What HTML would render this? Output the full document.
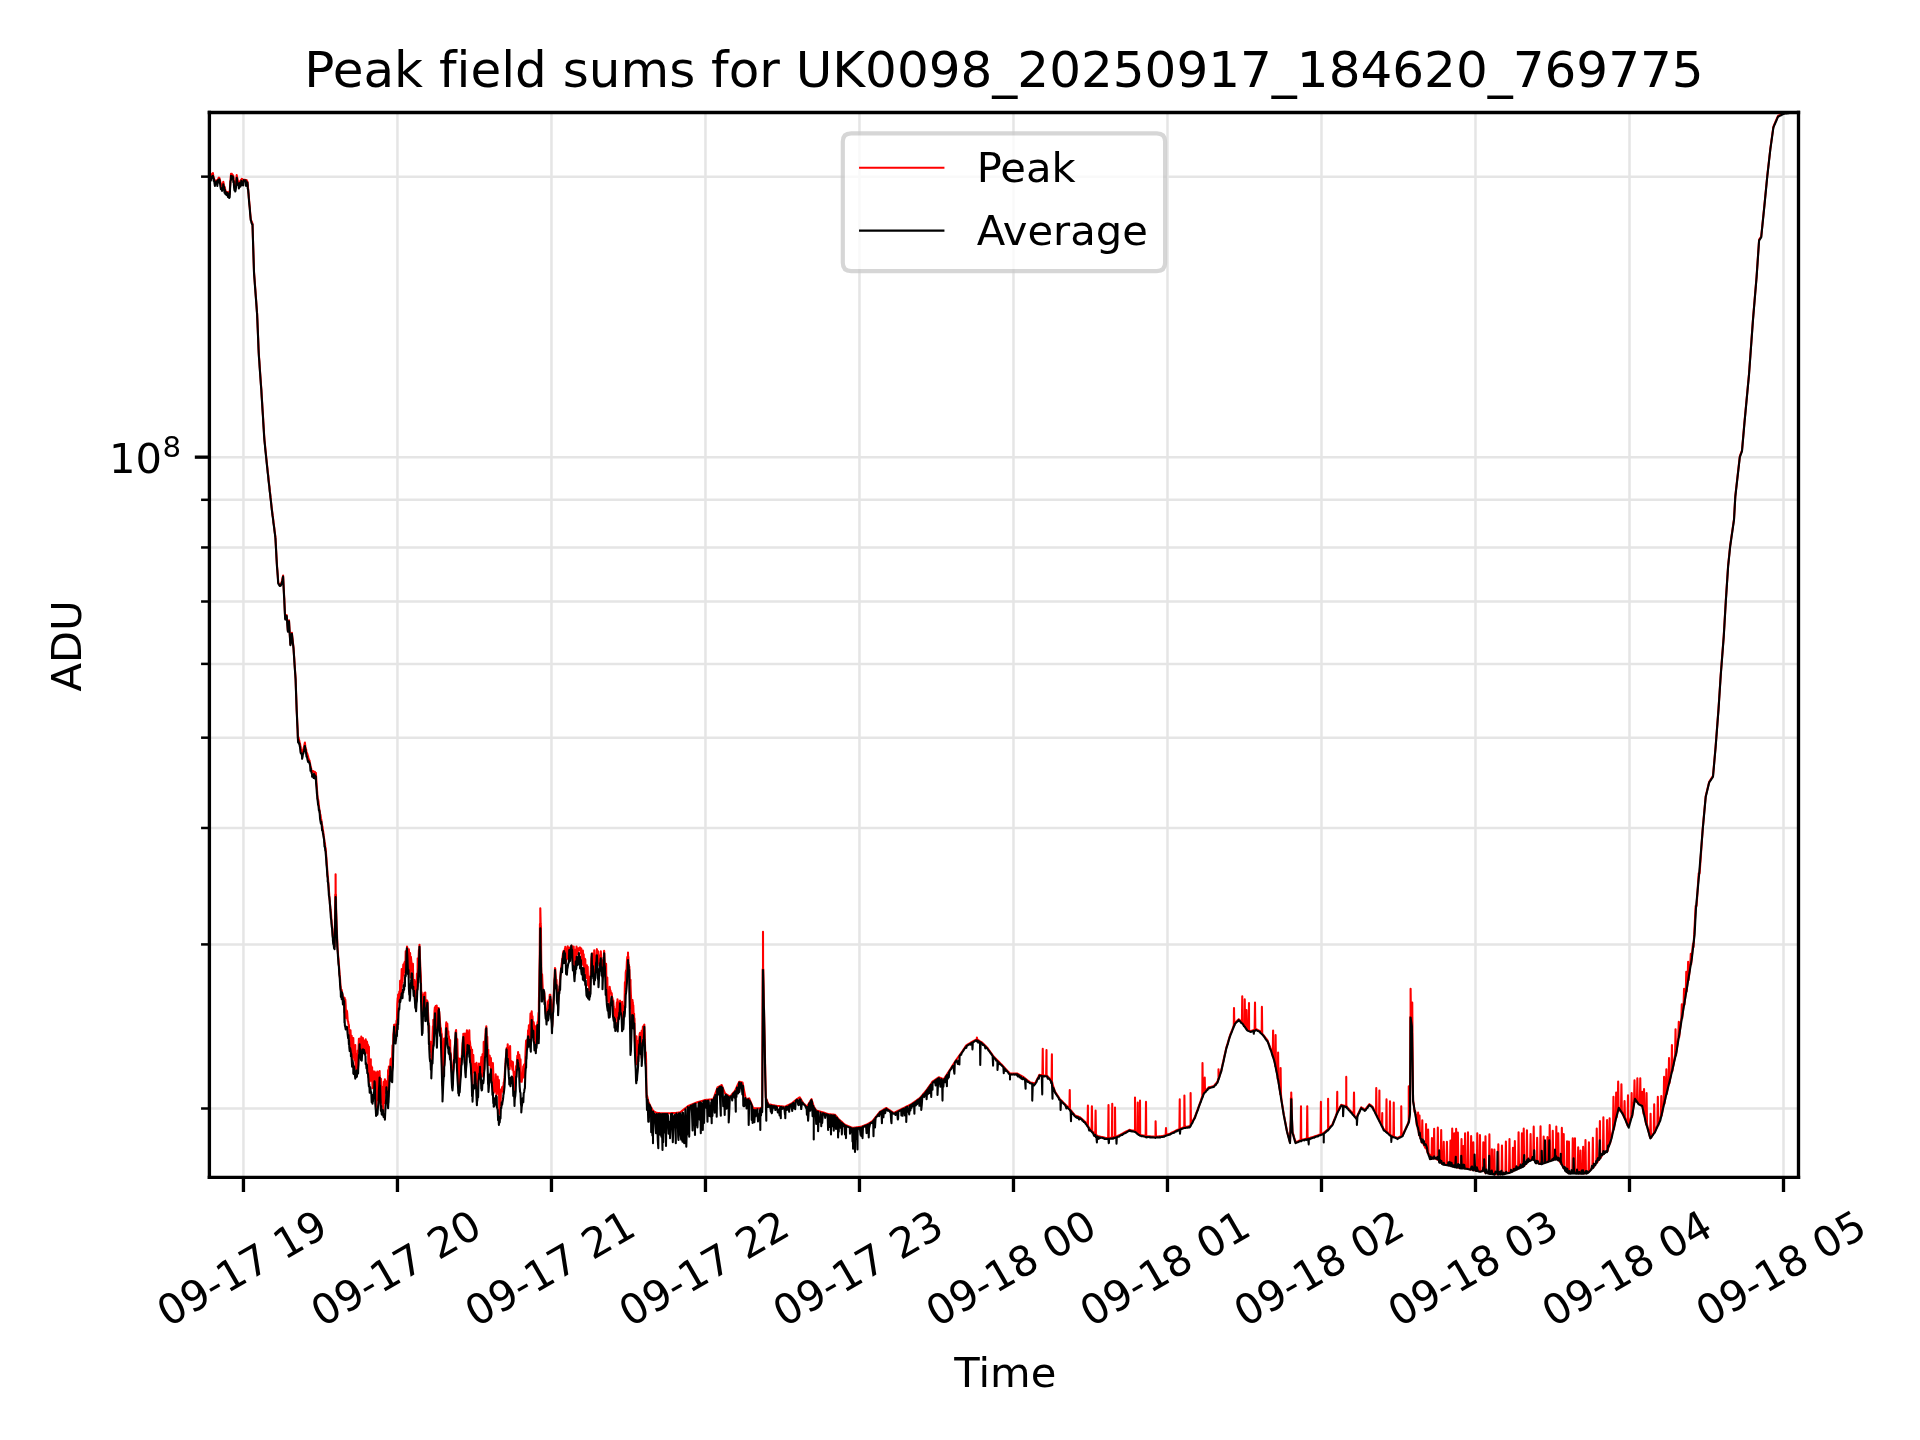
<!DOCTYPE html>
<html><head><meta charset="utf-8"><title>Peak field sums</title><style>html,body{margin:0;padding:0;background:#fff;overflow:hidden;width:1920px;height:1440px;}svg{display:block;will-change:transform;} text{font-variant-ligatures:none;font-feature-settings:"liga" 0;}</style></head><body>
<svg width="1920" height="1440" viewBox="0 0 460.8 345.6" version="1.1">
 <defs>
  <style type="text/css">*{stroke-linejoin: round; stroke-linecap: butt}</style>
 </defs>
 <g id="figure_1">
  <g id="patch_1">
   <path d="M 0 345.6 
L 460.8 345.6 
L 460.8 0 
L 0 0 
z
" style="fill: #ffffff"/>
  </g>
  <g id="axes_1">
   <g id="patch_2">
    <path d="M 50.256 282.576 
L 431.64 282.576 
L 431.64 27 
L 50.256 27 
z
" style="fill: #ffffff"/>
   </g>
   <g id="matplotlib.axis_1">
    <g id="xtick_1">
     <g id="line2d_1">
      <path d="M 58.428 282.576 
L 58.428 27 
" clip-path="url(#p43e6e4fcc2)" style="fill: none; stroke: #e5e5e5; stroke-width: 0.6; stroke-linecap: square"/>
     </g>
     <g id="line2d_2">
      <g>
       <path d="M 0 0 L 0 3.5" transform="translate(58.428 282.576)" style="stroke: #000000; stroke-width: 0.8"/>
      </g>
     </g>
     <g id="text_1">
      <text style="font-size: 10px; font-family: 'DejaVu Sans', sans-serif" transform="translate(40.33903 318.636909) rotate(-30)">09-17 19</text>
     </g>
    </g>
    <g id="xtick_2">
     <g id="line2d_3">
      <path d="M 95.3892 282.576 
L 95.3892 27 
" clip-path="url(#p43e6e4fcc2)" style="fill: none; stroke: #e5e5e5; stroke-width: 0.6; stroke-linecap: square"/>
     </g>
     <g id="line2d_4">
      <g>
       <path d="M 0 0 L 0 3.5" transform="translate(95.3892 282.576)" style="stroke: #000000; stroke-width: 0.8"/>
      </g>
     </g>
     <g id="text_2">
      <text style="font-size: 10px; font-family: 'DejaVu Sans', sans-serif" transform="translate(77.30023 318.636909) rotate(-30)">09-17 20</text>
     </g>
    </g>
    <g id="xtick_3">
     <g id="line2d_5">
      <path d="M 132.3504 282.576 
L 132.3504 27 
" clip-path="url(#p43e6e4fcc2)" style="fill: none; stroke: #e5e5e5; stroke-width: 0.6; stroke-linecap: square"/>
     </g>
     <g id="line2d_6">
      <g>
       <path d="M 0 0 L 0 3.5" transform="translate(132.3504 282.576)" style="stroke: #000000; stroke-width: 0.8"/>
      </g>
     </g>
     <g id="text_3">
      <text style="font-size: 10px; font-family: 'DejaVu Sans', sans-serif" transform="translate(114.26143 318.636909) rotate(-30)">09-17 21</text>
     </g>
    </g>
    <g id="xtick_4">
     <g id="line2d_7">
      <path d="M 169.3116 282.576 
L 169.3116 27 
" clip-path="url(#p43e6e4fcc2)" style="fill: none; stroke: #e5e5e5; stroke-width: 0.6; stroke-linecap: square"/>
     </g>
     <g id="line2d_8">
      <g>
       <path d="M 0 0 L 0 3.5" transform="translate(169.3116 282.576)" style="stroke: #000000; stroke-width: 0.8"/>
      </g>
     </g>
     <g id="text_4">
      <text style="font-size: 10px; font-family: 'DejaVu Sans', sans-serif" transform="translate(151.22263 318.636909) rotate(-30)">09-17 22</text>
     </g>
    </g>
    <g id="xtick_5">
     <g id="line2d_9">
      <path d="M 206.2728 282.576 
L 206.2728 27 
" clip-path="url(#p43e6e4fcc2)" style="fill: none; stroke: #e5e5e5; stroke-width: 0.6; stroke-linecap: square"/>
     </g>
     <g id="line2d_10">
      <g>
       <path d="M 0 0 L 0 3.5" transform="translate(206.2728 282.576)" style="stroke: #000000; stroke-width: 0.8"/>
      </g>
     </g>
     <g id="text_5">
      <text style="font-size: 10px; font-family: 'DejaVu Sans', sans-serif" transform="translate(188.18383 318.636909) rotate(-30)">09-17 23</text>
     </g>
    </g>
    <g id="xtick_6">
     <g id="line2d_11">
      <path d="M 243.234 282.576 
L 243.234 27 
" clip-path="url(#p43e6e4fcc2)" style="fill: none; stroke: #e5e5e5; stroke-width: 0.6; stroke-linecap: square"/>
     </g>
     <g id="line2d_12">
      <g>
       <path d="M 0 0 L 0 3.5" transform="translate(243.234 282.576)" style="stroke: #000000; stroke-width: 0.8"/>
      </g>
     </g>
     <g id="text_6">
      <text style="font-size: 10px; font-family: 'DejaVu Sans', sans-serif" transform="translate(224.8570 318.6369) rotate(-30)">09-18 00</text>
     </g>
    </g>
    <g id="xtick_7">
     <g id="line2d_13">
      <path d="M 280.1952 282.576 
L 280.1952 27 
" clip-path="url(#p43e6e4fcc2)" style="fill: none; stroke: #e5e5e5; stroke-width: 0.6; stroke-linecap: square"/>
     </g>
     <g id="line2d_14">
      <g>
       <path d="M 0 0 L 0 3.5" transform="translate(280.1952 282.576)" style="stroke: #000000; stroke-width: 0.8"/>
      </g>
     </g>
     <g id="text_7">
      <text style="font-size: 10px; font-family: 'DejaVu Sans', sans-serif" transform="translate(261.8182 318.6369) rotate(-30)">09-18 01</text>
     </g>
    </g>
    <g id="xtick_8">
     <g id="line2d_15">
      <path d="M 317.1564 282.576 
L 317.1564 27 
" clip-path="url(#p43e6e4fcc2)" style="fill: none; stroke: #e5e5e5; stroke-width: 0.6; stroke-linecap: square"/>
     </g>
     <g id="line2d_16">
      <g>
       <path d="M 0 0 L 0 3.5" transform="translate(317.1564 282.576)" style="stroke: #000000; stroke-width: 0.8"/>
      </g>
     </g>
     <g id="text_8">
      <text style="font-size: 10px; font-family: 'DejaVu Sans', sans-serif" transform="translate(298.7794 318.6369) rotate(-30)">09-18 02</text>
     </g>
    </g>
    <g id="xtick_9">
     <g id="line2d_17">
      <path d="M 354.1176 282.576 
L 354.1176 27 
" clip-path="url(#p43e6e4fcc2)" style="fill: none; stroke: #e5e5e5; stroke-width: 0.6; stroke-linecap: square"/>
     </g>
     <g id="line2d_18">
      <g>
       <path d="M 0 0 L 0 3.5" transform="translate(354.1176 282.576)" style="stroke: #000000; stroke-width: 0.8"/>
      </g>
     </g>
     <g id="text_9">
      <text style="font-size: 10px; font-family: 'DejaVu Sans', sans-serif" transform="translate(335.7406 318.6369) rotate(-30)">09-18 03</text>
     </g>
    </g>
    <g id="xtick_10">
     <g id="line2d_19">
      <path d="M 391.0788 282.576 
L 391.0788 27 
" clip-path="url(#p43e6e4fcc2)" style="fill: none; stroke: #e5e5e5; stroke-width: 0.6; stroke-linecap: square"/>
     </g>
     <g id="line2d_20">
      <g>
       <path d="M 0 0 L 0 3.5" transform="translate(391.0788 282.576)" style="stroke: #000000; stroke-width: 0.8"/>
      </g>
     </g>
     <g id="text_10">
      <text style="font-size: 10px; font-family: 'DejaVu Sans', sans-serif" transform="translate(372.7018 318.6369) rotate(-30)">09-18 04</text>
     </g>
    </g>
    <g id="xtick_11">
     <g id="line2d_21">
      <path d="M 428.04 282.576 
L 428.04 27 
" clip-path="url(#p43e6e4fcc2)" style="fill: none; stroke: #e5e5e5; stroke-width: 0.6; stroke-linecap: square"/>
     </g>
     <g id="line2d_22">
      <g>
       <path d="M 0 0 L 0 3.5" transform="translate(428.04 282.576)" style="stroke: #000000; stroke-width: 0.8"/>
      </g>
     </g>
     <g id="text_11">
      <text style="font-size: 10px; font-family: 'DejaVu Sans', sans-serif" transform="translate(409.6630 318.6369) rotate(-30)">09-18 05</text>
     </g>
    </g>
    <g id="text_12">
     <text style="font-size: 10px; font-family: 'DejaVu Sans', sans-serif; text-anchor: middle" x="241.2840" y="332.8764" transform="rotate(-0 241.2840 332.8764)">Time</text>
    </g>
   </g>
   <g id="matplotlib.axis_2">
    <g id="ytick_1">
     <g id="line2d_23">
      <path d="M 50.256 109.7184 
L 431.64 109.7184 
" clip-path="url(#p43e6e4fcc2)" style="fill: none; stroke: #e5e5e5; stroke-width: 0.6; stroke-linecap: square"/>
     </g>
     <g id="line2d_24">
      <g>
       <path d="M 0 0 L -3.5 0" transform="translate(50.256 109.7184)" style="stroke: #000000; stroke-width: 0.8"/>
      </g>
     </g>
     <g id="text_13">
      <!-- $\mathdefault{10^{8}}$ -->
      <g transform="translate(26.1600 114.4776)">
       <text>
        <tspan x="0" y="-0.976562" style="font-size: 10px; font-family: 'DejaVu Sans', sans-serif">1</tspan>
        <tspan x="6.362305" y="-0.976562" style="font-size: 10px; font-family: 'DejaVu Sans', sans-serif">0</tspan>
        <tspan x="12.820312" y="-4.804688" style="font-size: 7px; font-family: 'DejaVu Sans', sans-serif">8</tspan>
       </text>
      </g>
     </g>
    </g>
    <g id="ytick_2">
     <g id="line2d_25">
      <path d="M 50.256 266.040525 
L 431.64 266.040525 
" clip-path="url(#p43e6e4fcc2)" style="fill: none; stroke: #e5e5e5; stroke-width: 0.6; stroke-linecap: square"/>
     </g>
     <g id="line2d_26">
      <g>
       <path d="M 0 0 L -2 0" transform="translate(50.256 266.040525)" style="stroke: #000000; stroke-width: 0.6"/>
      </g>
     </g>
    </g>
    <g id="ytick_3">
     <g id="line2d_27">
      <path d="M 50.256 226.658349 
L 431.64 226.658349 
" clip-path="url(#p43e6e4fcc2)" style="fill: none; stroke: #e5e5e5; stroke-width: 0.6; stroke-linecap: square"/>
     </g>
     <g id="line2d_28">
      <g>
       <path d="M 0 0 L -2 0" transform="translate(50.256 226.658349)" style="stroke: #000000; stroke-width: 0.6"/>
      </g>
     </g>
    </g>
    <g id="ytick_4">
     <g id="line2d_29">
      <path d="M 50.256 198.71625 
L 431.64 198.71625 
" clip-path="url(#p43e6e4fcc2)" style="fill: none; stroke: #e5e5e5; stroke-width: 0.6; stroke-linecap: square"/>
     </g>
     <g id="line2d_30">
      <g>
       <path d="M 0 0 L -2 0" transform="translate(50.256 198.71625)" style="stroke: #000000; stroke-width: 0.6"/>
      </g>
     </g>
    </g>
    <g id="ytick_5">
     <g id="line2d_31">
      <path d="M 50.256 177.042675 
L 431.64 177.042675 
" clip-path="url(#p43e6e4fcc2)" style="fill: none; stroke: #e5e5e5; stroke-width: 0.6; stroke-linecap: square"/>
     </g>
     <g id="line2d_32">
      <g>
       <path d="M 0 0 L -2 0" transform="translate(50.256 177.042675)" style="stroke: #000000; stroke-width: 0.6"/>
      </g>
     </g>
    </g>
    <g id="ytick_6">
     <g id="line2d_33">
      <path d="M 50.256 159.334074 
L 431.64 159.334074 
" clip-path="url(#p43e6e4fcc2)" style="fill: none; stroke: #e5e5e5; stroke-width: 0.6; stroke-linecap: square"/>
     </g>
     <g id="line2d_34">
      <g>
       <path d="M 0 0 L -2 0" transform="translate(50.256 159.334074)" style="stroke: #000000; stroke-width: 0.6"/>
      </g>
     </g>
    </g>
    <g id="ytick_7">
     <g id="line2d_35">
      <path d="M 50.256 144.361666 
L 431.64 144.361666 
" clip-path="url(#p43e6e4fcc2)" style="fill: none; stroke: #e5e5e5; stroke-width: 0.6; stroke-linecap: square"/>
     </g>
     <g id="line2d_36">
      <g>
       <path d="M 0 0 L -2 0" transform="translate(50.256 144.361666)" style="stroke: #000000; stroke-width: 0.6"/>
      </g>
     </g>
    </g>
    <g id="ytick_8">
     <g id="line2d_37">
      <path d="M 50.256 131.391976 
L 431.64 131.391976 
" clip-path="url(#p43e6e4fcc2)" style="fill: none; stroke: #e5e5e5; stroke-width: 0.6; stroke-linecap: square"/>
     </g>
     <g id="line2d_38">
      <g>
       <path d="M 0 0 L -2 0" transform="translate(50.256 131.391976)" style="stroke: #000000; stroke-width: 0.6"/>
      </g>
     </g>
    </g>
    <g id="ytick_9">
     <g id="line2d_39">
      <path d="M 50.256 119.951898 
L 431.64 119.951898 
" clip-path="url(#p43e6e4fcc2)" style="fill: none; stroke: #e5e5e5; stroke-width: 0.6; stroke-linecap: square"/>
     </g>
     <g id="line2d_40">
      <g>
       <path d="M 0 0 L -2 0" transform="translate(50.256 119.951898)" style="stroke: #000000; stroke-width: 0.6"/>
      </g>
     </g>
    </g>
    <g id="ytick_10">
     <g id="line2d_41">
      <path d="M 50.256 42.394125 
L 431.64 42.394125 
" clip-path="url(#p43e6e4fcc2)" style="fill: none; stroke: #e5e5e5; stroke-width: 0.6; stroke-linecap: square"/>
     </g>
     <g id="line2d_42">
      <g>
       <path d="M 0 0 L -2 0" transform="translate(50.256 42.394125)" style="stroke: #000000; stroke-width: 0.6"/>
      </g>
     </g>
    </g>
    <g id="text_14">
     <text style="font-size: 10px; font-family: 'DejaVu Sans', sans-serif; text-anchor: middle" x="19.3963" y="155.0040" transform="rotate(-90 19.3963 155.0040)">ADU</text>
    </g>
   </g>
   <g id="line2d_43">
    <path d="M 50.304 42.254966 
L 50.328 42.182571 
L 50.424 42.281031 
L 50.52 42.314468 
L 50.616 41.956691 
L 50.712 42.061817 
L 50.808 42.006429 
L 50.904 41.843817 
L 51 41.594347 
L 51.096 41.594642 
L 51.096 41.523974 
L 51.192 42.220038 
L 51.288 42.659609 
L 51.384 42.887783 
L 51.48 43.140677 
L 51.576 43.683489 
L 51.6 43.789126 
L 51.672 43.903274 
L 51.768 43.577748 
L 51.864 43.613207 
L 51.96 43.366783 
L 52.056 43.488624 
L 52.152 43.320795 
L 52.2 43.159026 
L 52.248 43.109433 
L 52.344 43.0066 
L 52.44 42.712671 
L 52.536 42.635948 
L 52.608 42.698669 
L 52.632 42.713756 
L 52.728 42.976362 
L 52.824 43.35809 
L 52.92 43.932814 
L 53.016 44.347307 
L 53.1 44.921716 
L 53.112 44.865172 
L 53.208 44.719918 
L 53.304 44.480647 
L 53.4 44.253215 
L 53.496 43.926286 
L 53.592 43.920618 
L 53.592 43.627819 
L 53.688 44.123861 
L 53.784 44.620633 
L 53.88 44.852042 
L 53.976 45.09358 
L 54.072 45.56771 
L 54.168 45.985816 
L 54.192 46.137784 
L 54.264 45.942847 
L 54.36 46.106851 
L 54.456 46.079237 
L 54.552 46.261442 
L 54.648 46.396902 
L 54.696 46.115827 
L 54.744 46.3409 
L 54.84 46.242965 
L 54.936 46.406789 
L 55.032 46.553463 
L 55.104 46.541125 
L 55.128 46.05441 
L 55.224 44.66054 
L 55.32 43.340357 
L 55.416 42.177051 
L 55.44 41.729195 
L 55.512 41.922862 
L 55.608 41.706511 
L 55.704 41.794694 
L 55.8 42.048532 
L 55.896 42.119414 
L 55.944 42.091418 
L 55.992 42.320457 
L 56.088 43.050823 
L 56.184 43.610274 
L 56.28 44.206412 
L 56.376 44.69096 
L 56.448 45.212604 
L 56.472 45.119206 
L 56.568 44.295807 
L 56.664 43.590462 
L 56.76 42.599375 
L 56.808 42.029662 
L 56.856 42.314326 
L 56.952 42.811349 
L 57.048 43.184738 
L 57.144 43.856121 
L 57.192 44.158952 
L 57.24 44.092353 
L 57.336 43.740539 
L 57.432 43.69964 
L 57.528 43.576913 
L 57.624 43.554603 
L 57.72 43.371298 
L 57.816 43.184319 
L 57.912 43.264728 
L 57.96 43.075854 
L 58.008 42.939751 
L 58.104 43.210939 
L 58.2 42.981421 
L 58.296 43.100226 
L 58.392 43.290282 
L 58.488 43.318261 
L 58.584 43.254515 
L 58.68 43.158321 
L 58.776 43.168383 
L 58.872 43.15535 
L 58.968 43.306041 
L 59.064 43.242485 
L 59.16 43.21788 
L 59.208 43.24413 
L 59.256 43.386818 
L 59.352 43.564201 
L 59.448 43.766374 
L 59.448 44.093745 
L 59.544 45.280258 
L 59.64 46.376516 
L 59.736 47.472774 
L 59.832 48.569032 
L 59.928 49.66529 
L 60.024 50.761548 
L 60.12 51.857806 
L 60.192 52.68 
L 60.216 52.739294 
L 60.312 52.976471 
L 60.408 53.213647 
L 60.504 53.450824 
L 60.6 53.688 
L 60.6 53.688 
L 60.696 56.7536 
L 60.792 59.8192 
L 60.888 62.8848 
L 60.96 65.184 
L 60.984 65.506839 
L 61.08 66.798194 
L 61.176 68.089548 
L 61.272 69.380903 
L 61.368 70.672258 
L 61.464 71.963613 
L 61.56 73.254968 
L 61.656 74.546323 
L 61.704 75.192 
L 61.752 76.342545 
L 61.848 78.643636 
L 61.944 80.944727 
L 62.04 83.245818 
L 62.1 84.684 
L 62.136 85.19448 
L 62.232 86.55576 
L 62.328 87.91704 
L 62.424 89.27832 
L 62.52 90.6396 
L 62.616 92.00088 
L 62.7 93.192 
L 62.712 93.385524 
L 62.808 94.933714 
L 62.904 96.481905 
L 63 98.030095 
L 63.096 99.578286 
L 63.192 101.126476 
L 63.288 102.674667 
L 63.384 104.222857 
L 63.456 105.384 
L 63.48 105.621714 
L 63.576 106.572571 
L 63.672 107.523429 
L 63.768 108.474286 
L 63.864 109.425143 
L 63.96 110.376 
L 63.96 110.376 
L 64.056 111.264889 
L 64.152 112.153778 
L 64.248 113.042667 
L 64.344 113.931556 
L 64.44 114.820444 
L 64.536 115.709333 
L 64.608 116.376 
L 64.632 116.59632 
L 64.728 117.4776 
L 64.824 118.35888 
L 64.92 119.24016 
L 65.016 120.12144 
L 65.112 121.00272 
L 65.208 121.884 
L 65.208 121.884 
L 65.304 122.634 
L 65.4 123.384 
L 65.496 124.134 
L 65.592 124.884 
L 65.592 124.884 
L 65.688 125.645143 
L 65.784 126.406286 
L 65.88 127.167429 
L 65.976 127.928571 
L 66.072 128.689714 
L 66.096 128.88 
L 66.168 130.1808 
L 66.264 131.9152 
L 66.36 133.6496 
L 66.456 135.384 
L 66.456 135.384 
L 66.552 136.669714 
L 66.648 137.955429 
L 66.744 139.241143 
L 66.792 139.884 
L 66.84 139.941882 
L 66.936 140.057647 
L 67.032 140.173412 
L 67.128 140.289176 
L 67.2 140.376 
L 67.224 140.3432 
L 67.32 140.212 
L 67.416 140.0808 
L 67.512 139.9496 
L 67.56 139.884 
L 67.608 139.6665 
L 67.704 139.2315 
L 67.8 138.7965 
L 67.896 138.3615 
L 67.944 138.144 
L 67.992 139.095273 
L 68.088 140.997818 
L 68.184 142.900364 
L 68.208 143.376 
L 68.28 144.8808 
L 68.376 146.8872 
L 68.448 148.392 
L 68.472 148.3408 
L 68.568 148.136 
L 68.664 147.9312 
L 68.76 147.7264 
L 68.808 147.624 
L 68.856 148.252 
L 68.952 149.508 
L 69.048 150.764 
L 69.096 151.392 
L 69.144 150.936 
L 69.24 150.024 
L 69.336 149.112 
L 69.36 148.884 
L 69.432 150.115714 
L 69.528 151.758 
L 69.624 153.400286 
L 69.696 154.632 
L 69.72 154.4488 
L 69.816 153.716 
L 69.912 152.9832 
L 70.008 152.2504 
L 70.056 151.884 
L 70.104 152.3205 
L 70.2 153.1935 
L 70.296 154.0665 
L 70.392 154.9395 
L 70.44 155.376 
L 70.488 156.091429 
L 70.584 157.522286 
L 70.68 158.953143 
L 70.776 160.384 
L 70.872 161.814857 
L 70.944 162.888 
L 70.968 163.568727 
L 71.064 166.291636 
L 71.16 169.014545 
L 71.208 170.376 
L 71.256 171.4 
L 71.352 173.448 
L 71.424 174.984 
L 71.448 175.684 
L 71.496 177.084 
L 71.544 176.902288 
L 71.64 176.975075 
L 71.736 177.471532 
L 71.832 177.740065 
L 71.928 178.340427 
L 72 178.801187 
L 72.024 178.531742 
L 72.12 179.178654 
L 72.216 179.622303 
L 72.312 180.003895 
L 72.408 180.575777 
L 72.504 180.776083 
L 72.504 181.165975 
L 72.6 180.336209 
L 72.696 180.415861 
L 72.792 179.932302 
L 72.888 179.480693 
L 72.984 179.178452 
L 73.08 178.645195 
L 73.152 178.301392 
L 73.176 178.222769 
L 73.272 179.096388 
L 73.368 179.719514 
L 73.464 179.776898 
L 73.56 180.602657 
L 73.656 181.117841 
L 73.656 180.739047 
L 73.752 180.903867 
L 73.848 181.343011 
L 73.944 181.523178 
L 74.04 182.076906 
L 74.136 182.195341 
L 74.232 182.481867 
L 74.304 182.556106 
L 74.328 182.957497 
L 74.424 183.271601 
L 74.52 183.827405 
L 74.616 184.145131 
L 74.712 184.636396 
L 74.808 184.948967 
L 74.904 185.286216 
L 74.904 185.33756 
L 75 185.257402 
L 75.096 185.064271 
L 75.192 185.053281 
L 75.288 185.259764 
L 75.384 185.315961 
L 75.48 185.303812 
L 75.576 185.248311 
L 75.672 185.804899 
L 75.768 185.907236 
L 75.792 185.441432 
L 75.864 186.342114 
L 75.96 187.864409 
L 76.056 189.249911 
L 76.152 190.348546 
L 76.152 190.718564 
L 76.248 191.580802 
L 76.344 191.847647 
L 76.44 192.425111 
L 76.536 193.405989 
L 76.632 194.200666 
L 76.656 194.337437 
L 76.728 194.613813 
L 76.824 195.294369 
L 76.92 195.632239 
L 77.016 196.377661 
L 77.112 196.726529 
L 77.208 197.692318 
L 77.304 197.945106 
L 77.4 198.808551 
L 77.4 198.372468 
L 77.496 199.160234 
L 77.592 199.738333 
L 77.688 200.563408 
L 77.784 201.188663 
L 77.88 202.113748 
L 77.976 202.351249 
L 78.072 203.268064 
L 78.144 203.562658 
L 78.168 203.731729 
L 78.264 205.031076 
L 78.36 206.278029 
L 78.456 207.523905 
L 78.552 208.962935 
L 78.648 210.416129 
L 78.648 210.00384 
L 78.744 211.136373 
L 78.84 212.436143 
L 78.936 213.591728 
L 79.032 214.820134 
L 79.128 216.014582 
L 79.152 216.269336 
L 79.224 217.217515 
L 79.32 218.224524 
L 79.416 218.897451 
L 79.512 220.205425 
L 79.608 221.601516 
L 79.704 222.213519 
L 79.8 223.359428 
L 79.896 224.900052 
L 79.896 224.420813 
L 79.992 225.526684 
L 80.088 225.898832 
L 80.184 226.666422 
L 80.28 226.812885 
L 80.304 227.166266 
L 80.376 223.108465 
L 80.46 214.684679 
L 80.472 218.653367 
L 80.544 214.684679 
L 80.544 209.808 
L 80.568 215.590865 
L 80.628 214.684679 
L 80.664 217.947855 
L 80.76 221.011731 
L 80.808 222.645823 
L 80.856 223.588653 
L 80.952 225.958333 
L 81 227.309718 
L 81.048 227.890364 
L 81.144 229.340439 
L 81.24 230.149824 
L 81.336 231.513032 
L 81.432 232.798189 
L 81.528 234.016632 
L 81.624 235.028004 
L 81.72 236.575785 
L 81.768 236.749268 
L 81.816 237.357107 
L 81.912 237.669438 
L 82.008 237.583245 
L 82.104 238.285725 
L 82.2 238.559222 
L 82.296 239.154602 
L 82.392 239.260253 
L 82.488 239.460935 
L 82.584 240.001388 
L 82.584 240.051833 
L 82.68 243.000767 
L 82.704 239.45452 
L 82.776 240.994591 
L 82.872 239.9112 
L 82.968 241.298938 
L 83.064 244.37081 
L 83.16 242.460134 
L 83.256 243.576008 
L 83.28 242.666665 
L 83.352 243.468517 
L 83.448 245.015357 
L 83.544 245.147079 
L 83.64 245.856902 
L 83.736 245.969531 
L 83.76 246.812835 
L 83.832 247.214256 
L 83.928 250.362947 
L 84.024 250.048258 
L 84.12 247.270743 
L 84.216 249.482013 
L 84.216 252.288 
L 84.312 251.600311 
L 84.408 248.597632 
L 84.504 252.525589 
L 84.6 254.346549 
L 84.696 249.375389 
L 84.792 251.263074 
L 84.792 249.133291 
L 84.888 253.459473 
L 84.984 253.343622 
L 85.08 253.504294 
L 85.176 254.555315 
L 85.272 250.814428 
L 85.32 255.881622 
L 85.368 255.625575 
L 85.464 256.642667 
L 85.56 253.091409 
L 85.656 256.400889 
L 85.752 256.28 
L 85.848 252.131201 
L 85.944 252.694751 
L 85.968 252.495276 
L 86.04 251.782784 
L 86.136 249.283263 
L 86.232 250.580575 
L 86.304 250.032837 
L 86.328 249.223964 
L 86.424 249.503621 
L 86.52 251.834085 
L 86.616 250.107868 
L 86.664 252.154489 
L 86.712 248.790933 
L 86.808 252.231115 
L 86.904 251.164417 
L 87 249.838073 
L 87.096 249.139736 
L 87.12 249.476775 
L 87.192 250.512988 
L 87.288 251.173689 
L 87.384 252.07008 
L 87.48 249.814047 
L 87.576 252.59232 
L 87.672 251.664047 
L 87.72 252.984 
L 87.768 249.452967 
L 87.864 252.565929 
L 87.96 251.543354 
L 88.056 251.860587 
L 88.056 249.950025 
L 88.152 250.533924 
L 88.248 252.772342 
L 88.344 250.814158 
L 88.416 258.45134 
L 88.44 252.561372 
L 88.536 251.21723 
L 88.632 259.8 
L 88.728 257.781167 
L 88.824 255.751077 
L 88.92 255.489627 
L 88.992 254.231883 
L 89.016 259.36849 
L 89.112 255.847131 
L 89.208 257.717179 
L 89.304 256.153208 
L 89.4 261.185117 
L 89.472 260.463111 
L 89.496 257.034229 
L 89.592 260.180487 
L 89.688 260.981709 
L 89.784 258.998017 
L 89.88 259.714105 
L 89.928 257.173718 
L 89.976 259.832772 
L 90.072 262.283576 
L 90.168 261.285627 
L 90.168 257.48143 
L 90.264 265.997053 
L 90.36 265.394609 
L 90.456 260.142565 
L 90.552 257.162487 
L 90.624 261.559653 
L 90.648 263.989155 
L 90.744 264.01015 
L 90.84 259.022903 
L 90.936 261.1356 
L 91.032 257.263556 
L 91.104 257.042885 
L 91.128 258.23093 
L 91.224 259.244909 
L 91.32 259.981254 
L 91.416 264.605143 
L 91.44 258.883517 
L 91.512 261.268358 
L 91.608 263.239539 
L 91.704 263.174077 
L 91.8 265.376665 
L 91.896 264.750354 
L 91.92 260.83517 
L 91.992 266.883789 
L 92.088 259.60824 
L 92.184 264.793421 
L 92.28 261.214671 
L 92.376 259.010746 
L 92.376 262.392319 
L 92.472 260.957333 
L 92.568 259.626144 
L 92.664 261.8928 
L 92.736 259.487848 
L 92.76 260.656421 
L 92.856 261.104734 
L 92.952 261.22473 
L 93.048 260.90239 
L 93.144 256.786452 
L 93.192 263.201863 
L 93.24 258.99309 
L 93.336 255.990491 
L 93.432 258.445667 
L 93.528 257.371785 
L 93.624 256.4376 
L 93.672 255.552 
L 93.72 254.336749 
L 93.816 254.057486 
L 93.912 257.308465 
L 94.008 255.321954 
L 94.104 255.308734 
L 94.128 253.192685 
L 94.2 250.86814 
L 94.296 254.373474 
L 94.392 248.228866 
L 94.488 247.589603 
L 94.584 245.976 
L 94.584 245.976 
L 94.68 246.02449 
L 94.776 245.88838 
L 94.872 246.605345 
L 94.944 249.767375 
L 94.968 248.231109 
L 95.064 248.508339 
L 95.16 244.992634 
L 95.256 245.190188 
L 95.352 240.96623 
L 95.448 239.521098 
L 95.52 240.524655 
L 95.544 238.661861 
L 95.64 239.004324 
L 95.736 239.612177 
L 95.832 237.946799 
L 95.928 239.657227 
L 96 238.945835 
L 96.024 235.417802 
L 96.12 237.424915 
L 96.216 238.305073 
L 96.312 235.643064 
L 96.408 232.574457 
L 96.408 236.858232 
L 96.504 233.137958 
L 96.6 235.773962 
L 96.696 233.410808 
L 96.792 231.49091 
L 96.888 234.091265 
L 96.888 233.301421 
L 96.984 232.569311 
L 97.08 231.011571 
L 97.176 230.798921 
L 97.2 232.967003 
L 97.272 233.2932 
L 97.368 228.289823 
L 97.464 229.768261 
L 97.56 228.557034 
L 97.656 227.763836 
L 97.68 227.162397 
L 97.752 227.431528 
L 97.848 229.82896 
L 97.944 228.089542 
L 97.992 230.010652 
L 98.04 229.158833 
L 98.136 227.855144 
L 98.232 233.647195 
L 98.328 230.848987 
L 98.328 230.79705 
L 98.424 228.705533 
L 98.52 234.597158 
L 98.616 229.632172 
L 98.712 230.628011 
L 98.808 231.650942 
L 98.808 232.97542 
L 98.904 232.454868 
L 99 232.432673 
L 99.096 231.308137 
L 99.192 236.140017 
L 99.192 236.217937 
L 99.288 236.933257 
L 99.384 236.905171 
L 99.48 235.189079 
L 99.576 237.796774 
L 99.672 240.4752 
L 99.768 235.687914 
L 99.792 236.8894 
L 99.864 237.653352 
L 99.96 238.3105 
L 100.056 233.679736 
L 100.152 234.032357 
L 100.2 236.696157 
L 100.248 229.965612 
L 100.344 230.904355 
L 100.44 230.479118 
L 100.536 228.002288 
L 100.632 227.7672 
L 100.68 226.728 
L 100.728 228.079385 
L 100.824 230.782154 
L 100.92 233.015676 
L 100.992 234.125943 
L 101.016 235.080488 
L 101.112 239.096075 
L 101.208 238.16797 
L 101.28 246.237473 
L 101.304 247.502182 
L 101.4 240.656573 
L 101.496 243.895892 
L 101.592 238.681148 
L 101.688 238.817289 
L 101.784 239.019297 
L 101.808 238.728 
L 101.88 238.258579 
L 101.976 239.70143 
L 102.072 238.206826 
L 102.168 243.870775 
L 102.192 240.510636 
L 102.264 241.2167 
L 102.36 242.669647 
L 102.456 240.096974 
L 102.552 240.783529 
L 102.6 240.312 
L 102.648 241.441412 
L 102.744 243.217085 
L 102.84 244.944279 
L 102.936 247.850431 
L 103.008 246.210735 
L 103.032 250.217143 
L 103.128 250.616559 
L 103.224 252.395996 
L 103.32 250.036935 
L 103.416 250.131491 
L 103.512 251.691089 
L 103.512 253.147821 
L 103.608 255.2016 
L 103.704 254.0832 
L 103.8 248.844508 
L 103.896 246.319506 
L 103.992 250.657759 
L 103.992 244.744018 
L 104.088 247.151678 
L 104.184 246.294254 
L 104.28 242.684357 
L 104.376 241.733071 
L 104.4 242.323571 
L 104.472 243.392133 
L 104.568 241.431927 
L 104.664 247.155343 
L 104.76 245.523691 
L 104.808 241.338961 
L 104.856 242.303553 
L 104.952 244.669405 
L 105.048 245.916 
L 105.144 241.91845 
L 105.24 242.336279 
L 105.288 241.92 
L 105.336 242.523365 
L 105.432 242.86064 
L 105.528 244.328087 
L 105.624 245.643667 
L 105.72 246.847882 
L 105.792 246.702655 
L 105.816 246.738458 
L 105.912 247.885934 
L 106.008 248.163676 
L 106.104 251.095042 
L 106.2 260.459874 
L 106.2 253.383676 
L 106.296 260.038266 
L 106.392 254.935798 
L 106.488 254.719492 
L 106.584 249.250224 
L 106.608 255.528 
L 106.68 253.241255 
L 106.776 252.176072 
L 106.872 249.833037 
L 106.968 247.768677 
L 107.064 245.970496 
L 107.112 245.379172 
L 107.16 246.7536 
L 107.256 245.989109 
L 107.352 245.694388 
L 107.448 248.153669 
L 107.544 248.248127 
L 107.592 247.496455 
L 107.64 248.824648 
L 107.736 248.726927 
L 107.832 249.9155 
L 107.928 251.8368 
L 108.024 249.622772 
L 108.072 252.18135 
L 108.12 252.744328 
L 108.216 253.124714 
L 108.312 255.244747 
L 108.408 257.110008 
L 108.504 257.654855 
L 108.6 260.291293 
L 108.6 260.008155 
L 108.696 258.337617 
L 108.792 256.635847 
L 108.888 254.836322 
L 108.984 254.113951 
L 109.08 251.918603 
L 109.176 250.998766 
L 109.272 249.573818 
L 109.368 247.688576 
L 109.392 247.4715 
L 109.464 247.185741 
L 109.56 250.514131 
L 109.656 249.987166 
L 109.752 249.445994 
L 109.848 253.316733 
L 109.944 259.198246 
L 109.992 259.291985 
L 110.04 253.916468 
L 110.136 260.95584 
L 110.232 259.677377 
L 110.328 258.25595 
L 110.424 254.114337 
L 110.52 256.295285 
L 110.592 257.904986 
L 110.616 254.042079 
L 110.712 254.83353 
L 110.808 254.11776 
L 110.904 252.285872 
L 111 250.530668 
L 111.096 249.409274 
L 111.192 248.712 
L 111.192 248.095582 
L 111.288 248.145619 
L 111.384 250.95882 
L 111.48 252.16831 
L 111.576 248.054131 
L 111.672 253.34602 
L 111.768 253.969708 
L 111.792 255.685287 
L 111.864 253.091984 
L 111.96 249.126288 
L 112.056 247.248556 
L 112.152 248.110628 
L 112.2 248.042328 
L 112.248 249.343294 
L 112.344 250.647273 
L 112.44 248.632258 
L 112.536 248.393702 
L 112.632 247.277647 
L 112.728 250.877143 
L 112.728 249.724165 
L 112.824 250.375645 
L 112.92 251.77508 
L 113.016 251.275607 
L 113.112 257.691429 
L 113.208 252.162438 
L 113.304 251.93236 
L 113.4 262.32 
L 113.4 258.645612 
L 113.496 253.688804 
L 113.592 253.198378 
L 113.688 255.916643 
L 113.784 256.714381 
L 113.88 257.384272 
L 113.976 256.453367 
L 114 255.362303 
L 114.072 258.1344 
L 114.168 255.98716 
L 114.264 259.143934 
L 114.36 255.087161 
L 114.456 257.304276 
L 114.48 262.335125 
L 114.552 259.561321 
L 114.648 260.006352 
L 114.744 260.025539 
L 114.84 257.504181 
L 114.936 255.264008 
L 115.032 255.585672 
L 115.128 256.318159 
L 115.2 255.528 
L 115.224 255.238599 
L 115.32 255.730997 
L 115.416 255.855581 
L 115.512 253.693558 
L 115.608 254.98591 
L 115.608 258.41441 
L 115.704 258.214906 
L 115.8 253.005938 
L 115.896 253.271252 
L 115.992 258.16224 
L 116.088 250.054601 
L 116.184 255.761927 
L 116.208 256.592681 
L 116.28 251.116669 
L 116.376 251.664452 
L 116.472 248.961489 
L 116.568 246.960408 
L 116.664 247.304 
L 116.712 246.312 
L 116.76 247.343841 
L 116.856 250.264269 
L 116.952 248.832457 
L 117.048 253.700925 
L 117.144 253.918933 
L 117.192 251.959452 
L 117.24 254.895346 
L 117.336 255.575622 
L 117.432 253.315044 
L 117.528 253.357296 
L 117.624 254.954275 
L 117.72 254.822583 
L 117.792 256.522426 
L 117.816 253.939884 
L 117.912 256.256229 
L 118.008 255.503082 
L 118.104 255.696742 
L 118.2 260.045508 
L 118.296 255.151182 
L 118.392 257.593393 
L 118.488 261.098127 
L 118.488 262.294705 
L 118.584 259.770279 
L 118.68 259.645943 
L 118.776 259.892168 
L 118.872 261.966343 
L 118.968 257.859328 
L 119.064 259.5754 
L 119.16 262.7808 
L 119.208 262.728 
L 119.256 262.164855 
L 119.352 259.919173 
L 119.448 258.351651 
L 119.544 261.006192 
L 119.64 261.908054 
L 119.688 262.263392 
L 119.736 259.22203 
L 119.832 267.370524 
L 119.928 264.793538 
L 120.024 261.623382 
L 120.12 265.223067 
L 120.192 263.389722 
L 120.216 261.474087 
L 120.312 261.833263 
L 120.408 261.910467 
L 120.504 260.903749 
L 120.6 260.800952 
L 120.696 261.85598 
L 120.792 260.873812 
L 120.792 262.257271 
L 120.888 259.789906 
L 120.984 259.729259 
L 121.08 258.702141 
L 121.176 257.25504 
L 121.272 256.02786 
L 121.368 254.204354 
L 121.464 253.380468 
L 121.56 252.179294 
L 121.608 251.52 
L 121.656 251.474882 
L 121.752 253.201863 
L 121.848 250.650595 
L 121.944 252.140566 
L 122.04 252.931205 
L 122.136 254.871594 
L 122.208 254.339861 
L 122.232 251.513044 
L 122.328 256.582693 
L 122.424 251.028844 
L 122.52 255.588334 
L 122.616 254.851691 
L 122.712 255.711289 
L 122.808 254.692053 
L 122.88 255.514217 
L 122.904 256.04172 
L 123 256.755732 
L 123.096 254.878455 
L 123.192 256.851467 
L 123.288 257.711834 
L 123.384 262.051098 
L 123.48 257.337581 
L 123.528 259.368808 
L 123.576 257.372604 
L 123.672 260.61895 
L 123.768 258.880976 
L 123.864 255.857994 
L 123.96 256.797258 
L 124.056 255.023506 
L 124.152 253.390871 
L 124.2 253.447703 
L 124.248 254.250353 
L 124.344 252.485651 
L 124.44 254.574962 
L 124.536 255.95284 
L 124.608 253.212489 
L 124.632 253.178079 
L 124.728 253.98783 
L 124.824 259.551925 
L 124.92 254.209127 
L 125.016 258.853564 
L 125.112 259.599538 
L 125.112 259.412481 
L 125.208 259.628255 
L 125.304 258.762297 
L 125.4 257.774231 
L 125.496 257.489151 
L 125.592 255.886475 
L 125.688 258.617259 
L 125.784 255.468261 
L 125.808 256.465516 
L 125.88 258.123752 
L 125.976 258.11182 
L 126.072 253.969562 
L 126.168 251.569876 
L 126.264 249.72539 
L 126.312 249.930086 
L 126.36 251.262897 
L 126.456 251.688 
L 126.552 249.505438 
L 126.648 249.768 
L 126.744 247.271167 
L 126.792 248.328 
L 126.84 248.616 
L 126.936 246.096394 
L 127.032 247.114942 
L 127.128 250.344 
L 127.224 246.126239 
L 127.32 243.227259 
L 127.392 247.569641 
L 127.416 250.668875 
L 127.512 244.384461 
L 127.608 244.305507 
L 127.608 242.697761 
L 127.704 245.118 
L 127.8 243.920675 
L 127.896 246.714 
L 127.992 245.216651 
L 127.992 247.429929 
L 128.088 245.351094 
L 128.184 246.328165 
L 128.28 247.130256 
L 128.376 246.281322 
L 128.472 251.352 
L 128.568 249.296281 
L 128.592 252.312 
L 128.664 247.735002 
L 128.76 246.143749 
L 128.856 247.893375 
L 128.952 246.05262 
L 129 245.45593 
L 129.048 245.243093 
L 129.144 245.162241 
L 129.24 243.046347 
L 129.288 249.328266 
L 129.336 240.510865 
L 129.432 236.019162 
L 129.528 229.411685 
L 129.588 221.738513 
L 129.624 223.88527 
L 129.672 221.738513 
L 129.672 217.992 
L 129.72 220.033087 
L 129.756 221.738513 
L 129.816 222.369835 
L 129.912 232.205531 
L 130.008 236.787836 
L 130.008 235.539438 
L 130.104 233.821221 
L 130.2 236.191979 
L 130.296 237.910913 
L 130.392 237.912 
L 130.488 237.912 
L 130.584 237.912 
L 130.608 237.912 
L 130.68 238.827429 
L 130.776 239.857627 
L 130.872 240.386399 
L 130.968 242.317142 
L 131.064 243.709714 
L 131.112 242.154554 
L 131.16 243.186505 
L 131.256 242.713627 
L 131.352 242.505583 
L 131.448 242.92 
L 131.544 240.330596 
L 131.64 241.30566 
L 131.688 239.989276 
L 131.736 240.55336 
L 131.832 240.723 
L 131.928 238.755536 
L 132.024 239.127 
L 132.072 238.728 
L 132.12 239.736404 
L 132.216 239.847193 
L 132.312 241.517886 
L 132.408 242.780972 
L 132.48 244.569709 
L 132.504 246.497407 
L 132.6 244.98 
L 132.696 242.9544 
L 132.792 240.9288 
L 132.888 238.9032 
L 132.984 236.8776 
L 133.08 234.852 
L 133.176 232.8264 
L 133.2 232.32 
L 133.272 232.588373 
L 133.368 234.219605 
L 133.464 235.5496 
L 133.56 235.147937 
L 133.656 237.8984 
L 133.752 237.461654 
L 133.848 238.280579 
L 133.92 238.914116 
L 133.944 240.356203 
L 134.04 239.696571 
L 134.136 238.527441 
L 134.232 237.406286 
L 134.328 236.130284 
L 134.424 234.991637 
L 134.52 233.970857 
L 134.592 233.112 
L 134.616 232.92 
L 134.712 232.152 
L 134.808 231.384 
L 134.904 230.616 
L 135 229.848 
L 135.096 229.08 
L 135.192 228.312 
L 135.192 228.312 
L 135.288 228.312 
L 135.384 228.312 
L 135.48 228.312 
L 135.576 227.665068 
L 135.6 228.312 
L 135.672 227.234822 
L 135.768 229.747483 
L 135.864 230.834101 
L 135.96 228.86737 
L 136.056 227.964904 
L 136.08 230.17323 
L 136.152 227.778121 
L 136.248 227.11372 
L 136.344 229.576767 
L 136.44 229.299273 
L 136.536 228.031003 
L 136.608 227.52 
L 136.632 227.52 
L 136.728 227.406835 
L 136.824 227.493498 
L 136.92 227.52 
L 137.016 227.52 
L 137.112 227.017288 
L 137.208 226.931007 
L 137.208 227.52 
L 137.304 227.38871 
L 137.4 229.050489 
L 137.496 228.381708 
L 137.592 231.310114 
L 137.688 227.192784 
L 137.784 230.42974 
L 137.808 233.928 
L 137.88 230.788948 
L 137.976 231.170969 
L 138.072 228.731855 
L 138.168 227.879575 
L 138.264 229.38504 
L 138.36 227.166593 
L 138.408 229.128 
L 138.456 229.128 
L 138.552 228.47622 
L 138.648 228.685166 
L 138.744 227.563237 
L 138.84 228.069442 
L 138.936 227.567016 
L 139.032 227.898287 
L 139.128 227.605361 
L 139.2 227.384455 
L 139.224 228.105155 
L 139.32 227.996853 
L 139.416 228.771517 
L 139.512 227.619424 
L 139.608 231.29856 
L 139.704 229.252354 
L 139.8 228.994193 
L 139.8 229.438332 
L 139.896 228.135947 
L 139.992 231.630601 
L 140.088 229.026947 
L 140.184 232.140315 
L 140.28 233.250221 
L 140.328 230.37936 
L 140.376 230.112021 
L 140.472 230.303307 
L 140.568 234.476608 
L 140.664 234.458745 
L 140.76 234.671564 
L 140.808 232.151185 
L 140.856 231.691619 
L 140.952 234.141703 
L 141.048 232.008659 
L 141.144 236.52693 
L 141.24 234.324995 
L 141.336 235.415242 
L 141.432 238.386909 
L 141.528 238.392059 
L 141.6 238.728 
L 141.624 236.623549 
L 141.72 234.47857 
L 141.816 232.773453 
L 141.912 229.961006 
L 142.008 229.512 
L 142.008 229.512 
L 142.104 228.782571 
L 142.2 230.5848 
L 142.296 230.202595 
L 142.392 229.483482 
L 142.488 233.6784 
L 142.584 231.282686 
L 142.608 228.049276 
L 142.68 233.486595 
L 142.776 232.629928 
L 142.872 230.536668 
L 142.968 230.705439 
L 143.064 229.23582 
L 143.16 229.205609 
L 143.208 227.990259 
L 143.256 227.797682 
L 143.352 231.115219 
L 143.448 231.725419 
L 143.544 228.320925 
L 143.592 231.148324 
L 143.64 231.273527 
L 143.736 230.009009 
L 143.832 231.083949 
L 143.928 229.278914 
L 144.024 230.313683 
L 144.12 229.393385 
L 144.192 228.329521 
L 144.216 228.697208 
L 144.312 230.923765 
L 144.408 231.282703 
L 144.504 232.728197 
L 144.6 230.515667 
L 144.6 234.067256 
L 144.696 232.44815 
L 144.792 230.874394 
L 144.888 230.076706 
L 144.984 228.194315 
L 145.008 228.312 
L 145.08 229.9635 
L 145.176 232.1655 
L 145.272 234.3675 
L 145.368 233.502448 
L 145.392 232.939714 
L 145.464 231.33592 
L 145.56 237.044333 
L 145.656 234.541708 
L 145.752 234.618375 
L 145.848 240.089154 
L 145.944 240.280678 
L 146.04 239.659781 
L 146.136 238.952287 
L 146.208 239.172877 
L 146.232 241.975429 
L 146.328 236.825857 
L 146.424 237.828702 
L 146.52 237.738997 
L 146.616 238.321688 
L 146.712 238.232253 
L 146.808 238.627566 
L 146.808 238.36703 
L 146.904 239.522106 
L 147 239.540167 
L 147.096 241.41216 
L 147.192 240.072993 
L 147.288 241.556006 
L 147.384 242.254285 
L 147.408 244.32 
L 147.48 242.191054 
L 147.576 244.742545 
L 147.672 243.27341 
L 147.768 243.615411 
L 147.864 243.292513 
L 147.96 241.922255 
L 148.056 240.523111 
L 148.152 246.191273 
L 148.2 239.815012 
L 148.248 244.896508 
L 148.344 242.903491 
L 148.44 242.601813 
L 148.536 242.174801 
L 148.632 241.992 
L 148.728 240.278399 
L 148.8 240.160113 
L 148.824 240.56832 
L 148.92 241.5936 
L 149.016 242.61888 
L 149.112 241.983103 
L 149.208 240.815259 
L 149.304 240.440494 
L 149.4 242.921771 
L 149.4 246.162281 
L 149.496 242.456577 
L 149.592 243.556061 
L 149.688 244.03584 
L 149.784 241.553953 
L 149.88 241.142588 
L 149.976 235.883341 
L 150 235.706898 
L 150.072 238.126702 
L 150.168 233.449106 
L 150.264 232.849374 
L 150.36 232.953705 
L 150.456 230.763175 
L 150.552 229.722356 
L 150.636 229.598894 
L 150.648 230.318457 
L 150.72 229.598894 
L 150.72 228.6 
L 150.744 230.12 
L 150.804 229.598894 
L 150.84 230.92 
L 150.936 231.72 
L 151.008 231.965622 
L 151.032 231.961687 
L 151.128 234.912388 
L 151.224 241.969602 
L 151.32 235.130958 
L 151.32 236.232836 
L 151.416 238.749457 
L 151.512 240.373554 
L 151.608 245.834157 
L 151.704 242.133745 
L 151.716 240.567168 
L 151.728 242.124826 
L 151.8 240 
L 151.8 240.567168 
L 151.884 240.567168 
L 151.896 242.19893 
L 151.992 241.288401 
L 152.088 243.967036 
L 152.184 243.283657 
L 152.208 245.00881 
L 152.28 244.465381 
L 152.376 249.912 
L 152.472 251.844943 
L 152.568 249.427441 
L 152.664 249.285271 
L 152.712 255.435929 
L 152.76 248.730036 
L 152.856 252.470277 
L 152.952 255.415942 
L 153.048 253.679606 
L 153.144 252.862272 
L 153.192 253.128 
L 153.24 249.800253 
L 153.336 250.205206 
L 153.432 248.972231 
L 153.528 248.087579 
L 153.6 247.857195 
L 153.624 247.874867 
L 153.72 249.972706 
L 153.816 249.228542 
L 153.912 248.627002 
L 154.008 253.92 
L 154.008 247.341497 
L 154.104 249.093158 
L 154.2 248.079881 
L 154.296 246.372787 
L 154.392 249.001846 
L 154.488 247.518184 
L 154.584 246.005771 
L 154.632 245.928 
L 154.68 247.3136 
L 154.776 249.914621 
L 154.872 252.856 
L 154.968 253.844092 
L 154.992 252.531632 
L 155.064 254.527497 
L 155.16 262.150849 
L 155.208 263.392065 
L 155.28 262.928 
L 155.496 263.888 
L 155.64 264.528 
L 155.712 264.672 
L 155.928 265.104 
L 156.144 265.536 
L 156.24 265.728 
L 156.36 265.938 
L 156.576 266.316 
L 156.72 266.568 
L 156.792 266.616 
L 157.008 266.76 
L 157.224 266.904 
L 157.44 267.048 
L 157.44 267.048 
L 157.656 267.075 
L 157.872 267.102 
L 158.088 267.129 
L 158.304 267.156 
L 158.4 267.168 
L 158.52 267.168 
L 158.736 267.168 
L 158.952 267.168 
L 159.168 267.168 
L 159.384 267.168 
L 159.6 267.168 
L 159.6 267.168 
L 159.816 267.168 
L 160.032 267.168 
L 160.248 267.168 
L 160.464 267.168 
L 160.68 267.168 
L 160.8 267.168 
L 160.896 267.16416 
L 161.112 267.15552 
L 161.328 267.14688 
L 161.544 267.13824 
L 161.76 267.1296 
L 161.976 267.12096 
L 162 267.12 
L 162.192 267.1008 
L 162.408 267.0792 
L 162.624 267.0576 
L 162.84 267.036 
L 163.056 267.0144 
L 163.2 267 
L 163.272 266.942747 
L 163.488 266.770988 
L 163.704 266.599229 
L 163.92 266.42747 
L 164.136 266.255711 
L 164.352 266.083952 
L 164.568 265.912193 
L 164.784 265.740434 
L 165 265.568675 
L 165.192 265.416 
L 165.216 265.406286 
L 165.432 265.318857 
L 165.648 265.231429 
L 165.864 265.144 
L 166.08 265.056571 
L 166.296 264.969143 
L 166.512 264.881714 
L 166.728 264.794286 
L 166.944 264.706857 
L 167.16 264.619429 
L 167.208 264.6 
L 167.376 264.549398 
L 167.592 264.484337 
L 167.808 264.419277 
L 168.024 264.354217 
L 168.24 264.289157 
L 168.456 264.224096 
L 168.672 264.159036 
L 168.888 264.093976 
L 169.104 264.028916 
L 169.2 264 
L 169.32 263.988434 
L 169.536 263.967614 
L 169.752 263.946795 
L 169.968 263.925976 
L 170.184 263.905157 
L 170.4 263.884337 
L 170.616 263.863518 
L 170.832 263.842699 
L 171.048 263.82188 
L 171.192 263.808 
L 171.264 263.607429 
L 171.48 263.005714 
L 171.696 262.404 
L 171.912 261.802286 
L 172.128 261.200571 
L 172.2 261 
L 172.344 260.914286 
L 172.56 260.785714 
L 172.776 260.657143 
L 172.992 260.528571 
L 173.208 260.4 
L 173.208 260.4 
L 173.424 260.949818 
L 173.64 261.499636 
L 173.856 262.049455 
L 174 262.416 
L 174.072 262.46352 
L 174.288 262.60608 
L 174.504 262.74864 
L 174.72 262.8912 
L 174.936 263.03376 
L 175.152 263.17632 
L 175.2 263.208 
L 175.368 263.01312 
L 175.584 262.76256 
L 175.8 262.512 
L 176.016 262.26144 
L 176.232 262.01088 
L 176.4 261.816 
L 176.448 261.710857 
L 176.664 261.237714 
L 176.88 260.764571 
L 177.096 260.291429 
L 177.312 259.818286 
L 177.408 259.608 
L 177.528 259.637091 
L 177.744 259.689455 
L 177.96 259.741818 
L 178.176 259.794182 
L 178.2 259.8 
L 178.392 260.771636 
L 178.608 261.864727 
L 178.824 262.957818 
L 178.992 263.808 
L 179.04 263.796706 
L 179.256 263.745882 
L 179.472 263.695059 
L 179.688 263.644235 
L 179.808 263.616 
L 179.904 263.850146 
L 180.12 264.376976 
L 180.336 264.903805 
L 180.552 265.430634 
L 180.768 265.957463 
L 180.792 266.016 
L 180.984 266.016 
L 181.2 266.016 
L 181.416 266.016 
L 181.632 266.016 
L 181.848 266.016 
L 182.064 266.016 
L 182.28 266.016 
L 182.4 266.016 
L 182.496 265.963636 
L 182.712 265.845818 
L 182.928 265.728 
L 182.928 265.728 
L 183.036 232.608 
L 183.12 232.608 
L 183.12 223.608 
L 183.144 233.508 
L 183.204 232.608 
L 183.312 239.808 
L 183.36 242.1672 
L 183.576 252.7836 
L 183.792 263.4 
L 183.792 263.4 
L 184.008 263.97888 
L 184.224 264.55776 
L 184.392 265.008 
L 184.44 265.017714 
L 184.656 265.061429 
L 184.872 265.105143 
L 185.088 265.148857 
L 185.304 265.192571 
L 185.52 265.236286 
L 185.736 265.28 
L 185.952 265.323714 
L 186.168 265.367429 
L 186.384 265.411143 
L 186.408 265.416 
L 186.6 265.434506 
L 186.816 265.455325 
L 187.032 265.476145 
L 187.248 265.496964 
L 187.464 265.517783 
L 187.68 265.538602 
L 187.896 265.559422 
L 188.112 265.580241 
L 188.328 265.60106 
L 188.4 265.608 
L 188.544 265.537075 
L 188.76 265.430687 
L 188.976 265.324299 
L 189.192 265.21791 
L 189.408 265.111522 
L 189.624 265.005134 
L 189.84 264.898746 
L 190.008 264.816 
L 190.056 264.77568 
L 190.272 264.59424 
L 190.488 264.4128 
L 190.704 264.23136 
L 190.92 264.04992 
L 191.136 263.86848 
L 191.208 263.808 
L 191.352 263.718295 
L 191.568 263.583738 
L 191.784 263.44918 
L 191.94 263.352 
L 192 263.453194 
L 192.216 263.817493 
L 192.432 264.181791 
L 192.648 264.54609 
L 192.744 264.708 
L 192.864 264.826421 
L 193.08 265.039579 
L 193.296 265.252737 
L 193.512 265.465895 
L 193.656 265.608 
L 193.728 265.490609 
L 193.944 265.138435 
L 194.16 264.786261 
L 194.376 264.434087 
L 194.592 264.081913 
L 194.76 263.808 
L 194.808 263.968 
L 195.024 264.688 
L 195.24 265.408 
L 195.3 265.608 
L 195.456 265.842 
L 195.672 266.166 
L 195.888 266.49 
L 195.9 266.508 
L 196.104 266.568384 
L 196.32 266.63232 
L 196.536 266.696256 
L 196.752 266.760192 
L 196.968 266.824128 
L 197.184 266.888064 
L 197.4 266.952 
L 197.4 266.952 
L 197.616 267.017664 
L 197.832 267.083328 
L 198.048 267.148992 
L 198.264 267.214656 
L 198.48 267.28032 
L 198.696 267.345984 
L 198.9 267.408 
L 198.912 267.409152 
L 199.128 267.429888 
L 199.344 267.450624 
L 199.56 267.47136 
L 199.776 267.492096 
L 199.992 267.512832 
L 200.208 267.533568 
L 200.4 267.552 
L 200.424 267.58016 
L 200.64 267.8336 
L 200.856 268.08704 
L 201.072 268.34048 
L 201.288 268.59392 
L 201.3 268.608 
L 201.504 268.790784 
L 201.72 268.98432 
L 201.936 269.177856 
L 202.152 269.371392 
L 202.368 269.564928 
L 202.584 269.758464 
L 202.8 269.952 
L 202.8 269.952 
L 203.016 270.04272 
L 203.232 270.13344 
L 203.448 270.22416 
L 203.664 270.31488 
L 203.88 270.4056 
L 204.096 270.49632 
L 204.312 270.58704 
L 204.528 270.67776 
L 204.6 270.708 
L 204.744 270.687429 
L 204.96 270.656571 
L 205.176 270.625714 
L 205.392 270.594857 
L 205.608 270.564 
L 205.824 270.533143 
L 206.04 270.502286 
L 206.256 270.471429 
L 206.472 270.440571 
L 206.688 270.409714 
L 206.7 270.408 
L 206.904 270.3264 
L 207.12 270.24 
L 207.336 270.1536 
L 207.552 270.0672 
L 207.768 269.9808 
L 207.984 269.8944 
L 208.2 269.808 
L 208.2 269.808 
L 208.416 269.67408 
L 208.632 269.54016 
L 208.848 269.40624 
L 209.064 269.27232 
L 209.28 269.1384 
L 209.4 269.064 
L 209.496 268.94368 
L 209.712 268.67296 
L 209.928 268.40224 
L 210.144 268.13152 
L 210.36 267.8608 
L 210.576 267.59008 
L 210.792 267.31936 
L 211.008 267.04864 
L 211.2 266.808 
L 211.224 266.7936 
L 211.44 266.664 
L 211.656 266.5344 
L 211.872 266.4048 
L 212.088 266.2752 
L 212.304 266.1456 
L 212.52 266.016 
L 212.7 265.908 
L 212.736 265.932 
L 212.952 266.076 
L 213.168 266.22 
L 213.384 266.364 
L 213.6 266.508 
L 213.816 266.652 
L 214.032 266.796 
L 214.248 266.94 
L 214.464 267.084 
L 214.5 267.108 
L 214.68 267.018 
L 214.896 266.91 
L 215.112 266.802 
L 215.328 266.694 
L 215.544 266.586 
L 215.76 266.478 
L 215.976 266.37 
L 216.192 266.262 
L 216.3 266.208 
L 216.408 266.154 
L 216.624 266.046 
L 216.84 265.938 
L 217.056 265.83 
L 217.272 265.722 
L 217.488 265.614 
L 217.704 265.506 
L 217.92 265.398 
L 218.136 265.29 
L 218.352 265.182 
L 218.568 265.074 
L 218.7 265.008 
L 218.784 264.948 
L 219 264.793714 
L 219.216 264.639429 
L 219.432 264.485143 
L 219.648 264.330857 
L 219.864 264.176571 
L 220.08 264.022286 
L 220.296 263.868 
L 220.512 263.713714 
L 220.728 263.559429 
L 220.8 263.508 
L 220.944 263.3352 
L 221.16 263.076 
L 221.376 262.8168 
L 221.592 262.5576 
L 221.808 262.2984 
L 222.024 262.0392 
L 222.24 261.78 
L 222.3 261.708 
L 222.456 261.4896 
L 222.672 261.1872 
L 222.888 260.8848 
L 223.104 260.5824 
L 223.32 260.28 
L 223.536 259.9776 
L 223.752 259.6752 
L 223.8 259.608 
L 223.968 259.489728 
L 224.184 259.337664 
L 224.4 259.1856 
L 224.616 259.033536 
L 224.832 258.881472 
L 225.048 258.729408 
L 225.264 258.577344 
L 225.3 258.552 
L 225.48 258.6204 
L 225.696 258.70248 
L 225.912 258.78456 
L 226.128 258.86664 
L 226.344 258.94872 
L 226.5 259.008 
L 226.56 258.918 
L 226.776 258.594 
L 226.992 258.27 
L 227.208 257.946 
L 227.424 257.622 
L 227.64 257.298 
L 227.7 257.208 
L 227.856 256.9584 
L 228.072 256.6128 
L 228.288 256.2672 
L 228.504 255.9216 
L 228.72 255.576 
L 228.936 255.2304 
L 229.152 254.8848 
L 229.2 254.808 
L 229.368 254.5728 
L 229.584 254.2704 
L 229.8 253.968 
L 230.016 253.6656 
L 230.232 253.3632 
L 230.448 253.0608 
L 230.664 252.7584 
L 230.7 252.708 
L 230.88 252.438 
L 231.096 252.114 
L 231.312 251.79 
L 231.528 251.466 
L 231.744 251.142 
L 231.9 250.908 
L 231.96 250.8702 
L 232.176 250.73412 
L 232.392 250.59804 
L 232.608 250.46196 
L 232.824 250.32588 
L 233.04 250.1898 
L 233.1 250.152 
L 233.256 250.066407 
L 233.472 249.947894 
L 233.688 249.829381 
L 233.904 249.710867 
L 234.12 249.592354 
L 234.336 249.473841 
L 234.372 249.408 
L 234.456 249.408 
L 234.456 249 
L 234.54 249.408 
L 234.552 249.472286 
L 234.768 249.616929 
L 234.984 249.761571 
L 235.2 249.906214 
L 235.416 250.050857 
L 235.632 250.1955 
L 235.8 250.308 
L 235.848 250.356 
L 236.064 250.572 
L 236.28 250.788 
L 236.496 251.004 
L 236.712 251.22 
L 236.928 251.436 
L 237 251.508 
L 237.144 251.7096 
L 237.36 252.012 
L 237.576 252.3144 
L 237.792 252.6168 
L 238.008 252.9192 
L 238.224 253.2216 
L 238.44 253.524 
L 238.5 253.608 
L 238.656 253.764 
L 238.872 253.98 
L 239.088 254.196 
L 239.304 254.412 
L 239.52 254.628 
L 239.736 254.844 
L 239.952 255.06 
L 240.168 255.276 
L 240.3 255.408 
L 240.384 255.49824 
L 240.6 255.730286 
L 240.816 255.962331 
L 241.032 256.194377 
L 241.248 256.426423 
L 241.464 256.658469 
L 241.68 256.890514 
L 241.896 257.12256 
L 242.112 257.354606 
L 242.328 257.586651 
L 242.4 257.664 
L 242.544 257.664 
L 242.76 257.664 
L 242.976 257.664 
L 243.192 257.664 
L 243.408 257.664 
L 243.624 257.664 
L 243.84 257.664 
L 244.056 257.664 
L 244.2 257.664 
L 244.272 257.706624 
L 244.488 257.834496 
L 244.704 257.962368 
L 244.92 258.09024 
L 245.136 258.218112 
L 245.352 258.345984 
L 245.568 258.473856 
L 245.7 258.552 
L 245.784 258.6192 
L 246 258.792 
L 246.216 258.9648 
L 246.432 259.1376 
L 246.648 259.3104 
L 246.864 259.4832 
L 247.08 259.656 
L 247.2 259.752 
L 247.296 259.77696 
L 247.512 259.83312 
L 247.728 259.88928 
L 247.944 259.94544 
L 248.16 260.0016 
L 248.376 260.05776 
L 248.4 260.064 
L 248.592 259.68 
L 248.808 259.248 
L 249.024 258.816 
L 249.24 258.384 
L 249.456 257.952 
L 249.456 257.952 
L 249.672 257.984276 
L 249.888 258.016552 
L 250.104 258.048828 
L 250.176 258.072138 
L 250.26 251.7 
L 250.32 258.081103 
L 250.344 258.072138 
L 250.5 258.108 
L 250.536 258.108 
L 250.752 258.108 
L 250.968 258.108 
L 251.076 258.108 
L 251.16 252 
L 251.184 258.108 
L 251.244 258.108 
L 251.256 258.108 
L 251.4 258.273517 
L 251.616 258.521793 
L 251.832 258.770069 
L 252.048 259.018345 
L 252.264 259.266621 
L 252.3 259.308 
L 252.372 259.776 
L 252.456 253.056 
L 252.48 259.848 
L 252.54 259.776 
L 252.696 260.496 
L 252.912 261.144 
L 253.128 261.792 
L 253.2 262.008 
L 253.344 262.224 
L 253.56 262.548 
L 253.776 262.872 
L 253.992 263.196 
L 254.208 263.52 
L 254.4 263.808 
L 254.424 263.832 
L 254.64 264.048 
L 254.856 264.264 
L 255.072 264.48 
L 255.288 264.696 
L 255.504 264.912 
L 255.6 265.008 
L 255.72 265.128 
L 255.936 265.344 
L 256.152 265.56 
L 256.368 265.776 
L 256.584 265.992 
L 256.656 266.148 
L 256.74 261.6 
L 256.8 266.208 
L 256.8 266.208 
L 256.824 266.148 
L 257.016 266.478 
L 257.232 266.748 
L 257.448 267.018 
L 257.664 267.288 
L 257.88 267.558 
L 258 267.708 
L 258.096 267.74352 
L 258.312 267.82344 
L 258.528 267.90336 
L 258.744 267.98328 
L 258.96 268.0632 
L 259.176 268.14312 
L 259.2 268.152 
L 259.392 268.32096 
L 259.608 268.51104 
L 259.824 268.70112 
L 260.04 268.8912 
L 260.256 269.08128 
L 260.4 269.208 
L 260.472 269.316 
L 260.688 269.64 
L 260.904 269.964 
L 261.012 270.252 
L 261.096 265.344 
L 261.12 270.288 
L 261.18 270.252 
L 261.336 270.612 
L 261.552 270.936 
L 261.6 271.008 
L 261.768 271.16256 
L 261.972 271.42752 
L 261.984 271.36128 
L 262.056 265.5 
L 262.14 271.42752 
L 262.2 271.56 
L 262.416 271.75872 
L 262.632 271.95744 
L 262.848 272.15616 
L 262.86 272.24448 
L 262.944 266.544 
L 263.028 272.24448 
L 263.064 272.35488 
L 263.28 272.5536 
L 263.4 272.664 
L 263.496 272.684297 
L 263.712 272.729966 
L 263.928 272.775634 
L 264.144 272.821303 
L 264.36 272.866971 
L 264.576 272.91264 
L 264.792 272.958309 
L 265.008 273.003977 
L 265.224 273.049646 
L 265.44 273.095314 
L 265.5 273.108 
L 265.656 273.108 
L 265.872 273.108 
L 265.956 273.108 
L 266.04 265.2 
L 266.088 273.108 
L 266.124 273.108 
L 266.304 273.108 
L 266.4 273.108 
L 266.52 273.084 
L 266.736 273.0408 
L 266.856 273 
L 266.94 264.9 
L 266.952 272.9976 
L 267.024 273 
L 267.168 272.9544 
L 267.384 272.9112 
L 267.516 272.868 
L 267.6 272.868 
L 267.6 265.8 
L 267.684 272.868 
L 267.816 272.8248 
L 267.9 272.808 
L 268.032 272.742528 
L 268.248 272.635392 
L 268.464 272.528256 
L 268.68 272.42112 
L 268.896 272.313984 
L 269.112 272.206848 
L 269.328 272.099712 
L 269.4 272.064 
L 269.544 271.984696 
L 269.76 271.865739 
L 269.976 271.746783 
L 270.192 271.627826 
L 270.408 271.50887 
L 270.624 271.389913 
L 270.84 271.270957 
L 271.056 271.152 
L 271.056 271.152 
L 271.272 271.202143 
L 271.488 271.252286 
L 271.704 271.302429 
L 271.92 271.352571 
L 272.136 271.402714 
L 272.316 271.464 
L 272.352 271.452857 
L 272.4 271.464 
L 272.4 263.4 
L 272.484 271.464 
L 272.568 271.58832 
L 272.784 271.74816 
L 272.976 271.9524 
L 273 271.908 
L 273.06 264.6 
L 273.144 271.9524 
L 273.216 272.06784 
L 273.432 272.22768 
L 273.516 272.352 
L 273.6 272.352 
L 273.6 264.144 
L 273.648 272.361984 
L 273.684 272.352 
L 273.864 272.406912 
L 274.08 272.45184 
L 274.296 272.496768 
L 274.512 272.541696 
L 274.728 272.586624 
L 274.944 272.631552 
L 274.956 272.65152 
L 275.04 264.456 
L 275.1 272.664 
L 275.124 272.65152 
L 275.16 272.668114 
L 275.376 272.682926 
L 275.592 272.697737 
L 275.808 272.712549 
L 276.024 272.72736 
L 276.24 272.742171 
L 276.456 272.756983 
L 276.672 272.771794 
L 276.888 272.786606 
L 277.104 272.801417 
L 277.2 272.808 
L 277.26 272.79648 
L 277.32 272.7984 
L 277.344 269.1 
L 277.428 272.79648 
L 277.536 272.78112 
L 277.752 272.76384 
L 277.968 272.74656 
L 278.184 272.72928 
L 278.4 272.712 
L 278.616 272.69472 
L 278.832 272.67744 
L 279 272.664 
L 279.048 272.648 
L 279.264 272.576 
L 279.48 272.504 
L 279.696 272.432 
L 279.756 272.384 
L 279.84 270.744 
L 279.912 272.36 
L 279.924 272.384 
L 280.128 272.288 
L 280.344 272.216 
L 280.56 272.144 
L 280.776 272.072 
L 280.8 272.064 
L 280.992 271.96672 
L 281.208 271.85728 
L 281.424 271.74784 
L 281.64 271.6384 
L 281.856 271.52896 
L 282.072 271.41952 
L 282.288 271.31008 
L 282.504 271.20064 
L 282.6 271.152 
L 282.72 271.104 
L 282.936 271.0176 
L 283.056 270.936 
L 283.14 263.856 
L 283.152 270.9312 
L 283.224 270.936 
L 283.368 270.8448 
L 283.584 270.7584 
L 283.8 270.672 
L 284.016 270.5856 
L 284.1 270.552 
L 284.172 270.522048 
L 284.232 270.526656 
L 284.256 262.944 
L 284.34 270.522048 
L 284.448 270.485184 
L 284.664 270.443712 
L 284.88 270.40224 
L 285.096 270.360768 
L 285.312 270.319296 
L 285.528 270.277824 
L 285.6 270.264 
L 285.66 269.99328 
L 285.744 269.99328 
L 285.744 262.344 
L 285.828 269.99328 
L 285.96 269.5872 
L 286.176 269.18112 
L 286.392 268.77504 
L 286.608 268.36896 
L 286.8 268.008 
L 286.824 267.942 
L 287.04 267.348 
L 287.256 266.754 
L 287.472 266.16 
L 287.688 265.566 
L 287.904 264.972 
L 288 264.708 
L 288.12 264.388 
L 288.336 263.812 
L 288.516 263.108 
L 288.552 263.236 
L 288.6 255.144 
L 288.684 263.108 
L 288.768 262.66 
L 288.9 262.308 
L 288.984 262.21308 
L 289.056 262.0368 
L 289.14 258.6 
L 289.2 261.969 
L 289.224 262.0368 
L 289.416 261.72492 
L 289.632 261.48084 
L 289.848 261.23676 
L 290.064 260.99268 
L 290.1 260.952 
L 290.28 260.9088 
L 290.496 260.85696 
L 290.712 260.80512 
L 290.928 260.75328 
L 291.144 260.70144 
L 291.3 260.664 
L 291.36 260.5936 
L 291.576 260.34016 
L 291.792 260.08672 
L 292.008 259.83328 
L 292.2 259.608 
L 292.224 259.536 
L 292.356 258.888 
L 292.44 258.888 
L 292.44 256.656 
L 292.524 258.888 
L 292.656 258.24 
L 292.872 257.592 
L 293.088 256.944 
L 293.1 256.908 
L 293.304 255.99 
L 293.52 255.018 
L 293.736 254.046 
L 293.952 253.074 
L 294.168 252.102 
L 294.3 251.508 
L 294.384 251.228 
L 294.6 250.508 
L 294.816 249.788 
L 295.032 249.068 
L 295.2 248.508 
L 295.248 248.388 
L 295.464 247.848 
L 295.68 247.308 
L 295.896 246.768 
L 296.076 246.108 
L 296.112 246.228 
L 296.16 241.944 
L 296.244 246.108 
L 296.328 245.688 
L 296.4 245.508 
L 296.544 245.364 
L 296.76 245.148 
L 296.976 244.932 
L 297.192 244.716 
L 297.3 244.608 
L 297.408 244.716 
L 297.624 244.932 
L 297.84 245.148 
L 298.056 245.364 
L 298.056 245.448 
L 298.14 239.1 
L 298.2 245.508 
L 298.224 245.448 
L 298.272 245.60664 
L 298.488 245.90256 
L 298.656 246.2478 
L 298.704 246.19848 
L 298.74 239.856 
L 298.824 246.2478 
L 298.92 246.4944 
L 299.076 246.8232 
L 299.136 246.79032 
L 299.16 242.4 
L 299.244 246.8232 
L 299.352 247.08624 
L 299.4 247.152 
L 299.568 247.222452 
L 299.676 247.302968 
L 299.76 240.744 
L 299.784 247.313032 
L 299.844 247.302968 
L 300 247.403613 
L 300.144 247.464 
L 300.216 247.439788 
L 300.432 247.36715 
L 300.648 247.294513 
L 300.864 247.221876 
L 301.08 247.149239 
L 301.116 247.108885 
L 301.2 240.6 
L 301.284 247.108885 
L 301.296 247.076602 
L 301.5 247.008 
L 301.512 247.01408 
L 301.728 247.12352 
L 301.944 247.23296 
L 302.16 247.3424 
L 302.376 247.45184 
L 302.4 247.464 
L 302.592 247.68672 
L 302.772 247.99296 
L 302.808 247.93728 
L 302.856 241.656 
L 302.94 247.99296 
L 303.024 248.18784 
L 303.24 248.4384 
L 303.3 248.508 
L 303.456 248.716 
L 303.672 249.004 
L 303.888 249.292 
L 304.104 249.58 
L 304.2 249.708 
L 304.32 250.028 
L 304.536 250.604 
L 304.752 251.18 
L 304.968 251.756 
L 305.1 252.108 
L 305.184 252.374667 
L 305.4 253.060381 
L 305.46 253.517524 
L 305.544 247.344 
L 305.616 253.746095 
L 305.628 253.517524 
L 305.832 254.43181 
L 305.856 254.508 
L 306.048 255.437032 
L 306.06 255.901548 
L 306.144 248.4 
L 306.228 255.901548 
L 306.264 256.482194 
L 306.48 257.527355 
L 306.6 258.108 
L 306.66 258.978968 
L 306.696 258.688645 
L 306.744 252.6 
L 306.828 258.978968 
L 306.912 259.995097 
L 307.128 261.301548 
L 307.26 262.608 
L 307.344 262.608 
L 307.344 262.608 
L 307.344 256.344 
L 307.428 262.608 
L 307.56 263.979429 
L 307.776 265.350857 
L 307.992 266.722286 
L 308.1 267.408 
L 308.208 267.965143 
L 308.424 269.079429 
L 308.64 270.193714 
L 308.856 271.308 
L 308.856 271.308 
L 309.072 272.133677 
L 309.288 272.959355 
L 309.504 273.785032 
L 309.6 274.152 
L 309.72 270.687 
L 309.792 268.608 
L 309.816 263.508 
L 309.9 263.508 
L 309.9 262.2 
L 309.936 264.571636 
L 309.984 263.508 
L 310.032 267.408 
L 310.152 270.408 
L 310.2 271.608 
L 310.368 272.182452 
L 310.584 272.921032 
L 310.8 273.659613 
L 310.944 274.152 
L 311.016 274.120142 
L 311.232 274.024566 
L 311.448 273.928991 
L 311.664 273.833416 
L 311.88 273.737841 
L 312.096 273.642265 
L 312.156 273.578549 
L 312.24 265.5 
L 312.3 273.552 
L 312.312 273.549463 
L 312.324 273.578549 
L 312.528 273.503794 
L 312.744 273.458126 
L 312.96 273.412457 
L 313.176 273.366789 
L 313.392 273.32112 
L 313.608 273.275451 
L 313.656 273.247543 
L 313.74 265.5 
L 313.824 273.229783 
L 313.824 273.247543 
L 314.04 273.184114 
L 314.256 273.138446 
L 314.4 273.108 
L 314.472 273.084 
L 314.688 273.012 
L 314.904 272.94 
L 315.12 272.868 
L 315.336 272.796 
L 315.552 272.724 
L 315.768 272.652 
L 315.984 272.58 
L 316.2 272.508 
L 316.2 272.508 
L 316.416 272.4216 
L 316.632 272.3352 
L 316.848 272.2488 
L 316.932 272.1816 
L 317.016 264.456 
L 317.064 272.1624 
L 317.1 272.1816 
L 317.28 272.076 
L 317.496 271.9896 
L 317.7 271.908 
L 317.712 271.897655 
L 317.928 271.711448 
L 318.144 271.525241 
L 318.36 271.339034 
L 318.576 271.152828 
L 318.66 271.008 
L 318.744 271.008 
L 318.744 263.7 
L 318.792 270.953455 
L 318.828 271.008 
L 319.008 270.708 
L 319.224 270.462545 
L 319.44 270.217091 
L 319.656 269.971636 
L 319.8 269.808 
L 319.872 269.628 
L 320.088 269.088 
L 320.304 268.548 
L 320.52 268.008 
L 320.736 267.468 
L 320.856 266.958 
L 320.94 262.056 
L 320.952 266.928 
L 321 266.808 
L 321.024 266.958 
L 321.168 266.49888 
L 321.384 266.10144 
L 321.6 265.704 
L 321.816 265.30656 
L 321.9 265.152 
L 322.032 265.18632 
L 322.248 265.24248 
L 322.464 265.29864 
L 322.68 265.3548 
L 322.896 265.41096 
L 323.016 265.464 
L 323.1 265.464 
L 323.1 258.456 
L 323.112 265.47744 
L 323.184 265.464 
L 323.328 265.71936 
L 323.544 265.96128 
L 323.76 266.2032 
L 323.976 266.44512 
L 324.192 266.68704 
L 324.3 266.808 
L 324.408 266.943 
L 324.624 267.213 
L 324.84 267.483 
L 324.876 267.633 
L 324.96 262.2 
L 325.044 267.633 
L 325.056 267.753 
L 325.272 268.023 
L 325.488 268.293 
L 325.5 268.308 
L 325.704 267.87348 
L 325.92 267.4134 
L 326.136 266.95332 
L 326.352 266.49324 
L 326.568 266.03316 
L 326.7 265.752 
L 326.784 265.808 
L 327 265.952 
L 327.216 266.096 
L 327.432 266.24 
L 327.6 266.352 
L 327.648 266.290909 
L 327.864 266.016 
L 328.08 265.741091 
L 328.296 265.466182 
L 328.512 265.191273 
L 328.656 265.008 
L 328.728 265.066065 
L 328.944 265.240258 
L 329.16 265.414452 
L 329.376 265.588645 
L 329.4 265.608 
L 329.592 265.992 
L 329.808 266.424 
L 330.024 266.856 
L 330.216 267.408 
L 330.24 267.288 
L 330.3 261.144 
L 330.384 267.408 
L 330.456 267.72 
L 330.6 268.008 
L 330.672 268.152 
L 330.888 268.584 
L 330.972 268.92 
L 331.056 261.744 
L 331.104 269.016 
L 331.14 268.92 
L 331.32 269.448 
L 331.536 269.88 
L 331.656 270.288 
L 331.74 267.144 
L 331.752 270.312 
L 331.824 270.288 
L 331.968 270.744 
L 332.1 271.008 
L 332.184 271.078 
L 332.4 271.258 
L 332.616 271.438 
L 332.676 271.558 
L 332.76 263.856 
L 332.832 271.618 
L 332.844 271.558 
L 333.048 271.798 
L 333.264 271.978 
L 333.48 272.158 
L 333.516 272.258 
L 333.6 264.3 
L 333.684 272.258 
L 333.696 272.338 
L 333.9 272.508 
L 333.912 272.5128 
L 334.128 272.5992 
L 334.344 272.6856 
L 334.416 272.748 
L 334.5 264.6 
L 334.56 272.772 
L 334.584 272.748 
L 334.776 272.8584 
L 334.992 272.9448 
L 335.208 273.0312 
L 335.4 273.108 
L 335.424 273.096 
L 335.64 272.988 
L 335.856 272.88 
L 336.072 272.772 
L 336.216 272.658 
L 336.288 272.664 
L 336.3 265.5 
L 336.384 272.658 
L 336.504 272.556 
L 336.6 272.508 
L 336.72 272.244 
L 336.936 271.7688 
L 337.152 271.2936 
L 337.368 270.8184 
L 337.584 270.3432 
L 337.8 269.868 
L 338.016 269.3928 
L 338.016 269.208 
L 338.1 269.208 
L 338.1 260.7 
L 338.184 269.208 
L 338.232 268.284 
L 338.4 267.108 
L 338.448 259.408 
L 338.46 244.008 
L 338.544 244.008 
L 338.544 237.3 
L 338.628 244.008 
L 338.664 244.815692 
L 338.856 246.108 
L 338.856 251.358 
L 338.88 247.608 
L 338.94 240.6 
L 339.024 251.358 
L 339.096 261.108 
L 339.144 264.108 
L 339.312 265.102737 
L 339.492 266.88 
L 339.528 266.381684 
L 339.6 266.553372 
L 339.708 266.88 
L 340.014721 269.96915 
L 340.122721 267.527228 
L 340.230721 269.96915 
L 340.26 270.950857 
L 340.344 267 
L 340.428 270.950857 
L 340.57536 272.506079 
L 340.68336 267.750009 
L 340.79136 272.506079 
L 341.240474 274.220474 
L 341.348474 268.86861 
L 341.456474 274.220474 
L 342.143674 275.580793 
L 342.251674 269.799669 
L 342.359674 275.580793 
L 342.640425 276.733276 
L 342.748425 271.076173 
L 342.856425 276.733276 
L 343.557708 278.024494 
L 343.665708 273.145236 
L 343.773708 278.024494 
L 344.088074 277.95299 
L 344.196074 270.889938 
L 344.304074 277.95299 
L 344.967605 278.321577 
L 345.075605 270.612998 
L 345.183605 278.321577 
L 345.779039 279.125362 
L 345.887039 271.180235 
L 345.995039 279.125362 
L 346.393263 279.401482 
L 346.501263 274.009421 
L 346.609263 279.401482 
L 347.152199 279.522912 
L 347.260199 274.036384 
L 347.368199 279.522912 
L 348.000904 279.724938 
L 348.108904 273.713598 
L 348.216904 279.724938 
L 348.422454 279.846402 
L 348.530454 270.860335 
L 348.638454 279.846402 
L 348.922837 279.988725 
L 349.030837 271.972411 
L 349.138837 279.988725 
L 349.364812 280.080168 
L 349.472812 270.939684 
L 349.580812 280.080168 
L 349.781979 280.166478 
L 349.889979 271.785794 
L 349.997979 280.166478 
L 350.655696 280.296427 
L 350.763696 273.362731 
L 350.871696 280.296427 
L 351.068063 280.324124 
L 351.176063 275.020978 
L 351.284063 280.324124 
L 351.509701 280.353786 
L 351.617701 272.007129 
L 351.725701 280.353786 
L 352.209419 280.457355 
L 352.317419 271.752598 
L 352.425419 280.457355 
L 352.966556 280.646639 
L 353.074556 272.671692 
L 353.182556 280.646639 
L 353.485963 280.776381 
L 353.593963 274.140388 
L 353.701963 280.776381 
L 354.43413 280.960353 
L 354.54213 271.963591 
L 354.65013 280.960353 
L 355.083783 281.086406 
L 355.191783 272.418328 
L 355.299783 281.086406 
L 355.889295 280.917151 
L 355.997295 274.131951 
L 356.105295 280.917151 
L 356.407662 281.352721 
L 356.515662 272.704907 
L 356.623662 281.352721 
L 357.34705 281.605567 
L 357.45505 272.253881 
L 357.56305 281.605567 
L 357.952223 281.699225 
L 358.060223 275.842524 
L 358.168223 281.699225 
L 358.536405 281.784 
L 358.644405 275.88701 
L 358.752405 281.784 
L 359.489613 281.784 
L 359.597613 274.600392 
L 359.705613 281.784 
L 360.365452 281.784 
L 360.473452 274.903526 
L 360.581452 281.784 
L 361.303324 281.578725 
L 361.411324 273.956724 
L 361.519324 281.578725 
L 362.171596 281.359042 
L 362.279596 273.398757 
L 362.387596 281.359042 
L 363.002456 281.024641 
L 363.110456 275.441179 
L 363.218456 281.024641 
L 363.458828 280.799861 
L 363.566828 273.832741 
L 363.674828 280.799861 
L 364.351258 280.376251 
L 364.459258 271.739348 
L 364.567258 280.376251 
L 365.151505 280.031317 
L 365.259505 272.016245 
L 365.367505 280.031317 
L 365.586617 279.785383 
L 365.694617 270.847334 
L 365.802617 279.785383 
L 366.358892 279.013108 
L 366.466892 271.271247 
L 366.574892 279.013108 
L 367.231688 278.414156 
L 367.339688 272.160129 
L 367.447688 278.414156 
L 367.981888 278.248536 
L 368.089888 270.399241 
L 368.197888 278.248536 
L 368.807306 279.121318 
L 368.915306 273.085762 
L 369.023306 279.121318 
L 369.61733 279.244881 
L 369.72533 270.328862 
L 369.83333 279.244881 
L 370.372195 279.109138 
L 370.480195 272.756953 
L 370.588195 279.109138 
L 371.287318 278.762501 
L 371.395318 272.898534 
L 371.503318 278.762501 
L 371.822483 278.587261 
L 371.930483 270.01419 
L 372.038483 278.587261 
L 372.555483 278.369106 
L 372.663483 271.402993 
L 372.771483 278.369106 
L 373.407 278.115679 
L 373.515 270.366205 
L 373.623 278.115679 
L 373.880211 278.394023 
L 373.988211 271.973035 
L 374.096211 278.394023 
L 374.735645 279.377299 
L 374.843645 270.699547 
L 374.951645 279.377299 
L 375.184658 280.264634 
L 375.292658 272.164326 
L 375.400658 280.264634 
L 375.986256 281.219156 
L 376.094256 273.932693 
L 376.202256 281.219156 
L 376.428916 281.530072 
L 376.536916 273.985891 
L 376.644916 281.530072 
L 377.352946 281.527991 
L 377.460946 273.207923 
L 377.568946 281.527991 
L 377.878731 281.53385 
L 377.986731 273.200937 
L 378.094731 281.53385 
L 378.655238 281.561096 
L 378.763238 275.350389 
L 378.871238 281.561096 
L 379.211507 281.568 
L 379.319507 276.146771 
L 379.427507 281.568 
L 379.842908 281.568 
L 379.950908 275.206096 
L 380.058908 281.568 
L 380.408416 281.568 
L 380.516416 273.5884 
L 380.624416 281.568 
L 381.236433 281.151567 
L 381.344433 274.16349 
L 381.452433 281.151567 
L 382.175855 280.212145 
L 382.283855 273.095611 
L 382.391855 280.212145 
L 383.109312 279.019584 
L 383.217312 270.868896 
L 383.325312 279.019584 
L 383.867481 277.968779 
L 383.975481 269.063505 
L 384.083481 277.968779 
L 384.703233 276.90526 
L 384.811233 268.167469 
L 384.919233 276.90526 
L 385.593456 276.319154 
L 385.701456 268.825152 
L 385.809456 276.319154 
L 386.202054 274.479838 
L 386.310054 268.401756 
L 386.418054 274.479838 
L 387.118938 271.055096 
L 387.226938 263.2012 
L 387.334938 271.055096 
L 387.770943 268.193792 
L 387.878943 262.218631 
L 387.986943 268.193792 
L 388.252098 266.337908 
L 388.360098 259.592493 
L 388.468098 266.337908 
L 389.030984 266.755175 
L 389.138984 260.221571 
L 389.246984 266.755175 
L 389.787954 268.194855 
L 389.895954 264.272946 
L 390.003954 268.194855 
L 390.6093 270.12654 
L 390.7173 262.84277 
L 390.8253 270.12654 
L 391.483698 268.045509 
L 391.591698 262.309012 
L 391.699698 268.045509 
L 392.171452 264.315288 
L 392.279452 259.275201 
L 392.387452 264.315288 
L 392.858925 264.442388 
L 392.966925 258.797572 
L 393.074925 264.442388 
L 393.556643 265.088321 
L 393.664643 258.774624 
L 393.772643 265.088321 
L 394.002329 265.311164 
L 394.110329 262.041586 
L 394.218329 265.311164 
L 394.460392 267.313996 
L 394.568392 261.352734 
L 394.676392 267.313996 
L 395.071235 269.891395 
L 395.179235 262.324728 
L 395.287235 269.891395 
L 396.029577 273.061793 
L 396.137577 267.328877 
L 396.245577 273.061793 
L 396.898133 271.845814 
L 397.006133 265.021325 
L 397.114133 271.845814 
L 397.770514 270.079382 
L 397.878514 263.2335 
L 397.986514 270.079382 
L 398.605036 267.741281 
L 398.713036 263.029315 
L 398.821036 267.741281 
L 399.271252 264.848172 
L 399.379252 258.401543 
L 399.487252 264.848172 
L 399.818353 262.523655 
L 399.926353 256.658107 
L 400.034353 262.523655 
L 400.457712 259.954379 
L 400.565712 253.953871 
L 400.673712 259.954379 
L 401.155498 257.083812 
L 401.263498 250.828696 
L 401.371498 257.083812 
L 402.019894 253.322089 
L 402.127894 247.008431 
L 402.235894 253.322089 
L 402.797258 248.91157 
L 402.905258 245.218292 
L 403.013258 248.91157 
L 403.524784 244.374453 
L 403.632784 241.03511 
L 403.740784 244.374453 
L 404.06257 241.127495 
L 404.17057 237.332086 
L 404.27857 241.127495 
L 404.597067 237.910615 
L 404.705067 233.2476 
L 404.813067 237.910615 
L 405.041578 235.234678 
L 405.149578 230.821318 
L 405.257578 235.234678 
L 405.676905 231.408596 
L 405.784905 228.937546 
L 405.892905 231.408596 
L 406.23714 227.259411 
L 406.34514 226.446875 
L 406.45314 227.259411 
L 406.965054 217.422324 
L 407.073054 217.542324 
L 407.181054 217.422324 
L 407.691932 209.575778 
L 407.799932 209.695778 
L 407.907932 209.575778 
L 408.66 198.816 
L 409.368 191.112 
L 410.208 187.608 
L 411.12 186.216 
L 411.744 179.208 
L 412.44 170.112 
L 412.992 161.712 
L 413.7 152.616 
L 414.192 144.216 
L 414.744 135.816 
L 415.248 130.908 
L 416.16 124.608 
L 416.472 119.064 
L 417.552 109.548 
L 418.08 108.072 
L 418.656 101.496 
L 419.76 89.76 
L 420.72 76.56 
L 421.584 66.312 
L 422.184 57.528 
L 422.688 56.784 
L 423.432 49.464 
L 424.152 42.12 
L 424.896 35.544 
L 425.616 30.408 
L 426.72 27.84 
L 428.184 27.096 
L 429.6 26.928 
L 431.64 26.88 
" clip-path="url(#p43e6e4fcc2)" style="fill: none; stroke: #ff0000; stroke-width: 0.5; stroke-linecap: square"/>
   </g>
   <g id="line2d_44">
    <path d="M 50.304 42.768 
L 50.328 43.609806 
L 50.424 42.569389 
L 50.52 43.430281 
L 50.616 43.282205 
L 50.712 42.700735 
L 50.808 42.355115 
L 50.904 42.522364 
L 51 42.605763 
L 51.096 42.168 
L 51.096 42.631938 
L 51.192 42.443759 
L 51.288 43.413486 
L 51.384 42.980522 
L 51.48 43.998194 
L 51.576 44.630657 
L 51.6 44.256 
L 51.672 44.119941 
L 51.768 43.959939 
L 51.864 43.891114 
L 51.96 43.526977 
L 52.056 43.663384 
L 52.152 44.627998 
L 52.2 43.752 
L 52.248 44.153663 
L 52.344 43.189165 
L 52.44 43.613545 
L 52.536 43.227514 
L 52.608 43.008 
L 52.632 43.244239 
L 52.728 43.342532 
L 52.824 44.112842 
L 52.92 44.856222 
L 53.016 45.365544 
L 53.1 45.264 
L 53.112 45.441466 
L 53.208 45.190329 
L 53.304 45.807721 
L 53.4 45.184708 
L 53.496 45.279354 
L 53.592 44.256 
L 53.592 45.040907 
L 53.688 45.4866 
L 53.784 44.755382 
L 53.88 46.243064 
L 53.976 45.527836 
L 54.072 46.552663 
L 54.168 46.531614 
L 54.192 46.512 
L 54.264 46.169088 
L 54.36 46.833532 
L 54.456 46.669629 
L 54.552 46.287712 
L 54.648 46.340847 
L 54.696 46.752 
L 54.744 47.298234 
L 54.84 47.167362 
L 54.936 46.970957 
L 55.032 47.521917 
L 55.104 47.016 
L 55.128 47.339671 
L 55.224 45.070101 
L 55.32 43.474886 
L 55.416 43.249444 
L 55.44 42.168 
L 55.512 42.957969 
L 55.608 42.752985 
L 55.704 42.650725 
L 55.8 42.30205 
L 55.896 42.562903 
L 55.944 42.504 
L 55.992 43.748156 
L 56.088 43.494269 
L 56.184 44.997223 
L 56.28 45.659768 
L 56.376 45.620194 
L 56.448 45.768 
L 56.472 45.96494 
L 56.568 45.564591 
L 56.664 44.799974 
L 56.76 43.261595 
L 56.808 42.66 
L 56.856 42.821939 
L 56.952 43.899619 
L 57.048 44.297156 
L 57.144 44.334561 
L 57.192 44.52 
L 57.24 44.098014 
L 57.336 45.217269 
L 57.432 43.934864 
L 57.528 44.337043 
L 57.624 44.470356 
L 57.72 44.779345 
L 57.816 44.173465 
L 57.912 43.407801 
L 57.96 43.512 
L 58.008 44.189434 
L 58.104 44.158877 
L 58.2 44.441385 
L 58.296 44.408491 
L 58.392 44.481592 
L 58.488 43.225154 
L 58.584 43.563987 
L 58.68 43.488466 
L 58.776 43.293063 
L 58.872 43.494441 
L 58.968 43.304195 
L 59.064 44.643519 
L 59.16 44.479455 
L 59.208 43.752 
L 59.256 43.725004 
L 59.352 43.765948 
L 59.448 44.4 
L 59.448 45.197773 
L 59.544 45.510176 
L 59.64 46.525094 
L 59.736 47.867859 
L 59.832 48.987644 
L 59.928 49.81978 
L 60.024 51.187292 
L 60.12 52.172317 
L 60.192 52.896 
L 60.216 52.881943 
L 60.312 53.311974 
L 60.408 53.610912 
L 60.504 53.818761 
L 60.6 53.904 
L 60.6 53.854144 
L 60.696 57.095891 
L 60.792 60.130136 
L 60.888 63.129355 
L 60.96 65.4 
L 60.984 65.851447 
L 61.08 67.043204 
L 61.176 68.436029 
L 61.272 69.624571 
L 61.368 70.974486 
L 61.464 72.16068 
L 61.56 73.527641 
L 61.656 74.925306 
L 61.704 75.408 
L 61.752 76.478462 
L 61.848 78.798825 
L 61.944 81.099774 
L 62.04 83.680119 
L 62.1 84.9 
L 62.136 85.602286 
L 62.232 86.731132 
L 62.328 88.343252 
L 62.424 89.642237 
L 62.52 91.009437 
L 62.616 92.406156 
L 62.7 93.408 
L 62.712 93.51664 
L 62.808 95.3144 
L 62.904 96.68575 
L 63 98.407495 
L 63.096 99.731553 
L 63.192 101.52231 
L 63.288 103.042217 
L 63.384 104.668962 
L 63.456 105.6 
L 63.48 105.871921 
L 63.576 106.746972 
L 63.672 107.904197 
L 63.768 108.742413 
L 63.864 109.68426 
L 63.96 110.592 
L 63.96 110.679253 
L 64.056 111.570179 
L 64.152 112.399104 
L 64.248 113.481673 
L 64.344 114.089169 
L 64.44 115.285906 
L 64.536 116.073897 
L 64.608 116.592 
L 64.632 116.748737 
L 64.728 117.941234 
L 64.824 118.530531 
L 64.92 119.508818 
L 65.016 120.298041 
L 65.112 121.18891 
L 65.208 122.1 
L 65.208 122.162425 
L 65.304 122.854972 
L 65.4 123.751109 
L 65.496 124.262439 
L 65.592 125.1 
L 65.592 125.321877 
L 65.688 125.895023 
L 65.784 126.559252 
L 65.88 127.45663 
L 65.976 128.100041 
L 66.072 128.972042 
L 66.096 129.096 
L 66.168 130.384511 
L 66.264 132.125063 
L 66.36 133.983872 
L 66.456 135.6 
L 66.456 135.776693 
L 66.552 136.842288 
L 66.648 138.104178 
L 66.744 139.688116 
L 66.792 140.1 
L 66.84 140.124697 
L 66.936 140.344706 
L 67.032 140.296002 
L 67.128 140.613167 
L 67.2 140.592 
L 67.224 140.618623 
L 67.32 140.593945 
L 67.416 140.462785 
L 67.512 140.36349 
L 67.56 140.1 
L 67.608 139.883092 
L 67.704 139.611849 
L 67.8 139.235504 
L 67.896 138.588096 
L 67.944 138.36 
L 67.992 139.388481 
L 68.088 141.453372 
L 68.184 143.297684 
L 68.208 143.592 
L 68.28 145.241823 
L 68.376 147.337403 
L 68.448 148.608 
L 68.472 148.697964 
L 68.568 148.364627 
L 68.664 148.114453 
L 68.76 148.111302 
L 68.808 147.84 
L 68.856 148.365556 
L 68.952 149.784721 
L 69.048 151.13136 
L 69.096 151.608 
L 69.144 151.074513 
L 69.24 150.332919 
L 69.336 149.234258 
L 69.36 149.1 
L 69.432 150.421983 
L 69.528 152.079562 
L 69.624 153.578683 
L 69.696 154.848 
L 69.72 154.720345 
L 69.816 154.078634 
L 69.912 153.381736 
L 70.008 152.581739 
L 70.056 152.1 
L 70.104 152.659558 
L 70.2 153.502496 
L 70.296 154.442445 
L 70.392 155.215484 
L 70.44 155.592 
L 70.488 156.32112 
L 70.584 157.767432 
L 70.68 159.343829 
L 70.776 160.748641 
L 70.872 162.063185 
L 70.944 163.104 
L 70.968 163.877545 
L 71.064 166.643598 
L 71.16 169.273972 
L 71.208 170.592 
L 71.256 171.613452 
L 71.352 173.915661 
L 71.424 175.2 
L 71.448 175.925786 
L 71.496 177.3 
L 71.544 178.195459 
L 71.64 177.825996 
L 71.736 178.475457 
L 71.832 178.34795 
L 71.928 179.012701 
L 72 179.28 
L 72.024 179.532863 
L 72.12 180.455952 
L 72.216 180.818636 
L 72.312 180.779456 
L 72.408 181.007323 
L 72.504 181.56 
L 72.504 182.124617 
L 72.6 181.706058 
L 72.696 180.987566 
L 72.792 180.899496 
L 72.888 180.478695 
L 72.984 180.09793 
L 73.08 179.531844 
L 73.152 179.04 
L 73.176 179.043801 
L 73.272 179.626966 
L 73.368 180.067575 
L 73.464 180.747507 
L 73.56 181.57148 
L 73.656 181.56 
L 73.656 181.585714 
L 73.752 182.043472 
L 73.848 182.503216 
L 73.944 182.894563 
L 74.04 182.643717 
L 74.136 183.014035 
L 74.232 182.916734 
L 74.304 183.3 
L 74.328 183.203177 
L 74.424 183.650066 
L 74.52 184.996931 
L 74.616 184.464647 
L 74.712 185.214658 
L 74.808 185.596528 
L 74.904 185.808 
L 74.904 186.398929 
L 75 186.241744 
L 75.096 186.055493 
L 75.192 185.800666 
L 75.288 186.732946 
L 75.384 185.773283 
L 75.48 186.487552 
L 75.576 186.076922 
L 75.672 186.93695 
L 75.768 186.304945 
L 75.792 186.3 
L 75.864 188.034114 
L 75.96 188.99831 
L 76.056 190.406087 
L 76.152 191.28 
L 76.152 191.649433 
L 76.248 192.207453 
L 76.344 193.132952 
L 76.44 193.441261 
L 76.536 194.514631 
L 76.632 194.372998 
L 76.656 194.808 
L 76.728 195.247024 
L 76.824 196.575015 
L 76.92 197.118819 
L 77.016 197.643804 
L 77.112 197.202642 
L 77.208 198.072377 
L 77.304 199.316293 
L 77.4 199.296 
L 77.4 199.257098 
L 77.496 199.903923 
L 77.592 200.382819 
L 77.688 201.01414 
L 77.784 201.560971 
L 77.88 203.180333 
L 77.976 203.139172 
L 78.072 204.18546 
L 78.144 204.3 
L 78.168 204.794795 
L 78.264 205.837242 
L 78.36 207.485095 
L 78.456 208.412771 
L 78.552 210.03354 
L 78.648 210.792 
L 78.648 211.587496 
L 78.744 211.820544 
L 78.84 213.052134 
L 78.936 214.892437 
L 79.032 215.349036 
L 79.128 216.238706 
L 79.152 216.792 
L 79.224 217.462918 
L 79.32 218.912108 
L 79.416 220.337492 
L 79.512 220.876356 
L 79.608 222.254651 
L 79.704 222.894236 
L 79.8 224.411176 
L 79.896 225.3 
L 79.896 225.653776 
L 79.992 226.570597 
L 80.088 226.746299 
L 80.184 227.622403 
L 80.28 227.618382 
L 80.304 227.808 
L 80.376 224.23338 
L 80.472 219.062269 
L 80.544 215.28 
L 80.568 215.824048 
L 80.664 219.201432 
L 80.76 222.095289 
L 80.808 223.2 
L 80.856 224.725347 
L 80.952 227.147142 
L 81 228 
L 81.048 228.477773 
L 81.144 230.029123 
L 81.24 231.382999 
L 81.336 232.002105 
L 81.432 233.920425 
L 81.528 234.564055 
L 81.624 236.380076 
L 81.72 237.622021 
L 81.768 237.6 
L 81.816 239.275146 
L 81.912 238.012494 
L 82.008 239.807384 
L 82.104 238.231433 
L 82.2 238.942928 
L 82.296 241.048523 
L 82.392 239.60354 
L 82.488 240.805919 
L 82.584 240.624 
L 82.584 240.242728 
L 82.68 245.448223 
L 82.704 244.608 
L 82.776 246.118702 
L 82.872 246.442352 
L 82.968 247.046048 
L 83.064 246.436801 
L 83.16 246.949887 
L 83.256 246.452884 
L 83.28 246.936 
L 83.352 247.153307 
L 83.448 248.305913 
L 83.544 249.155597 
L 83.64 248.385387 
L 83.736 250.673234 
L 83.76 249.72 
L 83.832 251.293202 
L 83.928 252.252045 
L 84.024 251.509903 
L 84.12 252.013797 
L 84.216 252.768 
L 84.216 253.493934 
L 84.312 252.942164 
L 84.408 254.277115 
L 84.504 256.014379 
L 84.6 254.533261 
L 84.696 255.015426 
L 84.792 256.032 
L 84.792 257.563102 
L 84.888 257.74697 
L 84.984 255.935469 
L 85.08 257.106916 
L 85.176 258.006379 
L 85.272 258.86171 
L 85.32 257.304 
L 85.368 257.510179 
L 85.464 258.542937 
L 85.56 256.920278 
L 85.656 258.423559 
L 85.752 256.934897 
L 85.848 256.89325 
L 85.944 257.614109 
L 85.968 256.488 
L 86.04 255.444971 
L 86.136 253.187562 
L 86.232 252.995298 
L 86.304 250.656 
L 86.328 252.111205 
L 86.424 251.745055 
L 86.52 252.91182 
L 86.616 254.078836 
L 86.664 254.4 
L 86.712 253.857453 
L 86.808 254.542172 
L 86.904 253.039696 
L 87 251.869573 
L 87.096 252.634258 
L 87.12 251.832 
L 87.192 252.770759 
L 87.288 251.939018 
L 87.384 252.02215 
L 87.48 252.576869 
L 87.576 252.833041 
L 87.672 253.301268 
L 87.72 253.464 
L 87.768 255.421877 
L 87.864 255.187985 
L 87.96 256.41832 
L 88.056 256.248 
L 88.056 255.538282 
L 88.152 257.596937 
L 88.248 257.511555 
L 88.344 257.943531 
L 88.416 259.056 
L 88.44 259.516501 
L 88.536 260.716284 
L 88.632 260.148041 
L 88.728 262.258456 
L 88.824 260.871687 
L 88.92 261.259038 
L 88.992 262.32 
L 89.016 261.984393 
L 89.112 262.249063 
L 89.208 264.501139 
L 89.304 263.459993 
L 89.4 264.897433 
L 89.472 263.952 
L 89.496 264.493938 
L 89.592 262.751471 
L 89.688 263.527883 
L 89.784 261.896059 
L 89.88 259.510422 
L 89.928 259.752 
L 89.976 260.647395 
L 90.072 264.897946 
L 90.168 266.28 
L 90.168 265.984934 
L 90.264 267.800364 
L 90.36 266.54003 
L 90.456 267.117232 
L 90.552 267.560581 
L 90.624 267.216 
L 90.648 266.544132 
L 90.744 265.548171 
L 90.84 264.770756 
L 90.936 261.568521 
L 91.032 260.381994 
L 91.104 258.6 
L 91.128 260.755878 
L 91.224 260.505069 
L 91.32 263.579565 
L 91.416 266.648216 
L 91.44 265.584 
L 91.512 265.47293 
L 91.608 267.436864 
L 91.704 267.513192 
L 91.8 266.592137 
L 91.896 266.44805 
L 91.92 267.216 
L 91.992 267.774409 
L 92.088 268.134528 
L 92.184 268.066966 
L 92.28 267.371043 
L 92.376 268.152 
L 92.376 268.728164 
L 92.472 266.714456 
L 92.568 265.155537 
L 92.664 263.828765 
L 92.736 260.928 
L 92.76 261.533357 
L 92.856 261.945716 
L 92.952 262.773328 
L 93.048 263.719101 
L 93.144 265.973242 
L 93.192 264.888 
L 93.24 264.582829 
L 93.336 262.351861 
L 93.432 260.360109 
L 93.528 258.203016 
L 93.624 258.507008 
L 93.672 256.032 
L 93.72 257.639445 
L 93.816 258.815111 
L 93.912 259.355614 
L 94.008 259.545633 
L 94.104 259.317231 
L 94.128 259.752 
L 94.2 257.234745 
L 94.296 256.056284 
L 94.392 251.674801 
L 94.488 249.167876 
L 94.584 246.456 
L 94.584 247.135985 
L 94.68 247.82855 
L 94.776 249.455813 
L 94.872 249.881153 
L 94.944 250.44 
L 94.968 250.068254 
L 95.064 249.247485 
L 95.16 248.478791 
L 95.256 248.666317 
L 95.352 245.815461 
L 95.448 246.994758 
L 95.52 244.608 
L 95.544 245.955346 
L 95.64 243.105355 
L 95.736 241.989338 
L 95.832 242.267851 
L 95.928 240.170759 
L 96 239.928 
L 96.024 240.592495 
L 96.12 240.17294 
L 96.216 239.484305 
L 96.312 239.012743 
L 96.408 238.392 
L 96.408 239.151026 
L 96.504 239.235624 
L 96.6 239.587775 
L 96.696 237.553207 
L 96.792 238.178857 
L 96.888 236.4 
L 96.888 237.606258 
L 96.984 237.556042 
L 97.08 235.885353 
L 97.176 236.699483 
L 97.2 234.792 
L 97.272 234.088136 
L 97.368 234.280923 
L 97.464 233.056657 
L 97.56 229.046698 
L 97.656 227.618079 
L 97.68 228 
L 97.752 229.30336 
L 97.848 231.454986 
L 97.944 233.894764 
L 97.992 232.8 
L 98.04 232.810132 
L 98.136 237.274256 
L 98.232 238.726818 
L 98.328 238.8 
L 98.328 240.177104 
L 98.424 239.471467 
L 98.52 236.1955 
L 98.616 236.104834 
L 98.712 235.24829 
L 98.808 233.592 
L 98.808 234.869896 
L 98.904 233.70192 
L 99 237.168958 
L 99.096 237.356351 
L 99.192 236.808 
L 99.192 237.620312 
L 99.288 239.04034 
L 99.384 237.767892 
L 99.48 238.999625 
L 99.576 240.197135 
L 99.672 241.899439 
L 99.768 240.957269 
L 99.792 241.992 
L 99.864 242.708801 
L 99.96 240.794062 
L 100.056 240.172688 
L 100.152 237.503601 
L 100.2 237.6 
L 100.248 237.419446 
L 100.344 234.885822 
L 100.44 233.217384 
L 100.536 232.201436 
L 100.632 228.558515 
L 100.68 227.208 
L 100.728 229.729079 
L 100.824 232.744104 
L 100.92 235.875869 
L 100.992 235.992 
L 101.016 238.553552 
L 101.112 242.738501 
L 101.208 245.899803 
L 101.28 248.4 
L 101.304 247.308044 
L 101.4 247.972596 
L 101.496 244.143891 
L 101.592 243.486333 
L 101.688 241.868835 
L 101.784 239.936384 
L 101.808 239.208 
L 101.88 241.699178 
L 101.976 242.165227 
L 102.072 245.03821 
L 102.168 245.057511 
L 102.192 244.8 
L 102.264 243.982453 
L 102.36 243.207502 
L 102.456 241.586809 
L 102.552 240.641078 
L 102.6 240.792 
L 102.648 243.649899 
L 102.744 246.013029 
L 102.84 245.57695 
L 102.936 250.606064 
L 103.008 250.392 
L 103.032 251.856551 
L 103.128 253.840748 
L 103.224 254.759713 
L 103.32 254.52687 
L 103.416 256.810525 
L 103.512 256.8 
L 103.512 258.80372 
L 103.608 256.320211 
L 103.704 254.517235 
L 103.8 255.207302 
L 103.896 252.404851 
L 103.992 251.208 
L 103.992 250.879133 
L 104.088 251.021303 
L 104.184 248.506689 
L 104.28 244.808512 
L 104.376 244.23906 
L 104.4 243.192 
L 104.472 245.719244 
L 104.568 247.068651 
L 104.664 247.66839 
L 104.76 249.035816 
L 104.808 250.392 
L 104.856 251.433704 
L 104.952 248.311263 
L 105.048 247.601717 
L 105.144 246.054326 
L 105.24 242.552178 
L 105.288 242.4 
L 105.336 242.195292 
L 105.432 243.874146 
L 105.528 246.092622 
L 105.624 248.657866 
L 105.72 248.158647 
L 105.792 248.808 
L 105.816 249.956844 
L 105.912 253.480304 
L 106.008 256.048778 
L 106.104 259.911612 
L 106.2 262.8 
L 106.2 264.377935 
L 106.296 262.121012 
L 106.392 259.774151 
L 106.488 258.419096 
L 106.584 258.30767 
L 106.608 256.008 
L 106.68 255.744741 
L 106.776 253.901151 
L 106.872 251.256139 
L 106.968 249.321788 
L 107.064 248.768407 
L 107.112 246.792 
L 107.16 248.647531 
L 107.256 249.169915 
L 107.352 250.031538 
L 107.448 250.927228 
L 107.544 251.679948 
L 107.592 251.208 
L 107.64 252.592926 
L 107.736 252.965894 
L 107.832 251.388833 
L 107.928 253.246353 
L 108.024 254.326334 
L 108.072 252.792 
L 108.12 253.481452 
L 108.216 255.42309 
L 108.312 257.337894 
L 108.408 259.533203 
L 108.504 261.087921 
L 108.6 261.6 
L 108.6 261.730715 
L 108.696 260.41 
L 108.792 257.487601 
L 108.888 256.421144 
L 108.984 254.350642 
L 109.08 255.06207 
L 109.176 251.141868 
L 109.272 249.555683 
L 109.368 247.893039 
L 109.392 247.992 
L 109.464 249.195474 
L 109.56 251.952804 
L 109.656 256.304467 
L 109.752 258.045272 
L 109.848 259.742152 
L 109.944 261.205969 
L 109.992 262.392 
L 110.04 261.595191 
L 110.136 262.932014 
L 110.232 261.695707 
L 110.328 262.131518 
L 110.424 260.516349 
L 110.52 259.088903 
L 110.592 258.408 
L 110.616 258.04468 
L 110.712 255.764842 
L 110.808 255.503722 
L 110.904 253.424606 
L 111 253.215627 
L 111.096 250.345745 
L 111.192 249.192 
L 111.192 248.872855 
L 111.288 251.004813 
L 111.384 253.321587 
L 111.48 255.082408 
L 111.576 255.568638 
L 111.672 257.418259 
L 111.768 258.542976 
L 111.792 257.592 
L 111.864 256.387201 
L 111.96 255.421116 
L 112.056 253.274474 
L 112.152 252.150681 
L 112.2 250.8 
L 112.248 252.497894 
L 112.344 252.222388 
L 112.44 251.108792 
L 112.536 250.96609 
L 112.632 253.654831 
L 112.728 252 
L 112.728 253.62845 
L 112.824 254.975976 
L 112.92 255.239375 
L 113.016 256.325432 
L 113.112 258.186912 
L 113.208 259.815555 
L 113.304 263.099672 
L 113.4 262.8 
L 113.4 264.393537 
L 113.496 262.334807 
L 113.592 260.575305 
L 113.688 260.441689 
L 113.784 261.263165 
L 113.88 260.622617 
L 113.976 257.357648 
L 114 257.592 
L 114.072 257.863303 
L 114.168 260.08662 
L 114.264 260.76996 
L 114.36 263.168109 
L 114.456 265.262922 
L 114.48 264.408 
L 114.552 264.111185 
L 114.648 262.90073 
L 114.744 263.31533 
L 114.84 259.543013 
L 114.936 258.898748 
L 115.032 257.666106 
L 115.128 258.748017 
L 115.2 256.008 
L 115.224 257.46155 
L 115.32 257.79509 
L 115.416 258.733484 
L 115.512 261.329253 
L 115.608 261.192 
L 115.608 261.707595 
L 115.704 261.550834 
L 115.8 259.356275 
L 115.896 259.305543 
L 115.992 259.954342 
L 116.088 259.10817 
L 116.184 257.360432 
L 116.208 257.208 
L 116.28 256.569347 
L 116.376 253.894741 
L 116.472 253.376869 
L 116.568 249.45321 
L 116.664 247.315916 
L 116.712 246.792 
L 116.76 250.141835 
L 116.856 251.064527 
L 116.952 254.636274 
L 117.048 256.609747 
L 117.144 260.155933 
L 117.192 260.4 
L 117.24 262.062511 
L 117.336 260.835869 
L 117.432 258.491596 
L 117.528 257.929993 
L 117.624 257.814298 
L 117.72 257.653529 
L 117.792 257.208 
L 117.816 256.639724 
L 117.912 259.841507 
L 118.008 259.715864 
L 118.104 260.950572 
L 118.2 262.797596 
L 118.296 262.189275 
L 118.392 264.755656 
L 118.488 264 
L 118.488 265.607488 
L 118.584 265.514403 
L 118.68 265.350603 
L 118.776 263.578995 
L 118.872 263.679535 
L 118.968 265.003321 
L 119.064 262.975949 
L 119.16 263.731065 
L 119.208 263.208 
L 119.256 265.712277 
L 119.352 266.044014 
L 119.448 266.333245 
L 119.544 268.825311 
L 119.64 267.82113 
L 119.688 269.04 
L 119.736 270.00965 
L 119.832 268.084153 
L 119.928 269.3809 
L 120.024 268.025776 
L 120.12 268.433424 
L 120.192 266.4 
L 120.216 265.872053 
L 120.312 265.989965 
L 120.408 264.562721 
L 120.504 265.168466 
L 120.6 264.472232 
L 120.696 263.940007 
L 120.792 263.208 
L 120.792 262.913058 
L 120.888 262.503389 
L 120.984 261.761251 
L 121.08 260.833527 
L 121.176 258.996411 
L 121.272 256.203584 
L 121.368 255.165309 
L 121.464 253.459862 
L 121.56 251.852542 
L 121.608 252 
L 121.656 253.945583 
L 121.752 254.710329 
L 121.848 254.119593 
L 121.944 255.939194 
L 122.04 256.815836 
L 122.136 258.462581 
L 122.208 259.2 
L 122.232 260.284252 
L 122.328 260.23093 
L 122.424 260.160695 
L 122.52 260.693199 
L 122.616 258.639422 
L 122.712 259.232692 
L 122.808 258.342978 
L 122.88 258.408 
L 122.904 260.000175 
L 123 258.690814 
L 123.096 259.987924 
L 123.192 263.050291 
L 123.288 262.612879 
L 123.384 262.047145 
L 123.48 265.416471 
L 123.528 264 
L 123.576 263.526371 
L 123.672 262.98444 
L 123.768 261.895359 
L 123.864 258.386372 
L 123.96 258.446623 
L 124.056 256.706043 
L 124.152 256.642985 
L 124.2 254.4 
L 124.248 254.701366 
L 124.344 255.182363 
L 124.44 256.387182 
L 124.536 256.290313 
L 124.608 257.208 
L 124.632 258.772324 
L 124.728 260.883368 
L 124.824 262.050314 
L 124.92 262.278246 
L 125.016 264.832087 
L 125.112 265.608 
L 125.112 266.994243 
L 125.208 265.678899 
L 125.304 265.06011 
L 125.4 263.717749 
L 125.496 263.520681 
L 125.592 264.515777 
L 125.688 262.3563 
L 125.784 262.168257 
L 125.808 262.008 
L 125.88 261.389821 
L 125.976 261.144 
L 126.072 257.982378 
L 126.168 256.341254 
L 126.264 256.285084 
L 126.312 253.608 
L 126.36 254.170506 
L 126.456 252.106504 
L 126.552 251.52323 
L 126.648 249.646156 
L 126.744 248.72065 
L 126.792 248.808 
L 126.84 250.953583 
L 126.936 251.191468 
L 127.032 249.47574 
L 127.128 250.141957 
L 127.224 250.55958 
L 127.32 251.697482 
L 127.392 252.408 
L 127.416 250.91769 
L 127.512 249.297702 
L 127.608 244.8 
L 127.608 246.23095 
L 127.704 247.174017 
L 127.8 247.317288 
L 127.896 248.923688 
L 127.992 247.992 
L 127.992 247.376521 
L 128.088 249.810605 
L 128.184 250.29675 
L 128.28 252.079263 
L 128.376 250.765223 
L 128.472 251.954449 
L 128.568 252.364818 
L 128.592 252.792 
L 128.664 250.748749 
L 128.76 251.496304 
L 128.856 250.206669 
L 128.952 246.347048 
L 129 246 
L 129.048 247.865837 
L 129.144 248.438365 
L 129.24 249.636671 
L 129.288 250.392 
L 129.336 248.633782 
L 129.432 241.174468 
L 129.528 233.086654 
L 129.624 228.157648 
L 129.672 222.792 
L 129.72 226.878467 
L 129.816 230.943462 
L 129.912 235.182849 
L 130.008 238.392 
L 130.008 240.336153 
L 130.104 240.342368 
L 130.2 239.030095 
L 130.296 237.768563 
L 130.392 239.600679 
L 130.488 237.576927 
L 130.584 238.240032 
L 130.608 238.392 
L 130.68 241.018767 
L 130.776 240.622512 
L 130.872 243.288234 
L 130.968 244.424424 
L 131.064 244.675488 
L 131.112 244.8 
L 131.16 245.895756 
L 131.256 244.290002 
L 131.352 244.681395 
L 131.448 242.854871 
L 131.544 244.919821 
L 131.64 244.455526 
L 131.688 242.4 
L 131.736 243.500239 
L 131.832 242.392989 
L 131.928 241.090554 
L 132.024 241.111716 
L 132.072 239.208 
L 132.12 240.155407 
L 132.216 243.958814 
L 132.312 244.6924 
L 132.408 245.594378 
L 132.48 247.992 
L 132.504 246.933803 
L 132.6 245.825624 
L 132.696 243.390067 
L 132.792 242.714546 
L 132.888 240.237183 
L 132.984 238.09786 
L 133.08 235.238117 
L 133.176 234.421611 
L 133.2 232.8 
L 133.272 234.253222 
L 133.368 236.181241 
L 133.464 237.29918 
L 133.56 236.393417 
L 133.656 240.079098 
L 133.752 240.863956 
L 133.848 241.065996 
L 133.92 241.608 
L 133.944 243.64501 
L 134.04 241.855402 
L 134.136 238.133493 
L 134.232 238.514574 
L 134.328 236.726464 
L 134.424 237.610428 
L 134.52 234.416783 
L 134.592 233.592 
L 134.616 233.284927 
L 134.712 232.419051 
L 134.808 232.838661 
L 134.904 233.323469 
L 135 230.136621 
L 135.096 230.846373 
L 135.192 228.792 
L 135.192 231.086474 
L 135.288 231.157845 
L 135.384 228.278172 
L 135.48 228.813318 
L 135.576 229.548753 
L 135.6 228.792 
L 135.672 231.207101 
L 135.768 230.317523 
L 135.864 233.782967 
L 135.96 233.16715 
L 136.056 233.909767 
L 136.08 233.592 
L 136.152 232.564063 
L 136.248 232.122319 
L 136.344 231.45016 
L 136.44 231.128674 
L 136.536 231.011997 
L 136.608 228 
L 136.632 228.554675 
L 136.728 227.940402 
L 136.824 230.610693 
L 136.92 228.794079 
L 137.016 228.047452 
L 137.112 226.919216 
L 137.208 228 
L 137.208 227.836226 
L 137.304 227.965037 
L 137.4 231.104221 
L 137.496 232.89517 
L 137.592 231.794588 
L 137.688 232.443234 
L 137.784 233.888946 
L 137.808 234.408 
L 137.88 235.478792 
L 137.976 233.913481 
L 138.072 233.549632 
L 138.168 230.732083 
L 138.264 232.6136 
L 138.36 231.901162 
L 138.408 229.608 
L 138.456 229.923846 
L 138.552 230.738952 
L 138.648 231.597417 
L 138.744 231.046356 
L 138.84 230.777115 
L 138.936 228.746257 
L 139.032 230.298429 
L 139.128 231.39484 
L 139.2 229.608 
L 139.224 232.412082 
L 139.32 231.051993 
L 139.416 230.406907 
L 139.512 233.148668 
L 139.608 233.841807 
L 139.704 233.284463 
L 139.8 232.8 
L 139.8 232.350532 
L 139.896 235.136545 
L 139.992 235.102521 
L 140.088 232.375567 
L 140.184 235.343366 
L 140.28 233.942721 
L 140.328 234 
L 140.376 234.84733 
L 140.472 236.407466 
L 140.568 235.337211 
L 140.664 237.288917 
L 140.76 238.90638 
L 140.808 237.6 
L 140.856 239.227675 
L 140.952 237.776443 
L 141.048 237.374726 
L 141.144 239.634899 
L 141.24 238.748544 
L 141.336 238.317188 
L 141.432 239.943524 
L 141.528 238.065646 
L 141.6 239.208 
L 141.624 238.843613 
L 141.72 238.512815 
L 141.816 234.286335 
L 141.912 234.3758 
L 142.008 229.992 
L 142.008 228.926958 
L 142.104 232.662682 
L 142.2 233.370475 
L 142.296 231.824645 
L 142.392 234.820262 
L 142.488 234.941369 
L 142.584 236.280698 
L 142.608 235.2 
L 142.68 233.842258 
L 142.776 235.333819 
L 142.872 233.807368 
L 142.968 232.730217 
L 143.064 231.066088 
L 143.16 230.707268 
L 143.208 229.608 
L 143.256 229.251285 
L 143.352 231.24129 
L 143.448 234.703654 
L 143.544 235.054839 
L 143.592 235.2 
L 143.64 236.94523 
L 143.736 235.224334 
L 143.832 232.541133 
L 143.928 232.993834 
L 144.024 231.290955 
L 144.12 230.68574 
L 144.192 229.992 
L 144.216 232.015454 
L 144.312 232.089181 
L 144.408 234.139763 
L 144.504 233.813661 
L 144.6 234.792 
L 144.6 237.435094 
L 144.696 234.759274 
L 144.792 232.905597 
L 144.888 229.883839 
L 144.984 231.065752 
L 145.008 228.792 
L 145.08 231.499393 
L 145.176 232.065098 
L 145.272 235.023915 
L 145.368 238.787429 
L 145.392 237.6 
L 145.464 237.507299 
L 145.56 239.70012 
L 145.656 241.158898 
L 145.752 241.903434 
L 145.848 242.567803 
L 145.944 240.96522 
L 146.04 243.203336 
L 146.136 244.254976 
L 146.208 243.192 
L 146.232 243.225686 
L 146.328 244.126363 
L 146.424 243.117607 
L 146.52 240.785829 
L 146.616 241.27 
L 146.712 239.679203 
L 146.808 239.208 
L 146.808 240.57339 
L 146.904 240.628782 
L 147 240.276343 
L 147.096 243.638811 
L 147.192 244.371765 
L 147.288 245.018372 
L 147.384 244.203776 
L 147.408 244.8 
L 147.48 246.643579 
L 147.576 244.541 
L 147.672 247.440502 
L 147.768 245.490261 
L 147.864 247.088177 
L 147.96 246.339703 
L 148.056 246.420775 
L 148.152 246.541886 
L 148.2 246.792 
L 148.248 247.543109 
L 148.344 245.653565 
L 148.44 244.164142 
L 148.536 244.606538 
L 148.632 243.024173 
L 148.728 243.142989 
L 148.8 240.792 
L 148.824 240.975705 
L 148.92 243.06761 
L 149.016 243.066118 
L 149.112 243.563839 
L 149.208 244.603601 
L 149.304 247.511474 
L 149.4 247.2 
L 149.4 246.887968 
L 149.496 245.678521 
L 149.592 247.012542 
L 149.688 245.677425 
L 149.784 242.824571 
L 149.88 244.007878 
L 149.976 243.024062 
L 150 241.608 
L 150.072 241.84887 
L 150.168 238.885301 
L 150.264 238.170759 
L 150.36 237.295339 
L 150.456 235.971138 
L 150.552 233.573851 
L 150.648 232.904237 
L 150.72 230.4 
L 150.744 232.509017 
L 150.84 231.504665 
L 150.936 232.430349 
L 151.008 232.8 
L 151.032 236.340191 
L 151.128 241.897718 
L 151.224 247.279915 
L 151.32 253.2 
L 151.32 252.979794 
L 151.416 252.207356 
L 151.512 249.25355 
L 151.608 246.239546 
L 151.704 244.76229 
L 151.728 243.6 
L 151.8 245.399716 
L 151.896 243.659553 
L 151.992 244.321218 
L 152.088 246.878691 
L 152.184 245.82177 
L 152.208 245.592 
L 152.28 248.320198 
L 152.376 252.356943 
L 152.472 254.941024 
L 152.568 256.544676 
L 152.664 259.633491 
L 152.712 259.992 
L 152.76 258.679874 
L 152.856 259.273487 
L 152.952 257.944083 
L 153.048 257.064875 
L 153.144 255.821003 
L 153.192 253.608 
L 153.24 254.762221 
L 153.336 251.820707 
L 153.432 250.646804 
L 153.528 251.306662 
L 153.6 248.808 
L 153.624 250.462441 
L 153.72 250.332763 
L 153.816 253.100909 
L 153.912 252.612496 
L 154.008 254.4 
L 154.008 255.814305 
L 154.104 254.342169 
L 154.2 253.150248 
L 154.296 250.22226 
L 154.392 249.469421 
L 154.488 249.955053 
L 154.584 248.312682 
L 154.632 246.408 
L 154.68 249.519392 
L 154.776 250.976798 
L 154.872 255.160327 
L 154.968 256.094978 
L 154.992 256.8 
L 155.064 259.675441 
L 155.16 262.338124 
L 155.208 264 
L 155.28 266.39593 
L 155.424 263.962224 
L 155.568 268.556116 
L 155.592 269.208 
L 155.64 264.860427 
L 155.712 269.226658 
L 155.856 265.152 
L 156 265.44 
L 156.144 266.157563 
L 156.24 265.92 
L 156.288 271.731415 
L 156.432 266.776263 
L 156.576 272.52408 
L 156.72 266.76 
L 156.72 274.392 
L 156.72 272.835849 
L 156.864 268.250143 
L 157.008 267.247566 
L 157.152 267.493416 
L 157.296 269.043467 
L 157.44 271.96893 
L 157.44 268.607294 
L 157.584 267.362614 
L 157.728 269.583189 
L 157.872 273.648099 
L 157.992 275.592 
L 158.016 267.390182 
L 158.16 267.33 
L 158.304 270.820367 
L 158.4 268.924313 
L 158.448 272.319535 
L 158.592 267.36 
L 158.736 272.814997 
L 158.88 270.726524 
L 159 276 
L 159.024 267.36 
L 159.168 274.146516 
L 159.312 267.36 
L 159.456 267.36 
L 159.6 269.363821 
L 159.6 271.813412 
L 159.744 267.36 
L 159.84 275.04 
L 159.888 271.626872 
L 160.032 267.365614 
L 160.176 267.36 
L 160.32 267.814759 
L 160.464 272.108483 
L 160.608 269.243076 
L 160.752 270.080834 
L 160.8 272.445559 
L 160.8 273.192 
L 160.896 271.33827 
L 161.04 267.36959 
L 161.184 267.34464 
L 161.328 267.33888 
L 161.472 274.154148 
L 161.616 270.036612 
L 161.76 268.160741 
L 161.904 267.614757 
L 162 269.148183 
L 162.048 268.356275 
L 162.192 274.392 
L 162.192 270.288735 
L 162.336 267.2784 
L 162.48 270.578223 
L 162.624 267.657657 
L 162.768 272.856919 
L 162.84 273.6 
L 162.912 267.2208 
L 163.056 267.206767 
L 163.2 267.192 
L 163.2 267.192 
L 163.344 272.307261 
L 163.488 273.511141 
L 163.632 268.21689 
L 163.776 267.013136 
L 163.8 274.008 
L 163.92 267.049318 
L 164.064 271.557509 
L 164.208 274.373989 
L 164.352 270.693428 
L 164.496 266.228568 
L 164.64 273.220469 
L 164.712 275.208 
L 164.784 272.60914 
L 164.928 272.158339 
L 165.072 265.703422 
L 165.192 266.879011 
L 165.216 265.964406 
L 165.36 269.196265 
L 165.408 272.808 
L 165.504 265.90332 
L 165.648 265.64915 
L 165.792 265.365143 
L 165.936 265.333665 
L 166.08 267.177768 
L 166.224 271.306034 
L 166.368 265.132 
L 166.512 265.073714 
L 166.656 265.015429 
L 166.8 272.4 
L 166.8 265.068293 
L 166.944 264.898857 
L 167.088 267.712759 
L 167.208 270.020462 
L 167.232 265.999898 
L 167.376 270.605682 
L 167.52 267.659333 
L 167.664 264.834324 
L 167.808 264.611277 
L 167.952 268.706004 
L 168.096 264.52453 
L 168.192 271.992 
L 168.24 264.665488 
L 168.384 264.962612 
L 168.528 265.867912 
L 168.672 271.165812 
L 168.816 264.307663 
L 168.96 269.499904 
L 169.104 264.220916 
L 169.2 265.357979 
L 169.248 264.187373 
L 169.392 264.204451 
L 169.536 265.877022 
L 169.68 264.795901 
L 169.8 269.208 
L 169.824 264.246388 
L 169.968 264.123671 
L 170.112 264.466345 
L 170.256 267.818139 
L 170.4 266.79855 
L 170.544 267.9547 
L 170.688 264.575038 
L 170.808 269.592 
L 170.832 264.034699 
L 170.976 267.860195 
L 171.12 264.015879 
L 171.192 264 
L 171.264 264.774197 
L 171.408 263.398286 
L 171.552 267.020643 
L 171.696 262.796002 
L 171.84 263.213066 
L 171.984 265.104616 
L 172.008 268.008 
L 172.128 261.397044 
L 172.2 262.625488 
L 172.272 262.007965 
L 172.416 262.696044 
L 172.56 261.175691 
L 172.704 260.892 
L 172.848 264.635215 
L 172.992 267.792 
L 172.992 260.879007 
L 173.136 260.785558 
L 173.208 261.299235 
L 173.28 261.927138 
L 173.424 261.144175 
L 173.568 265.475597 
L 173.712 264.06313 
L 173.856 264.255652 
L 173.928 267.6 
L 174 263.093159 
L 174 266.115649 
L 174.144 262.722532 
L 174.288 266.071838 
L 174.432 262.933475 
L 174.576 265.969766 
L 174.72 263.151391 
L 174.864 263.413734 
L 174.888 269.4 
L 175.008 267.273852 
L 175.152 263.420831 
L 175.2 263.4 
L 175.296 263.28864 
L 175.44 263.1216 
L 175.584 263.067142 
L 175.728 264.108112 
L 175.872 262.62048 
L 176.016 262.45344 
L 176.16 262.2864 
L 176.304 263.450442 
L 176.4 263.028057 
L 176.448 261.937351 
L 176.592 266.808 
L 176.592 261.896246 
L 176.736 263.274417 
L 176.88 260.990962 
L 177.024 262.447557 
L 177.168 262.423688 
L 177.312 261.181878 
L 177.408 259.817392 
L 177.456 262.048648 
L 177.6 260.918672 
L 177.744 260.560569 
L 177.888 259.916364 
L 178.032 260.679523 
L 178.176 262.666933 
L 178.2 260.701526 
L 178.32 260.599273 
L 178.392 265.392 
L 178.464 265.465554 
L 178.608 265.482137 
L 178.752 264.819 
L 178.896 263.514182 
L 178.992 264.836847 
L 179.04 263.996861 
L 179.184 266.023471 
L 179.328 263.920941 
L 179.472 264.704361 
L 179.616 263.853176 
L 179.688 270 
L 179.76 266.719655 
L 179.808 264.204658 
L 179.904 264.186734 
L 180.048 264.471699 
L 180.192 264.744585 
L 180.336 265.095805 
L 180.408 268.8 
L 180.48 265.454288 
L 180.624 269.498771 
L 180.768 267.999823 
L 180.792 266.330804 
L 180.912 268.115581 
L 181.056 269.346466 
L 181.2 266.387573 
L 181.344 267.90947 
L 181.488 266.555673 
L 181.632 267.003557 
L 181.776 266.208 
L 181.92 269.152272 
L 182.064 267.424454 
L 182.208 268.061046 
L 182.352 268.343565 
L 182.4 266.406805 
L 182.472 271.2 
L 182.496 266.155636 
L 182.64 267.725686 
L 182.784 265.998545 
L 182.928 265.935771 
L 182.928 266.900975 
L 183.072 242.815447 
L 183.12 232.804397 
L 183.216 236.493124 
L 183.312 241.530976 
L 183.36 242.359758 
L 183.504 249.773379 
L 183.648 258.068292 
L 183.792 263.592 
L 183.792 263.592 
L 183.912 268.992 
L 183.936 263.977928 
L 184.08 265.107994 
L 184.224 264.74976 
L 184.368 265.692952 
L 184.392 265.531837 
L 184.512 265.359768 
L 184.656 265.269645 
L 184.8 265.688674 
L 184.944 266.210615 
L 184.992 266.808 
L 185.088 265.340857 
L 185.232 267.192947 
L 185.376 266.363421 
L 185.52 265.428286 
L 185.664 265.863952 
L 185.808 265.50554 
L 185.952 265.529223 
L 186.096 266.392424 
L 186.24 265.574 
L 186.384 265.603143 
L 186.408 265.642984 
L 186.528 266.016564 
L 186.672 266.978039 
L 186.816 266.322375 
L 186.96 266.390331 
L 187.104 267.710335 
L 187.248 265.688964 
L 187.392 268.392 
L 187.392 265.702843 
L 187.536 265.716723 
L 187.68 266.148264 
L 187.824 265.907283 
L 187.968 265.762465 
L 188.112 266.092329 
L 188.256 266.150164 
L 188.4 267.530125 
L 188.4 266.086786 
L 188.472 268.392 
L 188.544 265.729075 
L 188.688 265.661458 
L 188.832 266.398748 
L 188.976 265.628296 
L 189.12 265.95534 
L 189.264 266.042574 
L 189.408 266.808 
L 189.408 265.305471 
L 189.552 265.412122 
L 189.696 265.161672 
L 189.84 265.324795 
L 189.984 266.098199 
L 190.008 265.008 
L 190.128 266.644078 
L 190.272 264.86948 
L 190.416 264.66528 
L 190.56 265.967083 
L 190.704 264.849975 
L 190.848 266.190014 
L 190.992 264.18144 
L 191.136 264.064003 
L 191.208 264.27786 
L 191.28 263.955148 
L 191.424 264.194101 
L 191.568 265.116903 
L 191.712 265.224615 
L 191.856 263.9814 
L 191.94 263.85987 
L 192 264.100514 
L 192.144 263.902593 
L 192.288 266.174731 
L 192.432 265.055263 
L 192.576 264.616657 
L 192.72 264.859522 
L 192.744 264.9 
L 192.864 265.018421 
L 193.008 265.160526 
L 193.152 265.302632 
L 193.296 265.444737 
L 193.44 265.917729 
L 193.584 265.736657 
L 193.656 267.555134 
L 193.728 265.682609 
L 193.872 267.432854 
L 193.944 268.944 
L 194.016 267.879746 
L 194.16 264.978261 
L 194.304 264.743478 
L 194.448 266.552264 
L 194.592 264.274258 
L 194.736 264.03913 
L 194.76 264.419166 
L 194.88 264.4 
L 195.024 267.884911 
L 195.168 265.36 
L 195.3 267.402021 
L 195.3 273.456 
L 195.312 265.818 
L 195.456 266.034 
L 195.6 266.25 
L 195.744 266.466 
L 195.888 269.776091 
L 195.9 266.791393 
L 196.032 267.077459 
L 196.176 266.781696 
L 196.32 266.82432 
L 196.344 271.5 
L 196.464 268.357888 
L 196.608 268.896746 
L 196.752 269.21994 
L 196.896 266.994816 
L 197.04 267.649418 
L 197.1 270.3 
L 197.184 267.850107 
L 197.328 269.519504 
L 197.4 268.429118 
L 197.472 267.165888 
L 197.616 267.315142 
L 197.76 267.25344 
L 197.904 267.450411 
L 198.048 268.297175 
L 198.192 267.409713 
L 198.336 267.428544 
L 198.48 267.47232 
L 198.624 267.516096 
L 198.744 271.2 
L 198.768 267.791831 
L 198.9 268.380897 
L 198.912 267.601152 
L 199.056 270.461859 
L 199.2 269.613304 
L 199.344 267.642624 
L 199.44 272.256 
L 199.488 267.656448 
L 199.632 267.670272 
L 199.776 270.292439 
L 199.92 269.029541 
L 200.064 267.711744 
L 200.1 271.344 
L 200.208 267.725568 
L 200.352 267.739392 
L 200.4 268.745702 
L 200.496 268.245878 
L 200.64 270.965612 
L 200.784 268.19456 
L 200.928 268.36352 
L 201.072 268.760184 
L 201.144 273 
L 201.216 268.70144 
L 201.3 271.607223 
L 201.36 269.246737 
L 201.504 268.982784 
L 201.648 269.705897 
L 201.792 270.672265 
L 201.936 269.430283 
L 202.056 272.256 
L 202.08 269.513851 
L 202.224 270.290131 
L 202.368 269.756928 
L 202.512 270.294458 
L 202.656 270.014976 
L 202.8 272.249041 
L 202.8 270.144 
L 202.944 270.587181 
L 203.04 273.144 
L 203.088 270.26496 
L 203.232 270.32544 
L 203.376 270.38592 
L 203.52 270.4464 
L 203.664 270.50688 
L 203.808 270.56736 
L 203.952 270.62784 
L 204 272.1 
L 204.096 270.688456 
L 204.24 271.74341 
L 204.384 270.80928 
L 204.528 270.86976 
L 204.6 273.973568 
L 204.672 271.010159 
L 204.744 275.7 
L 204.816 270.869143 
L 204.96 270.873616 
L 205.104 270.828 
L 205.2 276.456 
L 205.248 270.807429 
L 205.392 270.786857 
L 205.536 273.304995 
L 205.68 270.745714 
L 205.8 275.856 
L 205.824 271.343794 
L 205.968 270.704571 
L 206.112 270.707106 
L 206.256 270.663429 
L 206.4 271.093972 
L 206.544 272.34811 
L 206.688 270.601714 
L 206.7 272.651317 
L 206.832 271.616643 
L 206.976 271.661096 
L 207 273.144 
L 207.12 270.432 
L 207.264 270.3744 
L 207.408 270.395703 
L 207.552 270.2592 
L 207.696 270.2016 
L 207.84 270.144402 
L 207.984 271.940396 
L 208.128 270.032293 
L 208.2 271.679135 
L 208.272 270.915092 
L 208.416 269.86608 
L 208.5 273 
L 208.56 270.865423 
L 208.704 270.248539 
L 208.848 269.598242 
L 208.992 269.50896 
L 209.136 269.546024 
L 209.28 269.3304 
L 209.4 269.270344 
L 209.424 269.22592 
L 209.568 269.04544 
L 209.64 272.7 
L 209.712 269.077983 
L 209.856 268.68448 
L 210 270.598743 
L 210.144 268.32352 
L 210.288 268.14304 
L 210.432 267.96256 
L 210.576 267.862859 
L 210.72 267.6016 
L 210.864 267.42112 
L 211.008 267.868019 
L 211.152 267.06016 
L 211.2 267 
L 211.296 266.943905 
L 211.44 266.856251 
L 211.584 267.585939 
L 211.656 269.544 
L 211.728 266.69286 
L 211.872 266.5968 
L 212.016 268.153837 
L 212.16 266.424 
L 212.304 266.3376 
L 212.448 267.152063 
L 212.592 266.273917 
L 212.7 266.1 
L 212.736 266.390112 
L 212.88 266.22 
L 213.024 266.552625 
L 213.168 266.412 
L 213.312 266.602537 
L 213.456 266.604 
L 213.6 266.889205 
L 213.744 266.796 
L 213.888 269.037667 
L 213.96 269.544 
L 214.032 266.988 
L 214.176 267.084 
L 214.32 267.254981 
L 214.464 267.276 
L 214.5 267.3 
L 214.608 267.312816 
L 214.752 267.20151 
L 214.896 267.578143 
L 215.04 267.03 
L 215.184 267.01537 
L 215.328 267.007196 
L 215.472 268.682697 
L 215.544 268.5 
L 215.616 266.770079 
L 215.76 266.67 
L 215.904 266.598 
L 216.048 266.526 
L 216.192 266.454 
L 216.3 266.692974 
L 216.336 267.726785 
L 216.48 266.31 
L 216.624 267.795742 
L 216.768 266.166 
L 216.912 266.094 
L 217.056 266.11687 
L 217.2 267.715946 
L 217.344 265.878 
L 217.488 265.806 
L 217.5 269.256 
L 217.632 265.734 
L 217.776 265.662 
L 217.92 266.790272 
L 218.064 266.371718 
L 218.208 267.446693 
L 218.352 265.374 
L 218.496 266.512965 
L 218.64 265.23 
L 218.7 265.817784 
L 218.784 265.891248 
L 218.928 265.037143 
L 219.072 264.934286 
L 219.216 265.422171 
L 219.36 264.728571 
L 219.456 267.3 
L 219.504 264.650756 
L 219.648 264.571325 
L 219.792 265.33305 
L 219.936 264.317143 
L 220.08 265.04045 
L 220.224 264.111429 
L 220.368 264.008571 
L 220.512 263.905714 
L 220.656 265.39252 
L 220.8 263.749965 
L 220.8 263.7 
L 220.944 263.5272 
L 221.088 263.3544 
L 221.1 266.4 
L 221.232 265.089619 
L 221.376 263.0088 
L 221.52 262.836 
L 221.664 262.669645 
L 221.808 263.300297 
L 221.952 262.673301 
L 222.096 262.193437 
L 222.24 262.078678 
L 222.3 261.9 
L 222.384 263.791776 
L 222.528 261.5808 
L 222.672 262.604583 
L 222.816 261.1776 
L 222.96 262.342055 
L 223.104 260.7744 
L 223.248 262.311189 
L 223.392 260.371223 
L 223.5 263.256 
L 223.536 260.323898 
L 223.68 260.395772 
L 223.8 261.546129 
L 223.824 259.783104 
L 223.968 259.820988 
L 224.112 259.580352 
L 224.256 259.767465 
L 224.4 259.3776 
L 224.544 260.498014 
L 224.688 259.174848 
L 224.832 259.173847 
L 224.976 258.972096 
L 225 262.8 
L 225.12 260.270657 
L 225.264 258.769344 
L 225.3 260.09415 
L 225.408 258.78504 
L 225.552 259.15012 
L 225.696 260.800569 
L 225.84 259.319342 
L 225.984 259.00392 
L 226.128 260.481266 
L 226.2 264.144 
L 226.272 259.391394 
L 226.416 260.814853 
L 226.5 259.2 
L 226.56 259.121393 
L 226.704 258.906574 
L 226.848 259.754902 
L 226.992 258.504382 
L 227.136 258.287649 
L 227.256 260.7 
L 227.28 258.03 
L 227.424 258.930811 
L 227.568 258.673565 
L 227.7 257.4 
L 227.712 258.549874 
L 227.856 257.1504 
L 228 256.92 
L 228.144 256.6896 
L 228.288 256.505577 
L 228.432 256.2288 
L 228.576 255.9984 
L 228.72 255.785986 
L 228.864 256.308583 
L 229.008 257.29987 
L 229.056 257.7 
L 229.152 255.0768 
L 229.2 255 
L 229.296 254.8656 
L 229.44 254.664 
L 229.584 254.4624 
L 229.728 254.899908 
L 229.872 255.363557 
L 230.016 254.976636 
L 230.16 254.49759 
L 230.256 255.456 
L 230.304 253.4544 
L 230.448 253.2528 
L 230.592 253.0512 
L 230.7 253.111519 
L 230.736 252.848902 
L 230.88 252.63 
L 231.024 252.414 
L 231.168 252.198 
L 231.312 251.982 
L 231.456 251.766 
L 231.6 251.55 
L 231.744 251.334 
L 231.888 251.45437 
L 231.9 251.484127 
L 232.032 251.01684 
L 232.176 250.92612 
L 232.32 250.8354 
L 232.464 250.74468 
L 232.608 250.65396 
L 232.752 250.56324 
L 232.896 250.715013 
L 233.04 250.3818 
L 233.1 250.344 
L 233.184 250.298284 
L 233.328 250.50285 
L 233.4 251.856 
L 233.472 250.139894 
L 233.616 250.173406 
L 233.76 249.981876 
L 233.904 249.902867 
L 234.048 249.823858 
L 234.192 249.74485 
L 234.336 249.665841 
L 234.456 249.93792 
L 234.48 249.739434 
L 234.624 249.7125 
L 234.768 250.234162 
L 234.912 249.905357 
L 235.056 250.001786 
L 235.2 250.280162 
L 235.26 255.6 
L 235.344 250.194643 
L 235.488 250.291071 
L 235.632 250.392364 
L 235.776 250.483929 
L 235.8 250.501215 
L 235.92 250.803035 
L 236.064 250.764 
L 236.208 250.908 
L 236.352 251.052 
L 236.496 251.608019 
L 236.64 251.34 
L 236.784 251.484 
L 236.928 251.628 
L 237 251.72237 
L 237.072 251.8008 
L 237.216 252.101388 
L 237.36 252.204 
L 237.504 252.4056 
L 237.648 252.6072 
L 237.792 252.8088 
L 237.936 253.0104 
L 238.08 253.212 
L 238.224 253.438883 
L 238.344 255.744 
L 238.368 253.6152 
L 238.5 253.8 
L 238.512 253.812 
L 238.656 253.95654 
L 238.8 254.1 
L 238.944 254.244 
L 239.088 254.56137 
L 239.232 254.593735 
L 239.376 254.676 
L 239.4 256.8 
L 239.52 255.119573 
L 239.664 254.964 
L 239.808 255.318946 
L 239.952 255.262293 
L 240.096 255.492289 
L 240.24 255.54 
L 240.3 255.6 
L 240.384 255.691101 
L 240.528 255.844937 
L 240.672 255.999634 
L 240.816 256.154331 
L 240.9 257.544 
L 240.96 256.628823 
L 241.104 256.463726 
L 241.248 256.618423 
L 241.392 257.048422 
L 241.536 256.933896 
L 241.68 257.082514 
L 241.824 257.237211 
L 241.968 257.42639 
L 242.112 257.704445 
L 242.256 257.701303 
L 242.4 257.977317 
L 242.4 259.056 
L 242.4 257.856 
L 242.544 257.974897 
L 242.688 257.869782 
L 242.832 257.856 
L 242.976 257.901717 
L 243.12 257.856 
L 243.264 257.856069 
L 243.408 257.856 
L 243.552 257.924266 
L 243.696 257.856 
L 243.84 257.856 
L 243.984 257.856 
L 244.128 258.106531 
L 244.2 257.856 
L 244.272 258.34697 
L 244.416 258.174826 
L 244.56 258.085436 
L 244.704 258.575351 
L 244.848 258.632024 
L 244.992 258.366529 
L 245.136 258.877464 
L 245.28 258.840852 
L 245.424 259.011665 
L 245.568 258.665856 
L 245.7 258.853086 
L 245.712 258.820095 
L 245.856 259.075343 
L 246 258.984 
L 246.144 261.3 
L 246.144 259.099236 
L 246.288 259.2144 
L 246.432 259.370845 
L 246.576 259.503001 
L 246.72 259.68049 
L 246.864 259.697887 
L 247.008 259.7904 
L 247.152 259.948053 
L 247.2 259.971774 
L 247.296 259.96896 
L 247.44 260.046386 
L 247.584 260.068218 
L 247.728 260.08128 
L 247.74 264.144 
L 247.872 260.190148 
L 248.016 260.474882 
L 248.16 260.51116 
L 248.304 260.23104 
L 248.4 260.265644 
L 248.448 260.16 
L 248.592 259.890461 
L 248.736 259.748014 
L 248.88 259.296 
L 249.024 259.008 
L 249.168 258.72 
L 249.312 258.887414 
L 249.456 258.144 
L 249.456 258.144 
L 249.6 258.165517 
L 249.744 258.187034 
L 249.888 258.208552 
L 250.032 258.253334 
L 250.14 262.656 
L 250.176 258.663189 
L 250.32 258.273103 
L 250.464 258.294621 
L 250.5 258.304893 
L 250.608 258.360753 
L 250.752 258.302357 
L 250.896 258.3 
L 251.04 258.3 
L 251.184 258.33637 
L 251.256 258.424842 
L 251.328 258.382759 
L 251.472 258.897994 
L 251.616 258.748591 
L 251.76 258.87931 
L 251.904 259.044828 
L 252.048 259.210345 
L 252.192 259.389316 
L 252.3 259.946416 
L 252.336 259.608 
L 252.48 260.04 
L 252.6 263.7 
L 252.624 260.942015 
L 252.768 261.037671 
L 252.912 261.336 
L 253.056 261.768 
L 253.2 262.2 
L 253.2 262.22715 
L 253.344 262.416 
L 253.488 262.632 
L 253.632 262.85418 
L 253.776 263.064 
L 253.92 263.28 
L 254.064 263.496 
L 254.208 263.904233 
L 254.352 263.928 
L 254.4 264 
L 254.496 264.096 
L 254.544 266.4 
L 254.64 264.24 
L 254.784 264.384 
L 254.928 264.538811 
L 255.072 264.672 
L 255.216 264.816 
L 255.36 264.96 
L 255.504 265.108015 
L 255.6 265.2 
L 255.648 265.248 
L 255.792 265.556158 
L 255.936 266.015166 
L 256.08 265.681955 
L 256.224 265.824 
L 256.368 266.038854 
L 256.512 266.154122 
L 256.656 266.280233 
L 256.8 266.4 
L 256.8 266.59724 
L 256.944 266.58 
L 257.04 269.1 
L 257.088 266.76 
L 257.232 267.378572 
L 257.376 267.166519 
L 257.52 267.3 
L 257.664 267.48 
L 257.808 267.739041 
L 257.952 267.84 
L 258 267.929951 
L 258.096 267.994223 
L 258.24 268.145214 
L 258.384 268.04208 
L 258.528 268.320908 
L 258.672 268.14864 
L 258.816 268.20192 
L 258.96 268.670835 
L 259.104 268.606766 
L 259.2 268.406796 
L 259.248 268.38624 
L 259.392 268.51296 
L 259.536 268.63968 
L 259.68 268.7664 
L 259.824 268.999042 
L 259.968 269.01984 
L 260.112 269.271552 
L 260.256 269.27328 
L 260.4 269.404261 
L 260.4 269.445984 
L 260.544 269.691771 
L 260.688 269.832 
L 260.832 270.048 
L 260.976 270.264 
L 261.12 270.481166 
L 261.264 270.696 
L 261.408 271.338133 
L 261.552 271.307558 
L 261.6 271.2 
L 261.696 271.289743 
L 261.84 271.425949 
L 261.984 271.566569 
L 262.128 271.771037 
L 262.272 271.861651 
L 262.416 272.158014 
L 262.56 272.560574 
L 262.704 272.618133 
L 262.848 272.349056 
L 262.992 272.873289 
L 263.136 272.945696 
L 263.256 274.2 
L 263.28 272.7456 
L 263.4 272.90724 
L 263.424 272.945175 
L 263.568 272.89152 
L 263.712 273.327619 
L 263.856 273.004933 
L 264 272.982857 
L 264.144 273.081608 
L 264.288 273.072155 
L 264.432 273.078517 
L 264.576 273.10464 
L 264.72 273.135086 
L 264.864 273.247715 
L 265.008 273.195977 
L 265.152 273.36979 
L 265.296 273.306104 
L 265.44 273.294264 
L 265.5 273.347533 
L 265.584 273.368623 
L 265.728 273.3 
L 265.872 273.306098 
L 266.016 273.3 
L 266.1 274.344 
L 266.16 274.2 
L 266.16 273.311371 
L 266.304 273.3 
L 266.4 273.3 
L 266.448 273.2904 
L 266.592 273.2616 
L 266.736 273.2328 
L 266.88 273.313753 
L 267.024 273.1752 
L 267.168 273.276 
L 267.312 273.179671 
L 267.456 273.0888 
L 267.6 273.06 
L 267.744 273.0312 
L 267.888 273.0024 
L 267.9 273.000105 
L 267.96 274.5 
L 268.032 272.977193 
L 268.176 272.863699 
L 268.32 272.834998 
L 268.464 272.799774 
L 268.608 272.756917 
L 268.752 272.577408 
L 268.896 272.521011 
L 269.04 272.444164 
L 269.184 272.378465 
L 269.328 272.319476 
L 269.4 272.361619 
L 269.472 272.216348 
L 269.616 272.149425 
L 269.76 272.060161 
L 269.904 271.98188 
L 270.048 271.965306 
L 270.192 271.879896 
L 270.336 271.772413 
L 270.48 271.683286 
L 270.624 271.595538 
L 270.768 271.502609 
L 270.912 271.428481 
L 271.056 271.428586 
L 271.056 271.344 
L 271.2 271.377429 
L 271.344 271.46645 
L 271.488 271.444286 
L 271.632 271.536901 
L 271.776 271.511143 
L 271.92 271.546623 
L 272.064 271.578 
L 272.208 271.627397 
L 272.352 271.644857 
L 272.4 271.656 
L 272.496 271.727504 
L 272.64 271.8336 
L 272.784 271.94016 
L 272.928 272.101059 
L 273.072 272.192093 
L 273.216 272.317395 
L 273.36 272.423085 
L 273.504 272.473441 
L 273.6 272.552339 
L 273.648 272.558087 
L 273.792 272.583936 
L 273.936 272.708274 
L 274.08 272.680887 
L 274.224 272.673792 
L 274.368 272.703744 
L 274.512 272.733696 
L 274.656 272.789637 
L 274.8 272.841247 
L 274.944 272.860615 
L 275.088 272.955662 
L 275.1 272.913613 
L 275.232 272.865051 
L 275.376 272.9205 
L 275.52 272.89217 
L 275.664 272.89469 
L 275.808 272.904549 
L 275.952 272.918462 
L 276.096 273.013475 
L 276.24 272.934171 
L 276.384 272.988036 
L 276.528 272.95392 
L 276.672 272.963794 
L 276.816 272.973669 
L 276.96 273.017239 
L 277.104 272.993417 
L 277.2 273 
L 277.248 273.107125 
L 277.392 272.984972 
L 277.536 272.97312 
L 277.68 272.9616 
L 277.824 272.95012 
L 277.968 272.981503 
L 278.112 272.967466 
L 278.256 272.91552 
L 278.4 273.010031 
L 278.544 272.931749 
L 278.688 272.894661 
L 278.832 272.869441 
L 278.976 272.865675 
L 279 272.858658 
L 279.12 272.881585 
L 279.264 272.768 
L 279.408 272.825114 
L 279.552 272.672 
L 279.696 272.624013 
L 279.84 272.576 
L 279.984 272.529038 
L 280.128 272.48 
L 280.272 272.432 
L 280.416 272.384 
L 280.56 272.336 
L 280.704 272.2996 
L 280.8 272.309066 
L 280.848 272.23168 
L 280.992 272.17652 
L 281.136 272.086319 
L 281.28 272.0128 
L 281.424 271.93984 
L 281.568 271.938311 
L 281.712 271.79392 
L 281.856 271.840535 
L 282 271.648 
L 282.144 271.57504 
L 282.288 271.510654 
L 282.432 271.542137 
L 282.576 271.35616 
L 282.6 271.379776 
L 282.72 271.37602 
L 282.864 271.2384 
L 283.008 271.1808 
L 283.152 271.1232 
L 283.2 272.1 
L 283.296 271.082027 
L 283.44 271.008 
L 283.584 270.9504 
L 283.728 270.896439 
L 283.872 270.841911 
L 284.016 270.791357 
L 284.1 270.776801 
L 284.16 270.73248 
L 284.304 270.704832 
L 284.448 270.718903 
L 284.592 270.649536 
L 284.736 270.657781 
L 284.88 270.609835 
L 285.024 270.658394 
L 285.168 270.576081 
L 285.312 270.511296 
L 285.456 270.606234 
L 285.6 270.468246 
L 285.6 270.456 
L 285.744 270.256211 
L 285.888 269.916715 
L 286.032 269.64384 
L 286.176 269.475701 
L 286.32 269.108649 
L 286.464 268.83168 
L 286.608 268.562076 
L 286.752 268.371168 
L 286.8 268.239551 
L 286.896 267.936 
L 287.04 267.54 
L 287.184 267.144 
L 287.328 266.748 
L 287.472 266.459672 
L 287.616 265.956 
L 287.76 265.561673 
L 287.904 265.165835 
L 288 264.9 
L 288.048 264.772 
L 288.192 264.496237 
L 288.336 264.004 
L 288.48 263.621933 
L 288.624 263.355101 
L 288.768 262.852 
L 288.9 262.548206 
L 288.912 262.48644 
L 289.056 262.32372 
L 289.2 262.163174 
L 289.344 262.094319 
L 289.488 261.842755 
L 289.632 261.67284 
L 289.776 261.62474 
L 289.92 261.348612 
L 290.064 261.215723 
L 290.1 261.169516 
L 290.208 261.11808 
L 290.352 261.142238 
L 290.496 261.087022 
L 290.64 261.0144 
L 290.784 260.97984 
L 290.928 260.94528 
L 291.072 260.91072 
L 291.216 260.886169 
L 291.3 260.888581 
L 291.36 260.7856 
L 291.504 260.616821 
L 291.648 260.44768 
L 291.792 260.388049 
L 291.936 260.119631 
L 292.08 259.951179 
L 292.2 259.8 
L 292.224 259.728185 
L 292.368 259.296 
L 292.512 258.864 
L 292.656 258.453833 
L 292.8 258.000018 
L 292.944 257.577207 
L 293.088 257.136 
L 293.1 257.155145 
L 293.232 256.506 
L 293.376 255.889443 
L 293.52 255.216965 
L 293.664 254.67781 
L 293.808 253.915819 
L 293.952 253.266 
L 294.096 252.651017 
L 294.24 251.972596 
L 294.3 251.7 
L 294.384 251.429877 
L 294.528 250.94 
L 294.672 250.589036 
L 294.816 250.015273 
L 294.96 249.5 
L 295.104 249.02 
L 295.2 248.7 
L 295.248 248.61802 
L 295.392 248.22 
L 295.536 247.898082 
L 295.68 247.519671 
L 295.824 247.14 
L 295.968 246.78 
L 296.112 246.42 
L 296.256 246.06 
L 296.4 245.7 
L 296.4 245.7 
L 296.544 245.556 
L 296.688 245.414127 
L 296.832 245.275963 
L 296.976 245.186327 
L 297.12 244.98 
L 297.264 244.836 
L 297.3 244.826577 
L 297.408 245.027476 
L 297.552 245.063788 
L 297.696 245.196 
L 297.84 245.441828 
L 297.984 245.500213 
L 298.128 245.636834 
L 298.2 245.7 
L 298.272 245.798798 
L 298.416 245.99592 
L 298.56 246.292974 
L 298.704 246.39048 
L 298.848 246.58776 
L 298.992 246.78504 
L 299.136 246.98232 
L 299.28 247.22125 
L 299.4 247.348246 
L 299.424 247.355208 
L 299.568 247.419845 
L 299.712 247.474839 
L 299.856 247.535396 
L 300 247.599831 
L 300.144 247.656 
L 300.144 247.695737 
L 300.288 247.636504 
L 300.432 247.55915 
L 300.576 247.545939 
L 300.72 247.462716 
L 300.864 247.512637 
L 300.9 248.1 
L 301.008 247.428311 
L 301.152 247.414717 
L 301.296 247.297755 
L 301.44 247.220177 
L 301.5 247.2 
L 301.584 247.258002 
L 301.728 247.36043 
L 301.872 247.426148 
L 302.016 247.46144 
L 302.16 247.5344 
L 302.304 247.631111 
L 302.4 247.673902 
L 302.448 247.838864 
L 302.592 248.006677 
L 302.736 248.046285 
L 302.88 248.222029 
L 303.024 248.37984 
L 303.168 248.54688 
L 303.3 248.7 
L 303.312 248.716016 
L 303.456 248.908 
L 303.6 249.1 
L 303.744 249.387015 
L 303.888 249.55656 
L 304.032 249.792527 
L 304.176 249.868 
L 304.2 249.931085 
L 304.32 250.243585 
L 304.464 250.619265 
L 304.608 250.988001 
L 304.752 251.484713 
L 304.896 251.883079 
L 305.04 252.144677 
L 305.1 252.3 
L 305.184 252.58996 
L 305.328 253.132872 
L 305.472 253.485623 
L 305.616 253.938417 
L 305.76 254.395238 
L 305.856 254.747079 
L 305.904 254.932258 
L 306.048 255.637532 
L 306.192 256.325806 
L 306.336 257.022581 
L 306.48 257.725129 
L 306.6 258.373157 
L 306.624 258.587922 
L 306.768 259.324384 
L 306.912 260.205431 
L 307.056 261.12007 
L 307.2 261.929032 
L 307.344 262.89043 
L 307.344 262.819899 
L 307.488 263.826473 
L 307.632 264.694453 
L 307.776 265.607966 
L 307.92 266.482178 
L 308.064 267.371429 
L 308.1 267.635211 
L 308.208 268.157143 
L 308.352 268.927046 
L 308.496 269.644862 
L 308.64 270.411387 
L 308.784 271.128571 
L 308.856 271.5 
L 308.928 271.775226 
L 309.072 272.355131 
L 309.216 272.876129 
L 309.36 273.426581 
L 309.504 273.977032 
L 309.6 274.344 
L 309.648 273.063543 
L 309.792 268.819723 
L 309.792 268.8 
L 309.9 263.818104 
L 309.936 264.764309 
L 310.032 267.6 
L 310.08 268.8 
L 310.2 271.898829 
L 310.224 271.973902 
L 310.368 272.383437 
L 310.512 272.940998 
L 310.656 273.416109 
L 310.8 273.924689 
L 310.944 274.344 
L 310.944 274.355645 
L 311.088 274.280283 
L 311.232 274.216566 
L 311.376 274.15285 
L 311.52 274.129847 
L 311.664 274.048023 
L 311.808 273.961699 
L 311.952 273.919577 
L 312.096 273.834895 
L 312.24 273.854172 
L 312.3 273.883646 
L 312.384 273.72624 
L 312.528 273.695794 
L 312.672 273.665349 
L 312.816 273.636162 
L 312.96 273.607824 
L 313.104 273.693012 
L 313.248 273.543566 
L 313.392 273.51312 
L 313.536 273.584 
L 313.68 273.452229 
L 313.824 273.423338 
L 313.968 273.411477 
L 314.1 274.656 
L 314.112 273.360891 
L 314.256 273.352903 
L 314.4 273.412091 
L 314.4 273.356878 
L 314.544 273.307162 
L 314.688 273.204 
L 314.832 273.156 
L 314.976 273.108 
L 315.12 273.068472 
L 315.264 273.019145 
L 315.408 273.048306 
L 315.552 272.919803 
L 315.696 272.868 
L 315.84 272.82 
L 315.984 272.772 
L 316.128 272.724158 
L 316.2 272.7 
L 316.272 272.752964 
L 316.416 272.613689 
L 316.56 272.556 
L 316.704 272.4984 
L 316.848 272.4408 
L 316.992 272.3832 
L 317.136 272.3256 
L 317.28 272.268336 
L 317.424 272.248709 
L 317.568 272.156071 
L 317.7 272.12022 
L 317.7 274.2 
L 317.712 272.211547 
L 317.856 271.965517 
L 318 271.870036 
L 318.144 271.730321 
L 318.288 271.593661 
L 318.432 271.470467 
L 318.576 271.344828 
L 318.72 271.331016 
L 318.744 271.2 
L 318.864 271.127599 
L 319.008 270.9 
L 319.152 270.776589 
L 319.296 270.583701 
L 319.44 270.409751 
L 319.584 270.245455 
L 319.728 270.10348 
L 319.8 270 
L 319.872 269.831434 
L 320.016 269.46 
L 320.16 269.1 
L 320.304 268.74 
L 320.448 268.434172 
L 320.592 268.057699 
L 320.736 267.660572 
L 320.88 267.3 
L 321 267 
L 321.024 266.95584 
L 321.168 266.699732 
L 321.312 266.436538 
L 321.456 266.164433 
L 321.6 265.905746 
L 321.744 265.63104 
L 321.888 265.459089 
L 321.9 265.347663 
L 322.032 265.37832 
L 322.176 265.416168 
L 322.32 265.4532 
L 322.344 267.9 
L 322.464 265.494553 
L 322.608 265.52808 
L 322.752 265.56552 
L 322.896 265.639941 
L 323.04 265.740209 
L 323.1 265.661848 
L 323.184 265.75008 
L 323.328 266.010954 
L 323.472 266.07264 
L 323.616 266.316058 
L 323.76 266.523249 
L 323.904 266.556482 
L 324.048 266.743681 
L 324.192 267.016899 
L 324.3 267 
L 324.336 267.045 
L 324.48 267.225 
L 324.624 267.515268 
L 324.768 267.585 
L 324.912 267.774034 
L 325.056 267.956355 
L 325.2 268.125563 
L 325.344 268.305 
L 325.488 268.522127 
L 325.5 268.538966 
L 325.632 268.21884 
L 325.656 270 
L 325.776 268.048508 
L 325.92 267.613019 
L 326.064 267.29868 
L 326.208 267.099766 
L 326.352 266.696499 
L 326.496 266.37852 
L 326.64 266.0718 
L 326.7 265.944 
L 326.784 266.03577 
L 326.928 266.156859 
L 327.072 266.289888 
L 327.216 266.288 
L 327.36 266.395264 
L 327.504 266.602755 
L 327.6 266.593644 
L 327.648 266.482909 
L 327.792 266.427125 
L 327.936 266.116373 
L 328.08 265.997217 
L 328.224 265.846288 
L 328.368 265.566545 
L 328.512 265.383273 
L 328.656 265.244649 
L 328.656 265.2 
L 328.8 265.346211 
L 328.944 265.432258 
L 329.088 265.548387 
L 329.232 265.664893 
L 329.376 265.780645 
L 329.4 265.934451 
L 329.52 266.04 
L 329.664 266.428791 
L 329.808 266.616 
L 329.952 266.904 
L 330.096 267.192 
L 330.24 267.48 
L 330.384 267.768 
L 330.528 268.073012 
L 330.6 268.2 
L 330.672 268.411251 
L 330.816 268.632 
L 330.96 268.92 
L 331.104 269.208 
L 331.248 269.496 
L 331.392 269.784 
L 331.536 270.072 
L 331.68 270.36 
L 331.824 270.648015 
L 331.968 270.936 
L 332.1 271.306793 
L 332.112 271.285106 
L 332.256 271.382016 
L 332.4 271.45 
L 332.544 271.57 
L 332.688 271.718885 
L 332.832 271.81 
L 332.976 271.959169 
L 333.12 272.05 
L 333.264 272.17 
L 333.408 272.352428 
L 333.552 272.41 
L 333.696 272.630319 
L 333.84 272.65 
L 333.9 272.7 
L 333.9 274.056 
L 333.984 272.854315 
L 334.128 272.7912 
L 334.272 272.901469 
L 334.416 272.953607 
L 334.56 272.964 
L 334.704 273.0216 
L 334.848 273.0792 
L 334.992 273.138058 
L 335.136 273.1944 
L 335.28 273.257848 
L 335.4 273.382225 
L 335.424 273.385555 
L 335.568 273.216 
L 335.712 273.144 
L 335.856 273.072 
L 336 273 
L 336.144 272.942794 
L 336.288 272.856 
L 336.432 272.784 
L 336.576 272.712 
L 336.6 272.7 
L 336.72 272.437381 
L 336.864 272.1192 
L 337.008 271.8024 
L 337.152 271.485863 
L 337.296 271.175516 
L 337.44 270.85652 
L 337.584 270.538134 
L 337.728 270.219161 
L 337.872 269.92503 
L 338.016 269.5848 
L 338.1 269.4 
L 338.16 268.981509 
L 338.304 268.032612 
L 338.4 267.341863 
L 338.448 259.6 
L 338.544 244.2 
L 338.592 244.523077 
L 338.736 245.502264 
L 338.856 246.334327 
L 338.88 247.8 
L 339.024 256.800249 
L 339.144 264.302834 
L 339.168 264.459372 
L 339.312 265.294737 
L 339.456 266.214994 
L 339.6 267 
L 339.6 267 
L 339.744 267.857143 
L 339.888 268.714286 
L 340.032 269.571429 
L 340.104 270 
L 340.176 270.342857 
L 340.32 270.639523 
L 340.464 271.537076 
L 340.608 272.4 
L 340.608 272.4 
L 340.752 271.884422 
L 340.896 273.264 
L 341.04 273.279106 
L 341.184 274.128 
L 341.208 273.789822 
L 341.328 273.5421 
L 341.472 273.512232 
L 341.496 274.2 
L 341.616 274.290094 
L 341.76 273.875662 
L 341.808 274.8 
L 341.904 274.487861 
L 342.048 274.705448 
L 342.192 274.661624 
L 342.336 275.084607 
L 342.48 275.540879 
L 342.6 276.408 
L 342.624 276.48 
L 342.768 276.912 
L 342.912 277.344 
L 343.056 277.718932 
L 343.2 278.208 
L 343.2 277.865496 
L 343.344 277.568533 
L 343.488 278.168727 
L 343.632 278.149091 
L 343.776 277.79394 
L 343.92 278.023559 
L 343.992 277.789045 
L 344.064 278.090471 
L 344.208 277.544466 
L 344.352 278.017042 
L 344.496 278.033294 
L 344.64 277.884509 
L 344.784 277.995176 
L 344.808 277.801045 
L 344.928 278.1936 
L 345.072 277.637135 
L 345.216 278.134405 
L 345.36 278.593715 
L 345.408 279 
L 345.408 276.096 
L 345.504 279.049171 
L 345.648 278.427474 
L 345.792 278.909315 
L 345.936 278.648469 
L 346.08 279.344195 
L 346.224 279.417951 
L 346.368 279.491707 
L 346.392 279.333893 
L 346.512 279.100574 
L 346.656 279.54624 
L 346.8 279.56928 
L 346.944 279.59232 
L 347.088 279.61536 
L 347.232 279.6384 
L 347.376 279.66144 
L 347.52 279.68448 
L 347.592 278.977254 
L 347.664 279.716746 
L 347.808 279.758237 
L 347.952 278.896663 
L 348.096 279.08209 
L 348.24 279.882712 
L 348.384 279.093763 
L 348.528 279.965695 
L 348.672 280.007186 
L 348.816 279.733436 
L 348.96 279.666435 
L 349.008 280.104 
L 349.104 280.123862 
L 349.248 280.153655 
L 349.392 277.608 
L 349.392 279.860753 
L 349.536 280.213241 
L 349.68 280.243034 
L 349.824 279.876536 
L 349.968 279.366978 
L 350.112 279.47573 
L 350.256 280.362207 
L 350.4 279.738764 
L 350.4 279.780635 
L 350.544 280.401672 
L 350.688 280.411343 
L 350.7 277.392 
L 350.832 280.421015 
L 350.976 280.430687 
L 351.12 280.440358 
L 351.264 279.521963 
L 351.408 279.587858 
L 351.552 280.469373 
L 351.696 280.479045 
L 351.84 280.488716 
L 351.984 280.498388 
L 352.008 280.5 
L 352.128 280.53 
L 352.272 280.566 
L 352.416 280.602 
L 352.56 280.638 
L 352.704 280.674 
L 352.848 280.71 
L 352.992 280.676796 
L 353.136 280.076047 
L 353.28 279.94597 
L 353.424 280.688492 
L 353.568 280.89 
L 353.592 280.896 
L 353.712 280.169544 
L 353.856 280.012708 
L 353.904 277.104 
L 354 280.150965 
L 354.144 281.003104 
L 354.288 281.031045 
L 354.432 280.170875 
L 354.576 280.656681 
L 354.72 281.114866 
L 354.864 281.142806 
L 355.008 281.170746 
L 355.152 281.198687 
L 355.2 281.199596 
L 355.296 281.187429 
L 355.44 281.156571 
L 355.584 281.125714 
L 355.728 281.094857 
L 355.872 281.064 
L 356.016 280.157607 
L 356.16 280.33556 
L 356.208 280.992 
L 356.208 278.208 
L 356.304 280.402667 
L 356.448 281.310329 
L 356.592 281.592 
L 356.592 281.592 
L 356.736 280.702035 
L 356.88 281.379502 
L 357.024 281.302808 
L 357.168 281.660629 
L 357.312 281.452254 
L 357.408 277.392 
L 357.456 281.725714 
L 357.6 281.054514 
L 357.744 281.770286 
L 357.888 281.639954 
L 358.032 280.949421 
L 358.176 281.837143 
L 358.32 281.64982 
L 358.464 281.881714 
L 358.608 281.904 
L 358.608 281.904 
L 358.752 281.904 
L 358.896 281.202213 
L 359.04 281.265694 
L 359.184 281.268634 
L 359.328 281.564637 
L 359.4 276.408 
L 359.472 281.904 
L 359.616 281.904 
L 359.76 281.741633 
L 359.904 281.259502 
L 360.048 281.904 
L 360.192 281.572887 
L 360.336 280.987557 
L 360.48 281.838139 
L 360.6 281.904 
L 360.624 281.897928 
L 360.768 281.861494 
L 360.912 281.433506 
L 361.056 281.788627 
L 361.2 281.752193 
L 361.344 281.715759 
L 361.488 281.244407 
L 361.632 281.642892 
L 361.776 281.606458 
L 361.92 281.570024 
L 362.064 281.53359 
L 362.208 281.497157 
L 362.352 281.460723 
L 362.496 281.424289 
L 362.592 281.246699 
L 362.64 280.76148 
L 362.784 281.305433 
L 362.928 281.234507 
L 363.072 281.163582 
L 363.216 280.771562 
L 363.36 280.499565 
L 363.504 280.950806 
L 363.648 280.879881 
L 363.792 280.808955 
L 363.936 279.928945 
L 364.08 280.667104 
L 364.2 280.608 
L 364.224 280.223018 
L 364.368 280.535586 
L 364.512 280.473517 
L 364.656 280.008523 
L 364.8 280.346394 
L 364.944 279.51066 
L 365.088 280.225241 
L 365.232 280.163172 
L 365.376 280.101103 
L 365.52 279.303605 
L 365.592 280.008 
L 365.664 279.333907 
L 365.808 277.2 
L 365.808 279.792 
L 365.952 278.690796 
L 366.096 279.208599 
L 366.24 279.36 
L 366.384 279.216 
L 366.528 278.380495 
L 366.672 278.928 
L 366.792 278.055674 
L 366.816 278.796 
L 366.96 278.253432 
L 367.104 278.652 
L 367.248 278.58 
L 367.392 278.508 
L 367.536 278.436 
L 367.68 278.322793 
L 367.824 277.696275 
L 367.968 278.22 
L 367.992 278.208 
L 368.112 278.4048 
L 368.208 276.096 
L 368.256 278.277241 
L 368.4 278.87712 
L 368.544 279.11328 
L 368.592 279.192 
L 368.688 279.206644 
L 368.832 278.59214 
L 368.976 278.71757 
L 369.12 278.731115 
L 369.264 279.294508 
L 369.408 279.316475 
L 369.552 279.338441 
L 369.696 279.360407 
L 369.84 279.382373 
L 369.984 278.682809 
L 370.008 279.408 
L 370.008 276.192 
L 370.128 279.362545 
L 370.272 279.226241 
L 370.416 279.253455 
L 370.56 279.198909 
L 370.704 279.144364 
L 370.8 273.696 
L 370.848 279.089818 
L 370.992 279.035273 
L 371.136 278.980727 
L 371.28 278.926182 
L 371.424 278.871636 
L 371.568 278.817091 
L 371.592 278.67956 
L 371.712 278.772286 
L 371.832 273.696 
L 371.856 278.729429 
L 372 278.686571 
L 372.144 278.643714 
L 372.288 278.600857 
L 372.432 278.558 
L 372.576 278.189485 
L 372.72 278.472286 
L 372.864 278.429429 
L 373.008 277.784886 
L 373.152 277.860473 
L 373.2 275.904 
L 373.296 278.300857 
L 373.44 277.467377 
L 373.584 278.215143 
L 373.608 278.208 
L 373.728 278.304585 
L 373.872 277.802908 
L 374.016 278.53639 
L 374.16 277.975726 
L 374.304 278.57113 
L 374.448 278.602758 
L 374.592 279 
L 374.592 276.9 
L 374.592 278.592433 
L 374.736 279.284571 
L 374.88 279.569143 
L 375.024 279.853714 
L 375.168 280.138286 
L 375.312 280.422857 
L 375.456 280.072492 
L 375.6 280.155561 
L 375.6 280.992 
L 375.744 280.277038 
L 375.888 281.194286 
L 376.032 281.295429 
L 376.176 280.525914 
L 376.32 281.497714 
L 376.464 281.598857 
L 376.608 281.047506 
L 376.608 281.184875 
L 376.752 281.69122 
L 376.896 281.682439 
L 377.04 281.673659 
L 377.184 280.839678 
L 377.328 281.64572 
L 377.472 281.374025 
L 377.592 281.64 
L 377.616 281.640842 
L 377.664 278.016 
L 377.76 280.886865 
L 377.904 281.650947 
L 378.048 281.656 
L 378.192 281.661053 
L 378.336 281.666105 
L 378.48 280.715115 
L 378.624 281.632729 
L 378.768 281.681263 
L 378.912 281.364245 
L 378.96 281.688 
L 379.056 281.281173 
L 379.2 281.605707 
L 379.344 281.688 
L 379.488 281.688 
L 379.632 280.931494 
L 379.776 281.688 
L 379.92 280.843787 
L 380.064 281.688 
L 380.208 281.410667 
L 380.352 281.64583 
L 380.496 281.526073 
L 380.64 281.040724 
L 380.784 281.667384 
L 380.928 281.404359 
L 380.928 281.114628 
L 381.072 281.544 
L 381.216 281.4 
L 381.36 281.256 
L 381.504 281.112 
L 381.648 280.968 
L 381.792 280.824 
L 381.936 280.68 
L 382.08 279.818006 
L 382.224 280.392 
L 382.368 280.248 
L 382.44 280.176 
L 382.512 279.279686 
L 382.656 279.477693 
L 382.8 279.696 
L 382.944 279.504 
L 383.088 278.66731 
L 383.232 279.080659 
L 383.376 278.313035 
L 383.52 277.921655 
L 383.664 278.314467 
L 383.736 278.386352 
L 383.808 278.34 
L 383.952 273.672 
L 383.952 278.124 
L 384.096 277.908 
L 384.24 276.89216 
L 384.384 277.198779 
L 384.528 277.26 
L 384.6 277.146796 
L 384.672 277.1088 
L 384.816 276.259246 
L 384.96 276.936 
L 385.104 276.394066 
L 385.248 276.685587 
L 385.392 276.29202 
L 385.536 276.267834 
L 385.68 276.504 
L 385.68 276.504 
L 385.824 276.0688 
L 385.968 274.913709 
L 386.112 275.1984 
L 386.256 274.7632 
L 386.4 274.328 
L 386.544 273.8928 
L 386.688 273.4576 
L 386.76 273.24 
L 386.832 272.9216 
L 386.976 272.2848 
L 387.12 271.648 
L 387.264 271.0112 
L 387.408 270.3744 
L 387.552 269.7376 
L 387.696 269.1008 
L 387.84 268.464 
L 387.84 268.464 
L 387.984 267.908571 
L 388.128 267.353143 
L 388.272 266.797714 
L 388.416 266.242286 
L 388.512 265.872 
L 388.56 265.9488 
L 388.704 266.1792 
L 388.848 266.4096 
L 388.992 266.64 
L 389.136 266.8704 
L 389.28 267.1008 
L 389.424 267.3312 
L 389.568 267.5616 
L 389.592 267.6 
L 389.712 267.882222 
L 389.856 268.220889 
L 390 268.559556 
L 390.144 268.898222 
L 390.288 269.236889 
L 390.432 269.575556 
L 390.576 269.914222 
L 390.72 270.252889 
L 390.864 270.591556 
L 390.888 270.648 
L 391.008 270.224667 
L 391.152 269.716667 
L 391.296 269.208667 
L 391.44 268.700667 
L 391.584 268.192667 
L 391.728 267.684667 
L 391.752 267.6 
L 391.872 266.88 
L 392.016 266.016 
L 392.16 265.152 
L 392.304 264.288 
L 392.4 263.712 
L 392.448 263.784 
L 392.592 264 
L 392.736 264.216 
L 392.88 264.432 
L 393.024 264.648 
L 393.168 264.864 
L 393.264 265.008 
L 393.312 265.032 
L 393.456 265.104 
L 393.6 265.176 
L 393.744 265.248 
L 393.888 265.32 
L 394.032 265.392 
L 394.128 265.44 
L 394.176 265.657333 
L 394.32 266.309333 
L 394.464 266.961333 
L 394.608 267.613333 
L 394.752 268.265333 
L 394.896 268.917333 
L 394.992 269.352 
L 395.04 269.521043 
L 395.184 270.028174 
L 395.328 270.535304 
L 395.472 271.042435 
L 395.616 271.549565 
L 395.76 272.056696 
L 395.904 272.563826 
L 396.048 273.070957 
L 396.096 273.24 
L 396.192 273.1056 
L 396.336 272.904 
L 396.48 272.7024 
L 396.624 272.5008 
L 396.768 272.2992 
L 396.912 272.0976 
L 397.056 271.896 
L 397.176 271.728 
L 397.2 271.675778 
L 397.344 271.362444 
L 397.488 271.049111 
L 397.632 270.735778 
L 397.776 270.422444 
L 397.92 270.109111 
L 398.064 269.795778 
L 398.208 269.482444 
L 398.352 269.169111 
L 398.472 268.908 
L 398.496 268.803778 
L 398.64 268.178444 
L 398.784 267.553111 
L 398.928 266.927778 
L 399.072 266.302444 
L 399.216 265.677111 
L 399.36 265.051778 
L 399.504 264.426444 
L 399.648 263.801111 
L 399.768 263.28 
L 399.792 263.183556 
L 399.936 262.604889 
L 400.08 262.026222 
L 400.224 261.447556 
L 400.368 260.868889 
L 400.512 260.290222 
L 400.656 259.711556 
L 400.8 259.132889 
L 400.944 258.554222 
L 401.064 258.072 
L 401.088 257.967556 
L 401.232 257.340889 
L 401.376 256.714222 
L 401.52 256.087556 
L 401.664 255.460889 
L 401.808 254.834222 
L 401.952 254.207556 
L 402.096 253.580889 
L 402.24 252.954222 
L 402.36 252.432 
L 402.384 252.282327 
L 402.528 251.384291 
L 402.672 250.486255 
L 402.816 249.588218 
L 402.96 248.690182 
L 403.104 247.792145 
L 403.248 246.894109 
L 403.392 245.996073 
L 403.536 245.098036 
L 403.68 244.2 
L 403.68 244.2 
L 403.824 243.333333 
L 403.968 242.466667 
L 404.112 241.6 
L 404.256 240.733333 
L 404.4 239.866667 
L 404.544 239 
L 404.688 238.133333 
L 404.832 237.266667 
L 404.976 236.4 
L 404.976 236.4 
L 405.12 235.5328 
L 405.264 234.6656 
L 405.408 233.7984 
L 405.552 232.9312 
L 405.696 232.064 
L 405.84 231.1968 
L 405.984 230.3296 
L 406.056 229.896 
L 406.128 229.269333 
L 406.272 228.016 
L 406.416 226.762667 
L 406.56 225.509333 
L 406.704 224.256 
L 406.704 224.256 
L 406.848 221.530286 
L 406.992 218.804571 
L 407.04 217.896 
L 407.136 216.8688 
L 407.28 215.328 
L 407.424 213.7872 
L 407.568 212.2464 
L 407.712 210.7056 
L 407.76 210.192 
L 407.856 208.99904 
L 408 207.2096 
L 408.144 205.42016 
L 408.288 203.63072 
L 408.432 201.84128 
L 408.576 200.05184 
L 408.66 199.008 
L 408.72 198.355119 
L 408.864 196.788203 
L 409.008 195.221288 
L 409.152 193.654373 
L 409.296 192.087458 
L 409.368 191.304 
L 409.44 191.003657 
L 409.584 190.402971 
L 409.728 189.802286 
L 409.872 189.2016 
L 410.016 188.600914 
L 410.16 188.000229 
L 410.208 187.8 
L 410.304 187.653474 
L 410.448 187.433684 
L 410.592 187.213895 
L 410.736 186.994105 
L 410.88 186.774316 
L 411.024 186.554526 
L 411.12 186.408 
L 411.168 185.868923 
L 411.312 184.251692 
L 411.456 182.634462 
L 411.6 181.017231 
L 411.744 179.4 
L 411.744 179.4 
L 411.888 177.518069 
L 412.032 175.636138 
L 412.176 173.754207 
L 412.32 171.872276 
L 412.44 170.304 
L 412.464 169.938783 
L 412.608 167.747478 
L 412.752 165.556174 
L 412.896 163.36487 
L 412.992 161.904 
L 413.04 161.287322 
L 413.184 159.437288 
L 413.328 157.587254 
L 413.472 155.73722 
L 413.616 153.887186 
L 413.7 152.808 
L 413.76 151.78361 
L 413.904 149.325073 
L 414.048 146.866537 
L 414.192 144.408 
L 414.192 144.408 
L 414.336 142.216696 
L 414.48 140.025391 
L 414.624 137.834087 
L 414.744 136.008 
L 414.768 135.774286 
L 414.912 134.372 
L 415.056 132.969714 
L 415.2 131.567429 
L 415.248 131.1 
L 415.344 130.436842 
L 415.488 129.442105 
L 415.632 128.447368 
L 415.776 127.452632 
L 415.92 126.457895 
L 416.064 125.463158 
L 416.16 124.8 
L 416.208 123.947077 
L 416.352 121.388308 
L 416.472 119.256 
L 416.496 119.044533 
L 416.64 117.775733 
L 416.784 116.506933 
L 416.928 115.238133 
L 417.072 113.969333 
L 417.216 112.700533 
L 417.36 111.431733 
L 417.504 110.162933 
L 417.552 109.74 
L 417.648 109.471636 
L 417.792 109.069091 
L 417.936 108.666545 
L 418.08 108.264 
L 418.08 108.264 
L 418.224 106.62 
L 418.368 104.976 
L 418.512 103.332 
L 418.656 101.688 
L 418.656 101.688 
L 418.8 100.157217 
L 418.944 98.626435 
L 419.088 97.095652 
L 419.232 95.56487 
L 419.376 94.034087 
L 419.52 92.503304 
L 419.664 90.972522 
L 419.76 89.952 
L 419.808 89.292 
L 419.952 87.312 
L 420.096 85.332 
L 420.24 83.352 
L 420.384 81.372 
L 420.528 79.392 
L 420.672 77.412 
L 420.72 76.752 
L 420.816 75.613333 
L 420.96 73.905333 
L 421.104 72.197333 
L 421.248 70.489333 
L 421.392 68.781333 
L 421.536 67.073333 
L 421.584 66.504 
L 421.68 65.09856 
L 421.824 62.9904 
L 421.968 60.88224 
L 422.112 58.77408 
L 422.184 57.72 
L 422.256 57.613714 
L 422.4 57.401143 
L 422.544 57.188571 
L 422.688 56.976 
L 422.688 56.976 
L 422.832 55.559226 
L 422.976 54.142452 
L 423.12 52.725677 
L 423.264 51.308903 
L 423.408 49.892129 
L 423.432 49.656 
L 423.552 48.432 
L 423.696 46.9632 
L 423.84 45.4944 
L 423.984 44.0256 
L 424.128 42.5568 
L 424.152 42.312 
L 424.272 41.251355 
L 424.416 39.978581 
L 424.56 38.705806 
L 424.704 37.433032 
L 424.848 36.160258 
L 424.896 35.736 
L 424.992 35.0512 
L 425.136 34.024 
L 425.28 32.9968 
L 425.424 31.9696 
L 425.568 30.9424 
L 425.616 30.6 
L 425.712 30.376696 
L 425.856 30.041739 
L 426 29.706783 
L 426.144 29.371826 
L 426.288 29.03687 
L 426.432 28.701913 
L 426.576 28.366957 
L 426.72 28.032 
L 426.72 28.032 
L 426.864 27.95882 
L 427.008 27.885639 
L 427.152 27.812459 
L 427.296 27.739279 
L 427.44 27.666098 
L 427.584 27.592918 
L 427.728 27.519738 
L 427.872 27.446557 
L 428.016 27.373377 
L 428.16 27.300197 
L 428.184 27.288 
L 428.304 27.273763 
L 428.448 27.256678 
L 428.592 27.239593 
L 428.736 27.222508 
L 428.88 27.205424 
L 429.024 27.188339 
L 429.168 27.171254 
L 429.312 27.154169 
L 429.456 27.137085 
L 429.6 27.12 
L 429.6 27.12 
L 429.744 27.116612 
L 429.888 27.113224 
L 430.032 27.109835 
L 430.176 27.106447 
L 430.32 27.103059 
L 430.464 27.099671 
L 430.608 27.096282 
L 430.752 27.092894 
L 430.896 27.089506 
L 431.04 27.086118 
L 431.184 27.082729 
L 431.328 27.079341 
L 431.472 27.075953 
L 431.616 27.072565 
L 431.64 27.072 
" clip-path="url(#p43e6e4fcc2)" style="fill: none; stroke: #000000; stroke-width: 0.5; stroke-linecap: square"/>
   </g>
   <g id="patch_3">
    <path d="M 50.256 282.576 
L 50.256 27 
" style="fill: none; stroke: #000000; stroke-width: 0.8; stroke-linejoin: miter; stroke-linecap: square"/>
   </g>
   <g id="patch_4">
    <path d="M 431.64 282.576 
L 431.64 27 
" style="fill: none; stroke: #000000; stroke-width: 0.8; stroke-linejoin: miter; stroke-linecap: square"/>
   </g>
   <g id="patch_5">
    <path d="M 50.256 282.576 
L 431.64 282.576 
" style="fill: none; stroke: #000000; stroke-width: 0.8; stroke-linejoin: miter; stroke-linecap: square"/>
   </g>
   <g id="patch_6">
    <path d="M 50.256 27 
L 431.64 27 
" style="fill: none; stroke: #000000; stroke-width: 0.8; stroke-linejoin: miter; stroke-linecap: square"/>
   </g>
   <g id="text_15">
    <text style="font-size: 12px; font-family: 'DejaVu Sans', sans-serif; text-anchor: middle" x="240.9480" y="20.7600" transform="rotate(-0 240.9480 20.7600)">Peak field sums for UK0098_20250917_184620_769775</text>
   </g>
   <g id="legend_1">
    <g id="patch_7">
     <path d="M 204.270187 65.07625 
L 277.625812 65.07625 
Q 279.625812 65.07625 279.625812 63.07625 
L 279.625812 34 
Q 279.625812 32 277.625812 32 
L 204.270187 32 
Q 202.270187 32 202.270187 34 
L 202.270187 63.07625 
Q 202.270187 65.07625 204.270187 65.07625 
z
" style="fill: #ffffff; opacity: 0.8; stroke: #cccccc; stroke-linejoin: miter"/>
    </g>
    <g id="line2d_45">
     <path d="M 206.415188 40.243438 
L 216.415188 40.243438 
L 226.415188 40.243438 
" style="fill: none; stroke: #ff0000; stroke-width: 0.5; stroke-linecap: square"/>
    </g>
    <g id="text_16">
     <text style="font-size: 10px; font-family: 'DejaVu Sans', sans-serif; text-anchor: start" x="234.415188" y="43.743438" transform="rotate(-0 234.415188 43.743438)">Peak</text>
    </g>
    <g id="line2d_46">
     <path d="M 206.415188 55.351563 
L 216.415188 55.351563 
L 226.415188 55.351563 
" style="fill: none; stroke: #000000; stroke-width: 0.5; stroke-linecap: square"/>
    </g>
    <g id="text_17">
     <text style="font-size: 10px; font-family: 'DejaVu Sans', sans-serif; text-anchor: start" x="234.415188" y="58.851563" transform="rotate(-0 234.415188 58.851563)">Average</text>
    </g>
   </g>
  </g>
 </g>
 <defs>
  <clipPath id="p43e6e4fcc2">
   <rect x="50.256" y="27" width="381.384" height="255.576"/>
  </clipPath>
 </defs>
</svg>

</body></html>
